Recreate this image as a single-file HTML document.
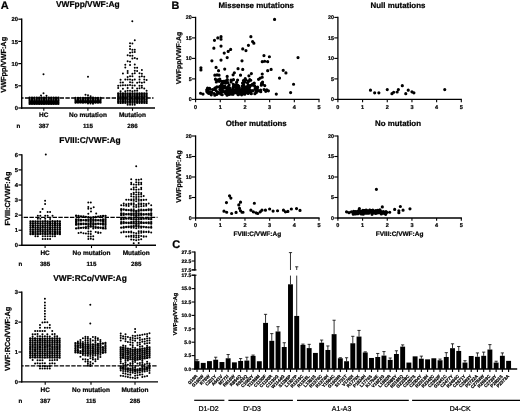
<!DOCTYPE html>
<html><head><meta charset="utf-8"><title>Figure</title>
<style>
html,body{margin:0;padding:0;background:#fff;}
body{width:520px;height:412px;overflow:hidden;}
svg{display:block;font-family:"Liberation Sans",sans-serif;filter:grayscale(1);}
text{text-rendering:geometricPrecision;stroke:#000;stroke-width:0.22px;}
</style></head><body>
<svg width="520" height="412" viewBox="0 0 520 412">
<rect width="520" height="412" fill="#fff"/>
<text x="87.8" y="6.8" font-size="8.4" text-anchor="middle" font-weight="bold">VWFpp/VWF:Ag</text>
<line x1="21.7" y1="18.6" x2="21.7" y2="108.7" stroke="#000" stroke-width="1.4"/>
<line x1="21" y1="108" x2="155" y2="108" stroke="#000" stroke-width="1.4"/>
<line x1="18.3" y1="108" x2="21.7" y2="108" stroke="#000" stroke-width="1.2"/>
<text x="17.9" y="110.1" font-size="5.8" text-anchor="end" font-weight="bold">0</text>
<line x1="18.3" y1="85.8" x2="21.7" y2="85.8" stroke="#000" stroke-width="1.2"/>
<text x="17.9" y="87.9" font-size="5.8" text-anchor="end" font-weight="bold">5</text>
<line x1="18.3" y1="63.6" x2="21.7" y2="63.6" stroke="#000" stroke-width="1.2"/>
<text x="17.9" y="65.7" font-size="5.8" text-anchor="end" font-weight="bold">10</text>
<line x1="18.3" y1="41.4" x2="21.7" y2="41.4" stroke="#000" stroke-width="1.2"/>
<text x="17.9" y="43.5" font-size="5.8" text-anchor="end" font-weight="bold">15</text>
<line x1="18.3" y1="19.2" x2="21.7" y2="19.2" stroke="#000" stroke-width="1.2"/>
<text x="17.9" y="21.3" font-size="5.8" text-anchor="end" font-weight="bold">20</text>
<line x1="43.8" y1="108" x2="43.8" y2="110.8" stroke="#000" stroke-width="1.1"/>
<text x="43.8" y="116.6" font-size="6.5" text-anchor="middle" font-weight="bold">HC</text>
<text x="43.8" y="127.5" font-size="6.2" text-anchor="middle" font-weight="bold">387</text>
<line x1="87.9" y1="108" x2="87.9" y2="110.8" stroke="#000" stroke-width="1.1"/>
<text x="87.9" y="116.6" font-size="6.5" text-anchor="middle" font-weight="bold">No mutation</text>
<text x="87.9" y="127.5" font-size="6.2" text-anchor="middle" font-weight="bold">115</text>
<line x1="132.5" y1="108" x2="132.5" y2="110.8" stroke="#000" stroke-width="1.1"/>
<text x="132.5" y="116.6" font-size="6.5" text-anchor="middle" font-weight="bold">Mutation</text>
<text x="132.5" y="127.5" font-size="6.2" text-anchor="middle" font-weight="bold">286</text>
<text x="18.5" y="127.5" font-size="6.2" text-anchor="middle" font-weight="bold">n</text>
<line x1="21.7" y1="98" x2="153.5" y2="98" stroke="#000" stroke-width="1.3" stroke-dasharray="4.4 1.38" stroke-dashoffset="2.55"/>
<text x="6.4" y="64.8" font-size="7.35" text-anchor="middle" font-weight="bold" transform="rotate(-90 6.4 64.8)">VWFpp/VWF:Ag</text>
<rect x="29.6" y="100.4" width="28.8" height="4.2" fill="#000"/>
<rect x="75" y="100.2" width="26" height="3.0" fill="#000"/>
<path d="M28.43 97.67a1.17 1.17 0 1 0 2.34 0a1.17 1.17 0 1 0 -2.34 0zM30.83 97.65a1.17 1.17 0 1 0 2.34 0a1.17 1.17 0 1 0 -2.34 0zM33.23 97.68a1.17 1.17 0 1 0 2.34 0a1.17 1.17 0 1 0 -2.34 0zM35.63 97.66a1.17 1.17 0 1 0 2.34 0a1.17 1.17 0 1 0 -2.34 0zM38.03 97.72a1.17 1.17 0 1 0 2.34 0a1.17 1.17 0 1 0 -2.34 0zM40.43 97.62a1.17 1.17 0 1 0 2.34 0a1.17 1.17 0 1 0 -2.34 0zM42.83 97.72a1.17 1.17 0 1 0 2.34 0a1.17 1.17 0 1 0 -2.34 0zM45.23 97.57a1.17 1.17 0 1 0 2.34 0a1.17 1.17 0 1 0 -2.34 0zM47.63 97.75a1.17 1.17 0 1 0 2.34 0a1.17 1.17 0 1 0 -2.34 0zM50.03 97.68a1.17 1.17 0 1 0 2.34 0a1.17 1.17 0 1 0 -2.34 0zM52.43 97.56a1.17 1.17 0 1 0 2.34 0a1.17 1.17 0 1 0 -2.34 0zM54.83 97.57a1.17 1.17 0 1 0 2.34 0a1.17 1.17 0 1 0 -2.34 0zM57.23 97.61a1.17 1.17 0 1 0 2.34 0a1.17 1.17 0 1 0 -2.34 0zM28.43 99.17a1.17 1.17 0 1 0 2.34 0a1.17 1.17 0 1 0 -2.34 0zM30.83 99.25a1.17 1.17 0 1 0 2.34 0a1.17 1.17 0 1 0 -2.34 0zM33.23 99.21a1.17 1.17 0 1 0 2.34 0a1.17 1.17 0 1 0 -2.34 0zM35.63 99.21a1.17 1.17 0 1 0 2.34 0a1.17 1.17 0 1 0 -2.34 0zM38.03 99.14a1.17 1.17 0 1 0 2.34 0a1.17 1.17 0 1 0 -2.34 0zM40.43 99.28a1.17 1.17 0 1 0 2.34 0a1.17 1.17 0 1 0 -2.34 0zM42.83 99.22a1.17 1.17 0 1 0 2.34 0a1.17 1.17 0 1 0 -2.34 0zM45.23 99.13a1.17 1.17 0 1 0 2.34 0a1.17 1.17 0 1 0 -2.34 0zM47.63 99.09a1.17 1.17 0 1 0 2.34 0a1.17 1.17 0 1 0 -2.34 0zM50.03 99.16a1.17 1.17 0 1 0 2.34 0a1.17 1.17 0 1 0 -2.34 0zM52.43 99.16a1.17 1.17 0 1 0 2.34 0a1.17 1.17 0 1 0 -2.34 0zM54.83 99.25a1.17 1.17 0 1 0 2.34 0a1.17 1.17 0 1 0 -2.34 0zM57.23 99.12a1.17 1.17 0 1 0 2.34 0a1.17 1.17 0 1 0 -2.34 0zM28.43 100.69a1.17 1.17 0 1 0 2.34 0a1.17 1.17 0 1 0 -2.34 0zM30.83 100.68a1.17 1.17 0 1 0 2.34 0a1.17 1.17 0 1 0 -2.34 0zM33.23 100.73a1.17 1.17 0 1 0 2.34 0a1.17 1.17 0 1 0 -2.34 0zM35.63 100.65a1.17 1.17 0 1 0 2.34 0a1.17 1.17 0 1 0 -2.34 0zM38.03 100.67a1.17 1.17 0 1 0 2.34 0a1.17 1.17 0 1 0 -2.34 0zM40.43 100.75a1.17 1.17 0 1 0 2.34 0a1.17 1.17 0 1 0 -2.34 0zM42.83 100.65a1.17 1.17 0 1 0 2.34 0a1.17 1.17 0 1 0 -2.34 0zM45.23 100.61a1.17 1.17 0 1 0 2.34 0a1.17 1.17 0 1 0 -2.34 0zM47.63 100.64a1.17 1.17 0 1 0 2.34 0a1.17 1.17 0 1 0 -2.34 0zM50.03 100.69a1.17 1.17 0 1 0 2.34 0a1.17 1.17 0 1 0 -2.34 0zM52.43 100.75a1.17 1.17 0 1 0 2.34 0a1.17 1.17 0 1 0 -2.34 0zM54.83 100.73a1.17 1.17 0 1 0 2.34 0a1.17 1.17 0 1 0 -2.34 0zM57.23 100.68a1.17 1.17 0 1 0 2.34 0a1.17 1.17 0 1 0 -2.34 0zM28.43 102.17a1.17 1.17 0 1 0 2.34 0a1.17 1.17 0 1 0 -2.34 0zM30.83 102.28a1.17 1.17 0 1 0 2.34 0a1.17 1.17 0 1 0 -2.34 0zM33.23 102.3a1.17 1.17 0 1 0 2.34 0a1.17 1.17 0 1 0 -2.34 0zM35.63 102.2a1.17 1.17 0 1 0 2.34 0a1.17 1.17 0 1 0 -2.34 0zM38.03 102.25a1.17 1.17 0 1 0 2.34 0a1.17 1.17 0 1 0 -2.34 0zM40.43 102.32a1.17 1.17 0 1 0 2.34 0a1.17 1.17 0 1 0 -2.34 0zM42.83 102.17a1.17 1.17 0 1 0 2.34 0a1.17 1.17 0 1 0 -2.34 0zM45.23 102.19a1.17 1.17 0 1 0 2.34 0a1.17 1.17 0 1 0 -2.34 0zM47.63 102.13a1.17 1.17 0 1 0 2.34 0a1.17 1.17 0 1 0 -2.34 0zM50.03 102.24a1.17 1.17 0 1 0 2.34 0a1.17 1.17 0 1 0 -2.34 0zM52.43 102.24a1.17 1.17 0 1 0 2.34 0a1.17 1.17 0 1 0 -2.34 0zM54.83 102.21a1.17 1.17 0 1 0 2.34 0a1.17 1.17 0 1 0 -2.34 0zM57.23 102.22a1.17 1.17 0 1 0 2.34 0a1.17 1.17 0 1 0 -2.34 0zM28.43 103.81a1.17 1.17 0 1 0 2.34 0a1.17 1.17 0 1 0 -2.34 0zM30.83 103.67a1.17 1.17 0 1 0 2.34 0a1.17 1.17 0 1 0 -2.34 0zM33.23 103.8a1.17 1.17 0 1 0 2.34 0a1.17 1.17 0 1 0 -2.34 0zM35.63 103.68a1.17 1.17 0 1 0 2.34 0a1.17 1.17 0 1 0 -2.34 0zM38.03 103.83a1.17 1.17 0 1 0 2.34 0a1.17 1.17 0 1 0 -2.34 0zM40.43 103.83a1.17 1.17 0 1 0 2.34 0a1.17 1.17 0 1 0 -2.34 0zM42.83 103.76a1.17 1.17 0 1 0 2.34 0a1.17 1.17 0 1 0 -2.34 0zM45.23 103.66a1.17 1.17 0 1 0 2.34 0a1.17 1.17 0 1 0 -2.34 0zM47.63 103.83a1.17 1.17 0 1 0 2.34 0a1.17 1.17 0 1 0 -2.34 0zM50.03 103.78a1.17 1.17 0 1 0 2.34 0a1.17 1.17 0 1 0 -2.34 0zM52.43 103.8a1.17 1.17 0 1 0 2.34 0a1.17 1.17 0 1 0 -2.34 0zM54.83 103.7a1.17 1.17 0 1 0 2.34 0a1.17 1.17 0 1 0 -2.34 0zM57.23 103.78a1.17 1.17 0 1 0 2.34 0a1.17 1.17 0 1 0 -2.34 0zM42.5 74.2a1.0 1.0 0 1 0 2 0a1.0 1.0 0 1 0 -2 0zM42.5 93.2a1.0 1.0 0 1 0 2 0a1.0 1.0 0 1 0 -2 0zM40 95.6a1.0 1.0 0 1 0 2 0a1.0 1.0 0 1 0 -2 0zM45.5 95.8a1.0 1.0 0 1 0 2 0a1.0 1.0 0 1 0 -2 0zM74.33 97.81a1.17 1.17 0 1 0 2.34 0a1.17 1.17 0 1 0 -2.34 0zM76.83 97.93a1.17 1.17 0 1 0 2.34 0a1.17 1.17 0 1 0 -2.34 0zM79.33 97.82a1.17 1.17 0 1 0 2.34 0a1.17 1.17 0 1 0 -2.34 0zM81.83 97.8a1.17 1.17 0 1 0 2.34 0a1.17 1.17 0 1 0 -2.34 0zM84.33 97.82a1.17 1.17 0 1 0 2.34 0a1.17 1.17 0 1 0 -2.34 0zM86.83 97.77a1.17 1.17 0 1 0 2.34 0a1.17 1.17 0 1 0 -2.34 0zM89.33 97.84a1.17 1.17 0 1 0 2.34 0a1.17 1.17 0 1 0 -2.34 0zM91.83 97.79a1.17 1.17 0 1 0 2.34 0a1.17 1.17 0 1 0 -2.34 0zM94.33 97.94a1.17 1.17 0 1 0 2.34 0a1.17 1.17 0 1 0 -2.34 0zM96.83 97.89a1.17 1.17 0 1 0 2.34 0a1.17 1.17 0 1 0 -2.34 0zM99.33 97.88a1.17 1.17 0 1 0 2.34 0a1.17 1.17 0 1 0 -2.34 0zM74.33 99.29a1.17 1.17 0 1 0 2.34 0a1.17 1.17 0 1 0 -2.34 0zM76.83 99.47a1.17 1.17 0 1 0 2.34 0a1.17 1.17 0 1 0 -2.34 0zM79.33 99.48a1.17 1.17 0 1 0 2.34 0a1.17 1.17 0 1 0 -2.34 0zM81.83 99.41a1.17 1.17 0 1 0 2.34 0a1.17 1.17 0 1 0 -2.34 0zM84.33 99.43a1.17 1.17 0 1 0 2.34 0a1.17 1.17 0 1 0 -2.34 0zM86.83 99.49a1.17 1.17 0 1 0 2.34 0a1.17 1.17 0 1 0 -2.34 0zM89.33 99.4a1.17 1.17 0 1 0 2.34 0a1.17 1.17 0 1 0 -2.34 0zM91.83 99.47a1.17 1.17 0 1 0 2.34 0a1.17 1.17 0 1 0 -2.34 0zM94.33 99.43a1.17 1.17 0 1 0 2.34 0a1.17 1.17 0 1 0 -2.34 0zM96.83 99.47a1.17 1.17 0 1 0 2.34 0a1.17 1.17 0 1 0 -2.34 0zM99.33 99.42a1.17 1.17 0 1 0 2.34 0a1.17 1.17 0 1 0 -2.34 0zM74.33 100.99a1.17 1.17 0 1 0 2.34 0a1.17 1.17 0 1 0 -2.34 0zM76.83 100.97a1.17 1.17 0 1 0 2.34 0a1.17 1.17 0 1 0 -2.34 0zM79.33 100.93a1.17 1.17 0 1 0 2.34 0a1.17 1.17 0 1 0 -2.34 0zM81.83 100.89a1.17 1.17 0 1 0 2.34 0a1.17 1.17 0 1 0 -2.34 0zM84.33 100.93a1.17 1.17 0 1 0 2.34 0a1.17 1.17 0 1 0 -2.34 0zM86.83 100.94a1.17 1.17 0 1 0 2.34 0a1.17 1.17 0 1 0 -2.34 0zM89.33 100.99a1.17 1.17 0 1 0 2.34 0a1.17 1.17 0 1 0 -2.34 0zM91.83 100.89a1.17 1.17 0 1 0 2.34 0a1.17 1.17 0 1 0 -2.34 0zM94.33 100.93a1.17 1.17 0 1 0 2.34 0a1.17 1.17 0 1 0 -2.34 0zM96.83 100.98a1.17 1.17 0 1 0 2.34 0a1.17 1.17 0 1 0 -2.34 0zM99.33 100.96a1.17 1.17 0 1 0 2.34 0a1.17 1.17 0 1 0 -2.34 0zM74.33 102.46a1.17 1.17 0 1 0 2.34 0a1.17 1.17 0 1 0 -2.34 0zM76.83 102.38a1.17 1.17 0 1 0 2.34 0a1.17 1.17 0 1 0 -2.34 0zM79.33 102.44a1.17 1.17 0 1 0 2.34 0a1.17 1.17 0 1 0 -2.34 0zM81.83 102.52a1.17 1.17 0 1 0 2.34 0a1.17 1.17 0 1 0 -2.34 0zM84.33 102.34a1.17 1.17 0 1 0 2.34 0a1.17 1.17 0 1 0 -2.34 0zM86.83 102.47a1.17 1.17 0 1 0 2.34 0a1.17 1.17 0 1 0 -2.34 0zM89.33 102.37a1.17 1.17 0 1 0 2.34 0a1.17 1.17 0 1 0 -2.34 0zM91.83 102.47a1.17 1.17 0 1 0 2.34 0a1.17 1.17 0 1 0 -2.34 0zM94.33 102.52a1.17 1.17 0 1 0 2.34 0a1.17 1.17 0 1 0 -2.34 0zM96.83 102.47a1.17 1.17 0 1 0 2.34 0a1.17 1.17 0 1 0 -2.34 0zM99.33 102.42a1.17 1.17 0 1 0 2.34 0a1.17 1.17 0 1 0 -2.34 0zM87 103.62a1.0 1.0 0 1 0 2 0a1.0 1.0 0 1 0 -2 0zM89.5 103.53a1.0 1.0 0 1 0 2 0a1.0 1.0 0 1 0 -2 0zM92 103.67a1.0 1.0 0 1 0 2 0a1.0 1.0 0 1 0 -2 0zM87 76.8a1.0 1.0 0 1 0 2 0a1.0 1.0 0 1 0 -2 0zM84.5 94.7a1.0 1.0 0 1 0 2 0a1.0 1.0 0 1 0 -2 0zM87 95.3a1.0 1.0 0 1 0 2 0a1.0 1.0 0 1 0 -2 0zM89.6 96.2a1.0 1.0 0 1 0 2 0a1.0 1.0 0 1 0 -2 0zM133.77 40.17a1.0 1.0 0 1 0 2 0a1.0 1.0 0 1 0 -2 0zM129.03 43.28a1.0 1.0 0 1 0 2 0a1.0 1.0 0 1 0 -2 0zM131.4 43.41a1.0 1.0 0 1 0 2 0a1.0 1.0 0 1 0 -2 0zM129.03 46.32a1.0 1.0 0 1 0 2 0a1.0 1.0 0 1 0 -2 0zM129.03 49.07a1.0 1.0 0 1 0 2 0a1.0 1.0 0 1 0 -2 0zM131.4 49.87a1.0 1.0 0 1 0 2 0a1.0 1.0 0 1 0 -2 0zM133.77 49.71a1.0 1.0 0 1 0 2 0a1.0 1.0 0 1 0 -2 0zM129.03 52.79a1.0 1.0 0 1 0 2 0a1.0 1.0 0 1 0 -2 0zM131.4 52.14a1.0 1.0 0 1 0 2 0a1.0 1.0 0 1 0 -2 0zM133.77 52.02a1.0 1.0 0 1 0 2 0a1.0 1.0 0 1 0 -2 0zM126.66 55.14a1.0 1.0 0 1 0 2 0a1.0 1.0 0 1 0 -2 0zM129.03 55.63a1.0 1.0 0 1 0 2 0a1.0 1.0 0 1 0 -2 0zM131.4 55.63a1.0 1.0 0 1 0 2 0a1.0 1.0 0 1 0 -2 0zM131.4 58.48a1.0 1.0 0 1 0 2 0a1.0 1.0 0 1 0 -2 0zM133.77 58.01a1.0 1.0 0 1 0 2 0a1.0 1.0 0 1 0 -2 0zM136.14 58.71a1.0 1.0 0 1 0 2 0a1.0 1.0 0 1 0 -2 0zM126.66 61.27a1.0 1.0 0 1 0 2 0a1.0 1.0 0 1 0 -2 0zM129.03 61.7a1.0 1.0 0 1 0 2 0a1.0 1.0 0 1 0 -2 0zM124.29 64.79a1.0 1.0 0 1 0 2 0a1.0 1.0 0 1 0 -2 0zM129.03 64.93a1.0 1.0 0 1 0 2 0a1.0 1.0 0 1 0 -2 0zM133.77 64.45a1.0 1.0 0 1 0 2 0a1.0 1.0 0 1 0 -2 0zM124.29 67.57a1.0 1.0 0 1 0 2 0a1.0 1.0 0 1 0 -2 0zM133.77 67.65a1.0 1.0 0 1 0 2 0a1.0 1.0 0 1 0 -2 0zM136.14 67.72a1.0 1.0 0 1 0 2 0a1.0 1.0 0 1 0 -2 0zM126.66 70.9a1.0 1.0 0 1 0 2 0a1.0 1.0 0 1 0 -2 0zM133.77 70.79a1.0 1.0 0 1 0 2 0a1.0 1.0 0 1 0 -2 0zM136.14 70.91a1.0 1.0 0 1 0 2 0a1.0 1.0 0 1 0 -2 0zM140.88 70.08a1.0 1.0 0 1 0 2 0a1.0 1.0 0 1 0 -2 0zM121.92 73.55a1.0 1.0 0 1 0 2 0a1.0 1.0 0 1 0 -2 0zM126.66 73.03a1.0 1.0 0 1 0 2 0a1.0 1.0 0 1 0 -2 0zM131.4 73.8a1.0 1.0 0 1 0 2 0a1.0 1.0 0 1 0 -2 0zM133.77 73.34a1.0 1.0 0 1 0 2 0a1.0 1.0 0 1 0 -2 0zM138.51 73.15a1.0 1.0 0 1 0 2 0a1.0 1.0 0 1 0 -2 0zM140.88 73.72a1.0 1.0 0 1 0 2 0a1.0 1.0 0 1 0 -2 0zM126.66 76.95a1.0 1.0 0 1 0 2 0a1.0 1.0 0 1 0 -2 0zM129.03 76.22a1.0 1.0 0 1 0 2 0a1.0 1.0 0 1 0 -2 0zM131.4 76.29a1.0 1.0 0 1 0 2 0a1.0 1.0 0 1 0 -2 0zM138.51 76.84a1.0 1.0 0 1 0 2 0a1.0 1.0 0 1 0 -2 0zM140.88 76.31a1.0 1.0 0 1 0 2 0a1.0 1.0 0 1 0 -2 0zM143.25 76.85a1.0 1.0 0 1 0 2 0a1.0 1.0 0 1 0 -2 0zM119.55 79.85a1.0 1.0 0 1 0 2 0a1.0 1.0 0 1 0 -2 0zM124.29 79.57a1.0 1.0 0 1 0 2 0a1.0 1.0 0 1 0 -2 0zM126.66 79.54a1.0 1.0 0 1 0 2 0a1.0 1.0 0 1 0 -2 0zM129.03 79.61a1.0 1.0 0 1 0 2 0a1.0 1.0 0 1 0 -2 0zM131.4 79.97a1.0 1.0 0 1 0 2 0a1.0 1.0 0 1 0 -2 0zM133.77 79.4a1.0 1.0 0 1 0 2 0a1.0 1.0 0 1 0 -2 0zM138.51 79.49a1.0 1.0 0 1 0 2 0a1.0 1.0 0 1 0 -2 0zM143.25 79.54a1.0 1.0 0 1 0 2 0a1.0 1.0 0 1 0 -2 0zM145.62 79.96a1.0 1.0 0 1 0 2 0a1.0 1.0 0 1 0 -2 0zM119.55 82.47a1.0 1.0 0 1 0 2 0a1.0 1.0 0 1 0 -2 0zM121.92 82.43a1.0 1.0 0 1 0 2 0a1.0 1.0 0 1 0 -2 0zM129.03 82.32a1.0 1.0 0 1 0 2 0a1.0 1.0 0 1 0 -2 0zM131.4 82.62a1.0 1.0 0 1 0 2 0a1.0 1.0 0 1 0 -2 0zM136.14 82.78a1.0 1.0 0 1 0 2 0a1.0 1.0 0 1 0 -2 0zM138.51 82.19a1.0 1.0 0 1 0 2 0a1.0 1.0 0 1 0 -2 0zM140.88 82.69a1.0 1.0 0 1 0 2 0a1.0 1.0 0 1 0 -2 0zM143.25 82.36a1.0 1.0 0 1 0 2 0a1.0 1.0 0 1 0 -2 0zM117.18 85.66a1.0 1.0 0 1 0 2 0a1.0 1.0 0 1 0 -2 0zM119.55 85.44a1.0 1.0 0 1 0 2 0a1.0 1.0 0 1 0 -2 0zM121.92 85.13a1.0 1.0 0 1 0 2 0a1.0 1.0 0 1 0 -2 0zM124.29 85.37a1.0 1.0 0 1 0 2 0a1.0 1.0 0 1 0 -2 0zM126.66 85.35a1.0 1.0 0 1 0 2 0a1.0 1.0 0 1 0 -2 0zM129.03 85.09a1.0 1.0 0 1 0 2 0a1.0 1.0 0 1 0 -2 0zM131.4 85.56a1.0 1.0 0 1 0 2 0a1.0 1.0 0 1 0 -2 0zM133.77 85.46a1.0 1.0 0 1 0 2 0a1.0 1.0 0 1 0 -2 0zM138.51 85.79a1.0 1.0 0 1 0 2 0a1.0 1.0 0 1 0 -2 0zM140.88 85.67a1.0 1.0 0 1 0 2 0a1.0 1.0 0 1 0 -2 0zM117.18 88.11a1.0 1.0 0 1 0 2 0a1.0 1.0 0 1 0 -2 0zM121.92 88.8a1.0 1.0 0 1 0 2 0a1.0 1.0 0 1 0 -2 0zM126.66 88.04a1.0 1.0 0 1 0 2 0a1.0 1.0 0 1 0 -2 0zM131.4 87.9a1.0 1.0 0 1 0 2 0a1.0 1.0 0 1 0 -2 0zM136.14 88.59a1.0 1.0 0 1 0 2 0a1.0 1.0 0 1 0 -2 0zM138.51 88.2a1.0 1.0 0 1 0 2 0a1.0 1.0 0 1 0 -2 0zM140.88 87.82a1.0 1.0 0 1 0 2 0a1.0 1.0 0 1 0 -2 0zM143.25 88.48a1.0 1.0 0 1 0 2 0a1.0 1.0 0 1 0 -2 0zM119.55 91.17a1.0 1.0 0 1 0 2 0a1.0 1.0 0 1 0 -2 0zM124.29 91.35a1.0 1.0 0 1 0 2 0a1.0 1.0 0 1 0 -2 0zM126.66 90.74a1.0 1.0 0 1 0 2 0a1.0 1.0 0 1 0 -2 0zM129.03 90.7a1.0 1.0 0 1 0 2 0a1.0 1.0 0 1 0 -2 0zM131.4 91.18a1.0 1.0 0 1 0 2 0a1.0 1.0 0 1 0 -2 0zM133.77 90.81a1.0 1.0 0 1 0 2 0a1.0 1.0 0 1 0 -2 0zM136.14 90.87a1.0 1.0 0 1 0 2 0a1.0 1.0 0 1 0 -2 0zM145.62 90.73a1.0 1.0 0 1 0 2 0a1.0 1.0 0 1 0 -2 0zM117.01 93.38a1.17 1.17 0 1 0 2.34 0a1.17 1.17 0 1 0 -2.34 0zM119.38 93.35a1.17 1.17 0 1 0 2.34 0a1.17 1.17 0 1 0 -2.34 0zM121.75 93.39a1.17 1.17 0 1 0 2.34 0a1.17 1.17 0 1 0 -2.34 0zM124.12 93.41a1.17 1.17 0 1 0 2.34 0a1.17 1.17 0 1 0 -2.34 0zM126.49 93.43a1.17 1.17 0 1 0 2.34 0a1.17 1.17 0 1 0 -2.34 0zM128.86 93.32a1.17 1.17 0 1 0 2.34 0a1.17 1.17 0 1 0 -2.34 0zM131.23 93.43a1.17 1.17 0 1 0 2.34 0a1.17 1.17 0 1 0 -2.34 0zM133.6 93.32a1.17 1.17 0 1 0 2.34 0a1.17 1.17 0 1 0 -2.34 0zM135.97 93.39a1.17 1.17 0 1 0 2.34 0a1.17 1.17 0 1 0 -2.34 0zM138.34 93.46a1.17 1.17 0 1 0 2.34 0a1.17 1.17 0 1 0 -2.34 0zM140.71 93.43a1.17 1.17 0 1 0 2.34 0a1.17 1.17 0 1 0 -2.34 0zM143.08 93.41a1.17 1.17 0 1 0 2.34 0a1.17 1.17 0 1 0 -2.34 0zM145.45 93.41a1.17 1.17 0 1 0 2.34 0a1.17 1.17 0 1 0 -2.34 0zM117.01 95.05a1.17 1.17 0 1 0 2.34 0a1.17 1.17 0 1 0 -2.34 0zM119.38 94.91a1.17 1.17 0 1 0 2.34 0a1.17 1.17 0 1 0 -2.34 0zM121.75 95.01a1.17 1.17 0 1 0 2.34 0a1.17 1.17 0 1 0 -2.34 0zM124.12 95.02a1.17 1.17 0 1 0 2.34 0a1.17 1.17 0 1 0 -2.34 0zM126.49 95.04a1.17 1.17 0 1 0 2.34 0a1.17 1.17 0 1 0 -2.34 0zM128.86 95a1.17 1.17 0 1 0 2.34 0a1.17 1.17 0 1 0 -2.34 0zM131.23 95.01a1.17 1.17 0 1 0 2.34 0a1.17 1.17 0 1 0 -2.34 0zM133.6 95a1.17 1.17 0 1 0 2.34 0a1.17 1.17 0 1 0 -2.34 0zM135.97 94.93a1.17 1.17 0 1 0 2.34 0a1.17 1.17 0 1 0 -2.34 0zM138.34 94.86a1.17 1.17 0 1 0 2.34 0a1.17 1.17 0 1 0 -2.34 0zM140.71 94.98a1.17 1.17 0 1 0 2.34 0a1.17 1.17 0 1 0 -2.34 0zM143.08 94.9a1.17 1.17 0 1 0 2.34 0a1.17 1.17 0 1 0 -2.34 0zM145.45 94.99a1.17 1.17 0 1 0 2.34 0a1.17 1.17 0 1 0 -2.34 0zM117.01 96.56a1.17 1.17 0 1 0 2.34 0a1.17 1.17 0 1 0 -2.34 0zM119.38 96.54a1.17 1.17 0 1 0 2.34 0a1.17 1.17 0 1 0 -2.34 0zM121.75 96.63a1.17 1.17 0 1 0 2.34 0a1.17 1.17 0 1 0 -2.34 0zM124.12 96.57a1.17 1.17 0 1 0 2.34 0a1.17 1.17 0 1 0 -2.34 0zM126.49 96.62a1.17 1.17 0 1 0 2.34 0a1.17 1.17 0 1 0 -2.34 0zM128.86 96.55a1.17 1.17 0 1 0 2.34 0a1.17 1.17 0 1 0 -2.34 0zM131.23 96.48a1.17 1.17 0 1 0 2.34 0a1.17 1.17 0 1 0 -2.34 0zM133.6 96.44a1.17 1.17 0 1 0 2.34 0a1.17 1.17 0 1 0 -2.34 0zM135.97 96.5a1.17 1.17 0 1 0 2.34 0a1.17 1.17 0 1 0 -2.34 0zM138.34 96.48a1.17 1.17 0 1 0 2.34 0a1.17 1.17 0 1 0 -2.34 0zM140.71 96.54a1.17 1.17 0 1 0 2.34 0a1.17 1.17 0 1 0 -2.34 0zM143.08 96.62a1.17 1.17 0 1 0 2.34 0a1.17 1.17 0 1 0 -2.34 0zM145.45 96.63a1.17 1.17 0 1 0 2.34 0a1.17 1.17 0 1 0 -2.34 0zM117.01 98.16a1.17 1.17 0 1 0 2.34 0a1.17 1.17 0 1 0 -2.34 0zM119.38 98.12a1.17 1.17 0 1 0 2.34 0a1.17 1.17 0 1 0 -2.34 0zM121.75 98.01a1.17 1.17 0 1 0 2.34 0a1.17 1.17 0 1 0 -2.34 0zM124.12 98.03a1.17 1.17 0 1 0 2.34 0a1.17 1.17 0 1 0 -2.34 0zM126.49 98.03a1.17 1.17 0 1 0 2.34 0a1.17 1.17 0 1 0 -2.34 0zM128.86 98.12a1.17 1.17 0 1 0 2.34 0a1.17 1.17 0 1 0 -2.34 0zM131.23 98.19a1.17 1.17 0 1 0 2.34 0a1.17 1.17 0 1 0 -2.34 0zM133.6 98.11a1.17 1.17 0 1 0 2.34 0a1.17 1.17 0 1 0 -2.34 0zM135.97 98.07a1.17 1.17 0 1 0 2.34 0a1.17 1.17 0 1 0 -2.34 0zM138.34 98.13a1.17 1.17 0 1 0 2.34 0a1.17 1.17 0 1 0 -2.34 0zM140.71 98.06a1.17 1.17 0 1 0 2.34 0a1.17 1.17 0 1 0 -2.34 0zM143.08 98.06a1.17 1.17 0 1 0 2.34 0a1.17 1.17 0 1 0 -2.34 0zM145.45 98.05a1.17 1.17 0 1 0 2.34 0a1.17 1.17 0 1 0 -2.34 0zM117.01 99.6a1.17 1.17 0 1 0 2.34 0a1.17 1.17 0 1 0 -2.34 0zM119.38 99.65a1.17 1.17 0 1 0 2.34 0a1.17 1.17 0 1 0 -2.34 0zM121.75 99.72a1.17 1.17 0 1 0 2.34 0a1.17 1.17 0 1 0 -2.34 0zM124.12 99.77a1.17 1.17 0 1 0 2.34 0a1.17 1.17 0 1 0 -2.34 0zM126.49 99.59a1.17 1.17 0 1 0 2.34 0a1.17 1.17 0 1 0 -2.34 0zM128.86 99.66a1.17 1.17 0 1 0 2.34 0a1.17 1.17 0 1 0 -2.34 0zM131.23 99.77a1.17 1.17 0 1 0 2.34 0a1.17 1.17 0 1 0 -2.34 0zM133.6 99.68a1.17 1.17 0 1 0 2.34 0a1.17 1.17 0 1 0 -2.34 0zM135.97 99.72a1.17 1.17 0 1 0 2.34 0a1.17 1.17 0 1 0 -2.34 0zM138.34 99.77a1.17 1.17 0 1 0 2.34 0a1.17 1.17 0 1 0 -2.34 0zM140.71 99.69a1.17 1.17 0 1 0 2.34 0a1.17 1.17 0 1 0 -2.34 0zM143.08 99.7a1.17 1.17 0 1 0 2.34 0a1.17 1.17 0 1 0 -2.34 0zM145.45 99.61a1.17 1.17 0 1 0 2.34 0a1.17 1.17 0 1 0 -2.34 0zM117.01 101.25a1.17 1.17 0 1 0 2.34 0a1.17 1.17 0 1 0 -2.34 0zM119.38 101.23a1.17 1.17 0 1 0 2.34 0a1.17 1.17 0 1 0 -2.34 0zM121.75 101.23a1.17 1.17 0 1 0 2.34 0a1.17 1.17 0 1 0 -2.34 0zM124.12 101.26a1.17 1.17 0 1 0 2.34 0a1.17 1.17 0 1 0 -2.34 0zM126.49 101.3a1.17 1.17 0 1 0 2.34 0a1.17 1.17 0 1 0 -2.34 0zM128.86 101.34a1.17 1.17 0 1 0 2.34 0a1.17 1.17 0 1 0 -2.34 0zM131.23 101.29a1.17 1.17 0 1 0 2.34 0a1.17 1.17 0 1 0 -2.34 0zM133.6 101.17a1.17 1.17 0 1 0 2.34 0a1.17 1.17 0 1 0 -2.34 0zM135.97 101.3a1.17 1.17 0 1 0 2.34 0a1.17 1.17 0 1 0 -2.34 0zM138.34 101.21a1.17 1.17 0 1 0 2.34 0a1.17 1.17 0 1 0 -2.34 0zM140.71 101.28a1.17 1.17 0 1 0 2.34 0a1.17 1.17 0 1 0 -2.34 0zM143.08 101.26a1.17 1.17 0 1 0 2.34 0a1.17 1.17 0 1 0 -2.34 0zM145.45 101.29a1.17 1.17 0 1 0 2.34 0a1.17 1.17 0 1 0 -2.34 0zM117.01 102.76a1.17 1.17 0 1 0 2.34 0a1.17 1.17 0 1 0 -2.34 0zM119.38 102.9a1.17 1.17 0 1 0 2.34 0a1.17 1.17 0 1 0 -2.34 0zM121.75 102.72a1.17 1.17 0 1 0 2.34 0a1.17 1.17 0 1 0 -2.34 0zM124.12 102.77a1.17 1.17 0 1 0 2.34 0a1.17 1.17 0 1 0 -2.34 0zM126.49 102.84a1.17 1.17 0 1 0 2.34 0a1.17 1.17 0 1 0 -2.34 0zM128.86 102.82a1.17 1.17 0 1 0 2.34 0a1.17 1.17 0 1 0 -2.34 0zM131.23 102.73a1.17 1.17 0 1 0 2.34 0a1.17 1.17 0 1 0 -2.34 0zM133.6 102.82a1.17 1.17 0 1 0 2.34 0a1.17 1.17 0 1 0 -2.34 0zM135.97 102.79a1.17 1.17 0 1 0 2.34 0a1.17 1.17 0 1 0 -2.34 0zM138.34 102.76a1.17 1.17 0 1 0 2.34 0a1.17 1.17 0 1 0 -2.34 0zM140.71 102.86a1.17 1.17 0 1 0 2.34 0a1.17 1.17 0 1 0 -2.34 0zM143.08 102.73a1.17 1.17 0 1 0 2.34 0a1.17 1.17 0 1 0 -2.34 0zM145.45 102.88a1.17 1.17 0 1 0 2.34 0a1.17 1.17 0 1 0 -2.34 0zM126.66 104.75a1.0 1.0 0 1 0 2 0a1.0 1.0 0 1 0 -2 0zM129.03 104.68a1.0 1.0 0 1 0 2 0a1.0 1.0 0 1 0 -2 0zM131.4 104.76a1.0 1.0 0 1 0 2 0a1.0 1.0 0 1 0 -2 0zM133.77 104.73a1.0 1.0 0 1 0 2 0a1.0 1.0 0 1 0 -2 0zM131.3 21.3a1.0 1.0 0 1 0 2 0a1.0 1.0 0 1 0 -2 0z" fill="#000"/>
<text x="90" y="143.1" font-size="8.4" text-anchor="middle" font-weight="bold">FVIII:C/VWF:Ag</text>
<line x1="21.9" y1="154.22" x2="21.9" y2="246" stroke="#000" stroke-width="1.4"/>
<line x1="21.2" y1="245.3" x2="156" y2="245.3" stroke="#000" stroke-width="1.4"/>
<line x1="18.5" y1="245.3" x2="21.9" y2="245.3" stroke="#000" stroke-width="1.2"/>
<text x="18.1" y="247.4" font-size="5.8" text-anchor="end" font-weight="bold">0</text>
<line x1="18.5" y1="230.22" x2="21.9" y2="230.22" stroke="#000" stroke-width="1.2"/>
<text x="18.1" y="232.32" font-size="5.8" text-anchor="end" font-weight="bold">1</text>
<line x1="18.5" y1="215.14" x2="21.9" y2="215.14" stroke="#000" stroke-width="1.2"/>
<text x="18.1" y="217.24" font-size="5.8" text-anchor="end" font-weight="bold">2</text>
<line x1="18.5" y1="200.06" x2="21.9" y2="200.06" stroke="#000" stroke-width="1.2"/>
<text x="18.1" y="202.16" font-size="5.8" text-anchor="end" font-weight="bold">3</text>
<line x1="18.5" y1="184.98" x2="21.9" y2="184.98" stroke="#000" stroke-width="1.2"/>
<text x="18.1" y="187.08" font-size="5.8" text-anchor="end" font-weight="bold">4</text>
<line x1="18.5" y1="169.9" x2="21.9" y2="169.9" stroke="#000" stroke-width="1.2"/>
<text x="18.1" y="172" font-size="5.8" text-anchor="end" font-weight="bold">5</text>
<line x1="18.5" y1="154.82" x2="21.9" y2="154.82" stroke="#000" stroke-width="1.2"/>
<text x="18.1" y="156.92" font-size="5.8" text-anchor="end" font-weight="bold">6</text>
<line x1="45.1" y1="245.3" x2="45.1" y2="248.1" stroke="#000" stroke-width="1.1"/>
<text x="45.1" y="254.7" font-size="6.5" text-anchor="middle" font-weight="bold">HC</text>
<text x="45.1" y="265.6" font-size="6.2" text-anchor="middle" font-weight="bold">385</text>
<line x1="91.5" y1="245.3" x2="91.5" y2="248.1" stroke="#000" stroke-width="1.1"/>
<text x="91.5" y="254.7" font-size="6.5" text-anchor="middle" font-weight="bold">No mutation</text>
<text x="91.5" y="265.6" font-size="6.2" text-anchor="middle" font-weight="bold">115</text>
<line x1="136.2" y1="245.3" x2="136.2" y2="248.1" stroke="#000" stroke-width="1.1"/>
<text x="136.2" y="254.7" font-size="6.5" text-anchor="middle" font-weight="bold">Mutation</text>
<text x="136.2" y="265.6" font-size="6.2" text-anchor="middle" font-weight="bold">285</text>
<text x="20.4" y="265.6" font-size="6.2" text-anchor="middle" font-weight="bold">n</text>
<line x1="21.9" y1="217.3" x2="157.5" y2="217.3" stroke="#000" stroke-width="1.3" stroke-dasharray="4.4 1.38" stroke-dashoffset="4.0"/>
<text x="10.2" y="198.5" font-size="7.35" text-anchor="middle" font-weight="bold" transform="rotate(-90 10.2 198.5)">FVIII:C/VWF:Ag</text>
<path d="M39.3 212.01a1.0 1.0 0 1 0 2 0a1.0 1.0 0 1 0 -2 0zM46.65 211.97a1.0 1.0 0 1 0 2 0a1.0 1.0 0 1 0 -2 0zM49.1 212.08a1.0 1.0 0 1 0 2 0a1.0 1.0 0 1 0 -2 0zM36.85 215.67a1.0 1.0 0 1 0 2 0a1.0 1.0 0 1 0 -2 0zM39.3 215.75a1.0 1.0 0 1 0 2 0a1.0 1.0 0 1 0 -2 0zM44.2 215.81a1.0 1.0 0 1 0 2 0a1.0 1.0 0 1 0 -2 0zM46.65 215.69a1.0 1.0 0 1 0 2 0a1.0 1.0 0 1 0 -2 0zM51.55 215.71a1.0 1.0 0 1 0 2 0a1.0 1.0 0 1 0 -2 0zM36.85 218.86a1.0 1.0 0 1 0 2 0a1.0 1.0 0 1 0 -2 0zM39.3 218.87a1.0 1.0 0 1 0 2 0a1.0 1.0 0 1 0 -2 0zM44.2 218.82a1.0 1.0 0 1 0 2 0a1.0 1.0 0 1 0 -2 0zM49.1 218.98a1.0 1.0 0 1 0 2 0a1.0 1.0 0 1 0 -2 0zM29.33 221.41a1.17 1.17 0 1 0 2.34 0a1.17 1.17 0 1 0 -2.34 0zM31.78 221.31a1.17 1.17 0 1 0 2.34 0a1.17 1.17 0 1 0 -2.34 0zM34.23 221.44a1.17 1.17 0 1 0 2.34 0a1.17 1.17 0 1 0 -2.34 0zM36.68 221.3a1.17 1.17 0 1 0 2.34 0a1.17 1.17 0 1 0 -2.34 0zM39.13 221.32a1.17 1.17 0 1 0 2.34 0a1.17 1.17 0 1 0 -2.34 0zM41.58 221.33a1.17 1.17 0 1 0 2.34 0a1.17 1.17 0 1 0 -2.34 0zM44.03 221.29a1.17 1.17 0 1 0 2.34 0a1.17 1.17 0 1 0 -2.34 0zM46.48 221.41a1.17 1.17 0 1 0 2.34 0a1.17 1.17 0 1 0 -2.34 0zM48.93 221.42a1.17 1.17 0 1 0 2.34 0a1.17 1.17 0 1 0 -2.34 0zM51.38 221.29a1.17 1.17 0 1 0 2.34 0a1.17 1.17 0 1 0 -2.34 0zM53.83 221.43a1.17 1.17 0 1 0 2.34 0a1.17 1.17 0 1 0 -2.34 0zM56.28 221.25a1.17 1.17 0 1 0 2.34 0a1.17 1.17 0 1 0 -2.34 0zM58.73 221.36a1.17 1.17 0 1 0 2.34 0a1.17 1.17 0 1 0 -2.34 0zM29.33 223.54a1.17 1.17 0 1 0 2.34 0a1.17 1.17 0 1 0 -2.34 0zM31.78 223.51a1.17 1.17 0 1 0 2.34 0a1.17 1.17 0 1 0 -2.34 0zM34.23 223.46a1.17 1.17 0 1 0 2.34 0a1.17 1.17 0 1 0 -2.34 0zM36.68 223.37a1.17 1.17 0 1 0 2.34 0a1.17 1.17 0 1 0 -2.34 0zM39.13 223.5a1.17 1.17 0 1 0 2.34 0a1.17 1.17 0 1 0 -2.34 0zM41.58 223.37a1.17 1.17 0 1 0 2.34 0a1.17 1.17 0 1 0 -2.34 0zM44.03 223.38a1.17 1.17 0 1 0 2.34 0a1.17 1.17 0 1 0 -2.34 0zM46.48 223.48a1.17 1.17 0 1 0 2.34 0a1.17 1.17 0 1 0 -2.34 0zM48.93 223.39a1.17 1.17 0 1 0 2.34 0a1.17 1.17 0 1 0 -2.34 0zM51.38 223.45a1.17 1.17 0 1 0 2.34 0a1.17 1.17 0 1 0 -2.34 0zM53.83 223.43a1.17 1.17 0 1 0 2.34 0a1.17 1.17 0 1 0 -2.34 0zM56.28 223.54a1.17 1.17 0 1 0 2.34 0a1.17 1.17 0 1 0 -2.34 0zM58.73 223.45a1.17 1.17 0 1 0 2.34 0a1.17 1.17 0 1 0 -2.34 0zM29.33 225.59a1.17 1.17 0 1 0 2.34 0a1.17 1.17 0 1 0 -2.34 0zM31.78 225.63a1.17 1.17 0 1 0 2.34 0a1.17 1.17 0 1 0 -2.34 0zM34.23 225.62a1.17 1.17 0 1 0 2.34 0a1.17 1.17 0 1 0 -2.34 0zM36.68 225.62a1.17 1.17 0 1 0 2.34 0a1.17 1.17 0 1 0 -2.34 0zM39.13 225.62a1.17 1.17 0 1 0 2.34 0a1.17 1.17 0 1 0 -2.34 0zM41.58 225.64a1.17 1.17 0 1 0 2.34 0a1.17 1.17 0 1 0 -2.34 0zM44.03 225.55a1.17 1.17 0 1 0 2.34 0a1.17 1.17 0 1 0 -2.34 0zM46.48 225.61a1.17 1.17 0 1 0 2.34 0a1.17 1.17 0 1 0 -2.34 0zM48.93 225.53a1.17 1.17 0 1 0 2.34 0a1.17 1.17 0 1 0 -2.34 0zM51.38 225.6a1.17 1.17 0 1 0 2.34 0a1.17 1.17 0 1 0 -2.34 0zM53.83 225.53a1.17 1.17 0 1 0 2.34 0a1.17 1.17 0 1 0 -2.34 0zM56.28 225.49a1.17 1.17 0 1 0 2.34 0a1.17 1.17 0 1 0 -2.34 0zM58.73 225.51a1.17 1.17 0 1 0 2.34 0a1.17 1.17 0 1 0 -2.34 0zM29.33 227.56a1.17 1.17 0 1 0 2.34 0a1.17 1.17 0 1 0 -2.34 0zM31.78 227.57a1.17 1.17 0 1 0 2.34 0a1.17 1.17 0 1 0 -2.34 0zM34.23 227.71a1.17 1.17 0 1 0 2.34 0a1.17 1.17 0 1 0 -2.34 0zM36.68 227.56a1.17 1.17 0 1 0 2.34 0a1.17 1.17 0 1 0 -2.34 0zM39.13 227.67a1.17 1.17 0 1 0 2.34 0a1.17 1.17 0 1 0 -2.34 0zM41.58 227.56a1.17 1.17 0 1 0 2.34 0a1.17 1.17 0 1 0 -2.34 0zM44.03 227.59a1.17 1.17 0 1 0 2.34 0a1.17 1.17 0 1 0 -2.34 0zM46.48 227.6a1.17 1.17 0 1 0 2.34 0a1.17 1.17 0 1 0 -2.34 0zM48.93 227.67a1.17 1.17 0 1 0 2.34 0a1.17 1.17 0 1 0 -2.34 0zM51.38 227.59a1.17 1.17 0 1 0 2.34 0a1.17 1.17 0 1 0 -2.34 0zM53.83 227.58a1.17 1.17 0 1 0 2.34 0a1.17 1.17 0 1 0 -2.34 0zM56.28 227.61a1.17 1.17 0 1 0 2.34 0a1.17 1.17 0 1 0 -2.34 0zM58.73 227.71a1.17 1.17 0 1 0 2.34 0a1.17 1.17 0 1 0 -2.34 0zM29.33 229.7a1.17 1.17 0 1 0 2.34 0a1.17 1.17 0 1 0 -2.34 0zM31.78 229.83a1.17 1.17 0 1 0 2.34 0a1.17 1.17 0 1 0 -2.34 0zM34.23 229.76a1.17 1.17 0 1 0 2.34 0a1.17 1.17 0 1 0 -2.34 0zM36.68 229.75a1.17 1.17 0 1 0 2.34 0a1.17 1.17 0 1 0 -2.34 0zM39.13 229.66a1.17 1.17 0 1 0 2.34 0a1.17 1.17 0 1 0 -2.34 0zM41.58 229.81a1.17 1.17 0 1 0 2.34 0a1.17 1.17 0 1 0 -2.34 0zM44.03 229.76a1.17 1.17 0 1 0 2.34 0a1.17 1.17 0 1 0 -2.34 0zM46.48 229.7a1.17 1.17 0 1 0 2.34 0a1.17 1.17 0 1 0 -2.34 0zM48.93 229.78a1.17 1.17 0 1 0 2.34 0a1.17 1.17 0 1 0 -2.34 0zM51.38 229.65a1.17 1.17 0 1 0 2.34 0a1.17 1.17 0 1 0 -2.34 0zM53.83 229.72a1.17 1.17 0 1 0 2.34 0a1.17 1.17 0 1 0 -2.34 0zM56.28 229.79a1.17 1.17 0 1 0 2.34 0a1.17 1.17 0 1 0 -2.34 0zM58.73 229.68a1.17 1.17 0 1 0 2.34 0a1.17 1.17 0 1 0 -2.34 0zM29.33 231.81a1.17 1.17 0 1 0 2.34 0a1.17 1.17 0 1 0 -2.34 0zM31.78 231.92a1.17 1.17 0 1 0 2.34 0a1.17 1.17 0 1 0 -2.34 0zM34.23 231.88a1.17 1.17 0 1 0 2.34 0a1.17 1.17 0 1 0 -2.34 0zM36.68 231.8a1.17 1.17 0 1 0 2.34 0a1.17 1.17 0 1 0 -2.34 0zM39.13 231.78a1.17 1.17 0 1 0 2.34 0a1.17 1.17 0 1 0 -2.34 0zM41.58 231.75a1.17 1.17 0 1 0 2.34 0a1.17 1.17 0 1 0 -2.34 0zM44.03 231.92a1.17 1.17 0 1 0 2.34 0a1.17 1.17 0 1 0 -2.34 0zM46.48 231.77a1.17 1.17 0 1 0 2.34 0a1.17 1.17 0 1 0 -2.34 0zM48.93 231.89a1.17 1.17 0 1 0 2.34 0a1.17 1.17 0 1 0 -2.34 0zM51.38 231.85a1.17 1.17 0 1 0 2.34 0a1.17 1.17 0 1 0 -2.34 0zM53.83 231.94a1.17 1.17 0 1 0 2.34 0a1.17 1.17 0 1 0 -2.34 0zM56.28 231.92a1.17 1.17 0 1 0 2.34 0a1.17 1.17 0 1 0 -2.34 0zM58.73 231.91a1.17 1.17 0 1 0 2.34 0a1.17 1.17 0 1 0 -2.34 0zM29.33 234.03a1.17 1.17 0 1 0 2.34 0a1.17 1.17 0 1 0 -2.34 0zM31.78 234.02a1.17 1.17 0 1 0 2.34 0a1.17 1.17 0 1 0 -2.34 0zM34.23 233.96a1.17 1.17 0 1 0 2.34 0a1.17 1.17 0 1 0 -2.34 0zM36.68 233.88a1.17 1.17 0 1 0 2.34 0a1.17 1.17 0 1 0 -2.34 0zM39.13 233.91a1.17 1.17 0 1 0 2.34 0a1.17 1.17 0 1 0 -2.34 0zM41.58 233.87a1.17 1.17 0 1 0 2.34 0a1.17 1.17 0 1 0 -2.34 0zM44.03 233.94a1.17 1.17 0 1 0 2.34 0a1.17 1.17 0 1 0 -2.34 0zM46.48 233.92a1.17 1.17 0 1 0 2.34 0a1.17 1.17 0 1 0 -2.34 0zM48.93 233.87a1.17 1.17 0 1 0 2.34 0a1.17 1.17 0 1 0 -2.34 0zM51.38 233.94a1.17 1.17 0 1 0 2.34 0a1.17 1.17 0 1 0 -2.34 0zM53.83 234.02a1.17 1.17 0 1 0 2.34 0a1.17 1.17 0 1 0 -2.34 0zM56.28 233.85a1.17 1.17 0 1 0 2.34 0a1.17 1.17 0 1 0 -2.34 0zM58.73 233.99a1.17 1.17 0 1 0 2.34 0a1.17 1.17 0 1 0 -2.34 0zM34.4 236.26a1.0 1.0 0 1 0 2 0a1.0 1.0 0 1 0 -2 0zM36.85 236.15a1.0 1.0 0 1 0 2 0a1.0 1.0 0 1 0 -2 0zM41.75 236.19a1.0 1.0 0 1 0 2 0a1.0 1.0 0 1 0 -2 0zM44.2 236.21a1.0 1.0 0 1 0 2 0a1.0 1.0 0 1 0 -2 0zM46.65 236.26a1.0 1.0 0 1 0 2 0a1.0 1.0 0 1 0 -2 0zM49.1 236.22a1.0 1.0 0 1 0 2 0a1.0 1.0 0 1 0 -2 0zM51.55 236.28a1.0 1.0 0 1 0 2 0a1.0 1.0 0 1 0 -2 0zM54 236.19a1.0 1.0 0 1 0 2 0a1.0 1.0 0 1 0 -2 0zM41.75 239.09a1.0 1.0 0 1 0 2 0a1.0 1.0 0 1 0 -2 0zM44.2 239.04a1.0 1.0 0 1 0 2 0a1.0 1.0 0 1 0 -2 0zM46.65 239.07a1.0 1.0 0 1 0 2 0a1.0 1.0 0 1 0 -2 0zM49.1 238.93a1.0 1.0 0 1 0 2 0a1.0 1.0 0 1 0 -2 0zM44.1 200.7a1.0 1.0 0 1 0 2 0a1.0 1.0 0 1 0 -2 0zM44.1 204a1.0 1.0 0 1 0 2 0a1.0 1.0 0 1 0 -2 0zM44.8 154.6a1.0 1.0 0 1 0 2 0a1.0 1.0 0 1 0 -2 0zM41.6 209a1.0 1.0 0 1 0 2 0a1.0 1.0 0 1 0 -2 0zM74.93 215.76a1.17 1.17 0 1 0 2.34 0a1.17 1.17 0 1 0 -2.34 0zM77.38 215.91a1.17 1.17 0 1 0 2.34 0a1.17 1.17 0 1 0 -2.34 0zM79.83 216.41a1.17 1.17 0 1 0 2.34 0a1.17 1.17 0 1 0 -2.34 0zM82.28 216.49a1.17 1.17 0 1 0 2.34 0a1.17 1.17 0 1 0 -2.34 0zM84.73 216.81a1.17 1.17 0 1 0 2.34 0a1.17 1.17 0 1 0 -2.34 0zM87.18 217.18a1.17 1.17 0 1 0 2.34 0a1.17 1.17 0 1 0 -2.34 0zM89.63 217.63a1.17 1.17 0 1 0 2.34 0a1.17 1.17 0 1 0 -2.34 0zM92.08 217.21a1.17 1.17 0 1 0 2.34 0a1.17 1.17 0 1 0 -2.34 0zM94.53 216.99a1.17 1.17 0 1 0 2.34 0a1.17 1.17 0 1 0 -2.34 0zM96.98 216.57a1.17 1.17 0 1 0 2.34 0a1.17 1.17 0 1 0 -2.34 0zM99.43 216.28a1.17 1.17 0 1 0 2.34 0a1.17 1.17 0 1 0 -2.34 0zM101.88 215.98a1.17 1.17 0 1 0 2.34 0a1.17 1.17 0 1 0 -2.34 0zM104.33 215.85a1.17 1.17 0 1 0 2.34 0a1.17 1.17 0 1 0 -2.34 0zM74.93 221.17a1.17 1.17 0 1 0 2.34 0a1.17 1.17 0 1 0 -2.34 0zM77.38 220.68a1.17 1.17 0 1 0 2.34 0a1.17 1.17 0 1 0 -2.34 0zM79.83 220.48a1.17 1.17 0 1 0 2.34 0a1.17 1.17 0 1 0 -2.34 0zM82.28 220.11a1.17 1.17 0 1 0 2.34 0a1.17 1.17 0 1 0 -2.34 0zM84.73 219.93a1.17 1.17 0 1 0 2.34 0a1.17 1.17 0 1 0 -2.34 0zM87.18 219.72a1.17 1.17 0 1 0 2.34 0a1.17 1.17 0 1 0 -2.34 0zM89.63 219.22a1.17 1.17 0 1 0 2.34 0a1.17 1.17 0 1 0 -2.34 0zM92.08 219.75a1.17 1.17 0 1 0 2.34 0a1.17 1.17 0 1 0 -2.34 0zM94.53 219.88a1.17 1.17 0 1 0 2.34 0a1.17 1.17 0 1 0 -2.34 0zM96.98 220.12a1.17 1.17 0 1 0 2.34 0a1.17 1.17 0 1 0 -2.34 0zM99.43 220.67a1.17 1.17 0 1 0 2.34 0a1.17 1.17 0 1 0 -2.34 0zM101.88 220.89a1.17 1.17 0 1 0 2.34 0a1.17 1.17 0 1 0 -2.34 0zM104.33 221.03a1.17 1.17 0 1 0 2.34 0a1.17 1.17 0 1 0 -2.34 0zM74.93 219.38a1.17 1.17 0 1 0 2.34 0a1.17 1.17 0 1 0 -2.34 0zM77.38 219.52a1.17 1.17 0 1 0 2.34 0a1.17 1.17 0 1 0 -2.34 0zM79.83 219.96a1.17 1.17 0 1 0 2.34 0a1.17 1.17 0 1 0 -2.34 0zM82.28 220.19a1.17 1.17 0 1 0 2.34 0a1.17 1.17 0 1 0 -2.34 0zM84.73 220.5a1.17 1.17 0 1 0 2.34 0a1.17 1.17 0 1 0 -2.34 0zM87.18 220.73a1.17 1.17 0 1 0 2.34 0a1.17 1.17 0 1 0 -2.34 0zM89.63 221.03a1.17 1.17 0 1 0 2.34 0a1.17 1.17 0 1 0 -2.34 0zM92.08 220.85a1.17 1.17 0 1 0 2.34 0a1.17 1.17 0 1 0 -2.34 0zM94.53 220.56a1.17 1.17 0 1 0 2.34 0a1.17 1.17 0 1 0 -2.34 0zM96.98 220.36a1.17 1.17 0 1 0 2.34 0a1.17 1.17 0 1 0 -2.34 0zM99.43 220.04a1.17 1.17 0 1 0 2.34 0a1.17 1.17 0 1 0 -2.34 0zM101.88 219.53a1.17 1.17 0 1 0 2.34 0a1.17 1.17 0 1 0 -2.34 0zM104.33 219.28a1.17 1.17 0 1 0 2.34 0a1.17 1.17 0 1 0 -2.34 0zM74.93 224.68a1.17 1.17 0 1 0 2.34 0a1.17 1.17 0 1 0 -2.34 0zM77.38 224.56a1.17 1.17 0 1 0 2.34 0a1.17 1.17 0 1 0 -2.34 0zM79.83 224.17a1.17 1.17 0 1 0 2.34 0a1.17 1.17 0 1 0 -2.34 0zM82.28 223.72a1.17 1.17 0 1 0 2.34 0a1.17 1.17 0 1 0 -2.34 0zM84.73 223.7a1.17 1.17 0 1 0 2.34 0a1.17 1.17 0 1 0 -2.34 0zM87.18 223.31a1.17 1.17 0 1 0 2.34 0a1.17 1.17 0 1 0 -2.34 0zM89.63 223.01a1.17 1.17 0 1 0 2.34 0a1.17 1.17 0 1 0 -2.34 0zM92.08 223.22a1.17 1.17 0 1 0 2.34 0a1.17 1.17 0 1 0 -2.34 0zM94.53 223.65a1.17 1.17 0 1 0 2.34 0a1.17 1.17 0 1 0 -2.34 0zM96.98 223.77a1.17 1.17 0 1 0 2.34 0a1.17 1.17 0 1 0 -2.34 0zM99.43 224.05a1.17 1.17 0 1 0 2.34 0a1.17 1.17 0 1 0 -2.34 0zM101.88 224.48a1.17 1.17 0 1 0 2.34 0a1.17 1.17 0 1 0 -2.34 0zM104.33 224.76a1.17 1.17 0 1 0 2.34 0a1.17 1.17 0 1 0 -2.34 0zM74.93 223a1.17 1.17 0 1 0 2.34 0a1.17 1.17 0 1 0 -2.34 0zM77.38 223.32a1.17 1.17 0 1 0 2.34 0a1.17 1.17 0 1 0 -2.34 0zM79.83 223.63a1.17 1.17 0 1 0 2.34 0a1.17 1.17 0 1 0 -2.34 0zM82.28 224.01a1.17 1.17 0 1 0 2.34 0a1.17 1.17 0 1 0 -2.34 0zM84.73 224.17a1.17 1.17 0 1 0 2.34 0a1.17 1.17 0 1 0 -2.34 0zM87.18 224.51a1.17 1.17 0 1 0 2.34 0a1.17 1.17 0 1 0 -2.34 0zM89.63 224.85a1.17 1.17 0 1 0 2.34 0a1.17 1.17 0 1 0 -2.34 0zM92.08 224.47a1.17 1.17 0 1 0 2.34 0a1.17 1.17 0 1 0 -2.34 0zM94.53 224.28a1.17 1.17 0 1 0 2.34 0a1.17 1.17 0 1 0 -2.34 0zM96.98 223.85a1.17 1.17 0 1 0 2.34 0a1.17 1.17 0 1 0 -2.34 0zM99.43 223.59a1.17 1.17 0 1 0 2.34 0a1.17 1.17 0 1 0 -2.34 0zM101.88 223.28a1.17 1.17 0 1 0 2.34 0a1.17 1.17 0 1 0 -2.34 0zM104.33 222.95a1.17 1.17 0 1 0 2.34 0a1.17 1.17 0 1 0 -2.34 0zM74.93 228.34a1.17 1.17 0 1 0 2.34 0a1.17 1.17 0 1 0 -2.34 0zM77.38 228.16a1.17 1.17 0 1 0 2.34 0a1.17 1.17 0 1 0 -2.34 0zM79.83 227.86a1.17 1.17 0 1 0 2.34 0a1.17 1.17 0 1 0 -2.34 0zM82.28 227.57a1.17 1.17 0 1 0 2.34 0a1.17 1.17 0 1 0 -2.34 0zM84.73 227.22a1.17 1.17 0 1 0 2.34 0a1.17 1.17 0 1 0 -2.34 0zM87.18 226.78a1.17 1.17 0 1 0 2.34 0a1.17 1.17 0 1 0 -2.34 0zM89.63 226.59a1.17 1.17 0 1 0 2.34 0a1.17 1.17 0 1 0 -2.34 0zM92.08 226.76a1.17 1.17 0 1 0 2.34 0a1.17 1.17 0 1 0 -2.34 0zM94.53 227.2a1.17 1.17 0 1 0 2.34 0a1.17 1.17 0 1 0 -2.34 0zM96.98 227.43a1.17 1.17 0 1 0 2.34 0a1.17 1.17 0 1 0 -2.34 0zM99.43 227.71a1.17 1.17 0 1 0 2.34 0a1.17 1.17 0 1 0 -2.34 0zM101.88 228.22a1.17 1.17 0 1 0 2.34 0a1.17 1.17 0 1 0 -2.34 0zM104.33 228.44a1.17 1.17 0 1 0 2.34 0a1.17 1.17 0 1 0 -2.34 0zM77.55 227.37a1.0 1.0 0 1 0 2 0a1.0 1.0 0 1 0 -2 0zM80 227.65a1.0 1.0 0 1 0 2 0a1.0 1.0 0 1 0 -2 0zM82.45 228a1.0 1.0 0 1 0 2 0a1.0 1.0 0 1 0 -2 0zM84.9 228.26a1.0 1.0 0 1 0 2 0a1.0 1.0 0 1 0 -2 0zM87.35 228.49a1.0 1.0 0 1 0 2 0a1.0 1.0 0 1 0 -2 0zM92.25 228.4a1.0 1.0 0 1 0 2 0a1.0 1.0 0 1 0 -2 0zM94.7 228.12a1.0 1.0 0 1 0 2 0a1.0 1.0 0 1 0 -2 0zM97.15 227.99a1.0 1.0 0 1 0 2 0a1.0 1.0 0 1 0 -2 0zM102.05 227.23a1.0 1.0 0 1 0 2 0a1.0 1.0 0 1 0 -2 0zM104.5 226.84a1.0 1.0 0 1 0 2 0a1.0 1.0 0 1 0 -2 0zM77.55 232.94a1.0 1.0 0 1 0 2 0a1.0 1.0 0 1 0 -2 0zM80 232.52a1.0 1.0 0 1 0 2 0a1.0 1.0 0 1 0 -2 0zM87.35 231.54a1.0 1.0 0 1 0 2 0a1.0 1.0 0 1 0 -2 0zM89.8 231.45a1.0 1.0 0 1 0 2 0a1.0 1.0 0 1 0 -2 0zM94.7 232.03a1.0 1.0 0 1 0 2 0a1.0 1.0 0 1 0 -2 0zM97.15 232.22a1.0 1.0 0 1 0 2 0a1.0 1.0 0 1 0 -2 0zM99.6 232.64a1.0 1.0 0 1 0 2 0a1.0 1.0 0 1 0 -2 0zM82.45 233.24a1.0 1.0 0 1 0 2 0a1.0 1.0 0 1 0 -2 0zM84.9 233.61a1.0 1.0 0 1 0 2 0a1.0 1.0 0 1 0 -2 0zM87.35 233.68a1.0 1.0 0 1 0 2 0a1.0 1.0 0 1 0 -2 0zM89.8 234.04a1.0 1.0 0 1 0 2 0a1.0 1.0 0 1 0 -2 0zM97.15 233.09a1.0 1.0 0 1 0 2 0a1.0 1.0 0 1 0 -2 0zM87.35 236.53a1.0 1.0 0 1 0 2 0a1.0 1.0 0 1 0 -2 0zM89.8 236.57a1.0 1.0 0 1 0 2 0a1.0 1.0 0 1 0 -2 0zM92.25 236.34a1.0 1.0 0 1 0 2 0a1.0 1.0 0 1 0 -2 0zM87.35 239.11a1.0 1.0 0 1 0 2 0a1.0 1.0 0 1 0 -2 0zM89.8 238.82a1.0 1.0 0 1 0 2 0a1.0 1.0 0 1 0 -2 0zM92.25 239.29a1.0 1.0 0 1 0 2 0a1.0 1.0 0 1 0 -2 0zM87.3 202.5a1.0 1.0 0 1 0 2 0a1.0 1.0 0 1 0 -2 0zM89.8 202.5a1.0 1.0 0 1 0 2 0a1.0 1.0 0 1 0 -2 0zM87.3 207a1.0 1.0 0 1 0 2 0a1.0 1.0 0 1 0 -2 0zM87.3 208.7a1.0 1.0 0 1 0 2 0a1.0 1.0 0 1 0 -2 0zM90 208.4a1.0 1.0 0 1 0 2 0a1.0 1.0 0 1 0 -2 0zM92.7 207.2a1.0 1.0 0 1 0 2 0a1.0 1.0 0 1 0 -2 0zM90 211.4a1.0 1.0 0 1 0 2 0a1.0 1.0 0 1 0 -2 0zM87.3 213.8a1.0 1.0 0 1 0 2 0a1.0 1.0 0 1 0 -2 0zM95.2 213.5a1.0 1.0 0 1 0 2 0a1.0 1.0 0 1 0 -2 0zM130.2 179.29a1.0 1.0 0 1 0 2 0a1.0 1.0 0 1 0 -2 0zM135.2 179.76a1.0 1.0 0 1 0 2 0a1.0 1.0 0 1 0 -2 0zM137.7 179.67a1.0 1.0 0 1 0 2 0a1.0 1.0 0 1 0 -2 0zM140.2 179.18a1.0 1.0 0 1 0 2 0a1.0 1.0 0 1 0 -2 0zM130.2 182.81a1.0 1.0 0 1 0 2 0a1.0 1.0 0 1 0 -2 0zM135.2 182.34a1.0 1.0 0 1 0 2 0a1.0 1.0 0 1 0 -2 0zM137.7 182.49a1.0 1.0 0 1 0 2 0a1.0 1.0 0 1 0 -2 0zM140.2 182.86a1.0 1.0 0 1 0 2 0a1.0 1.0 0 1 0 -2 0zM130.2 184.31a1.0 1.0 0 1 0 2 0a1.0 1.0 0 1 0 -2 0zM132.7 184.45a1.0 1.0 0 1 0 2 0a1.0 1.0 0 1 0 -2 0zM135.2 184.74a1.0 1.0 0 1 0 2 0a1.0 1.0 0 1 0 -2 0zM137.7 184.53a1.0 1.0 0 1 0 2 0a1.0 1.0 0 1 0 -2 0zM140.2 184.33a1.0 1.0 0 1 0 2 0a1.0 1.0 0 1 0 -2 0zM132.7 187.59a1.0 1.0 0 1 0 2 0a1.0 1.0 0 1 0 -2 0zM135.2 187.27a1.0 1.0 0 1 0 2 0a1.0 1.0 0 1 0 -2 0zM140.2 187.8a1.0 1.0 0 1 0 2 0a1.0 1.0 0 1 0 -2 0zM130.2 189.23a1.0 1.0 0 1 0 2 0a1.0 1.0 0 1 0 -2 0zM132.7 189.53a1.0 1.0 0 1 0 2 0a1.0 1.0 0 1 0 -2 0zM135.2 189.79a1.0 1.0 0 1 0 2 0a1.0 1.0 0 1 0 -2 0zM137.7 189.59a1.0 1.0 0 1 0 2 0a1.0 1.0 0 1 0 -2 0zM140.2 189.19a1.0 1.0 0 1 0 2 0a1.0 1.0 0 1 0 -2 0zM132.7 192.66a1.0 1.0 0 1 0 2 0a1.0 1.0 0 1 0 -2 0zM135.2 192.3a1.0 1.0 0 1 0 2 0a1.0 1.0 0 1 0 -2 0zM137.7 192.55a1.0 1.0 0 1 0 2 0a1.0 1.0 0 1 0 -2 0zM140.2 192.96a1.0 1.0 0 1 0 2 0a1.0 1.0 0 1 0 -2 0zM130.2 194.08a1.0 1.0 0 1 0 2 0a1.0 1.0 0 1 0 -2 0zM132.7 194.37a1.0 1.0 0 1 0 2 0a1.0 1.0 0 1 0 -2 0zM135.2 194.76a1.0 1.0 0 1 0 2 0a1.0 1.0 0 1 0 -2 0zM137.7 194.49a1.0 1.0 0 1 0 2 0a1.0 1.0 0 1 0 -2 0zM140.2 194.18a1.0 1.0 0 1 0 2 0a1.0 1.0 0 1 0 -2 0zM130.2 196.3a1.0 1.0 0 1 0 2 0a1.0 1.0 0 1 0 -2 0zM132.7 196.7a1.0 1.0 0 1 0 2 0a1.0 1.0 0 1 0 -2 0zM135.2 196.98a1.0 1.0 0 1 0 2 0a1.0 1.0 0 1 0 -2 0zM137.7 196.79a1.0 1.0 0 1 0 2 0a1.0 1.0 0 1 0 -2 0zM140.2 196.52a1.0 1.0 0 1 0 2 0a1.0 1.0 0 1 0 -2 0zM142.7 196.11a1.0 1.0 0 1 0 2 0a1.0 1.0 0 1 0 -2 0zM127.7 199.82a1.0 1.0 0 1 0 2 0a1.0 1.0 0 1 0 -2 0zM130.2 199.54a1.0 1.0 0 1 0 2 0a1.0 1.0 0 1 0 -2 0zM132.7 199.24a1.0 1.0 0 1 0 2 0a1.0 1.0 0 1 0 -2 0zM135.2 199.01a1.0 1.0 0 1 0 2 0a1.0 1.0 0 1 0 -2 0zM137.7 199.33a1.0 1.0 0 1 0 2 0a1.0 1.0 0 1 0 -2 0zM140.2 199.7a1.0 1.0 0 1 0 2 0a1.0 1.0 0 1 0 -2 0zM142.7 199.83a1.0 1.0 0 1 0 2 0a1.0 1.0 0 1 0 -2 0zM125.2 199.86a1.0 1.0 0 1 0 2 0a1.0 1.0 0 1 0 -2 0zM130.2 200.27a1.0 1.0 0 1 0 2 0a1.0 1.0 0 1 0 -2 0zM132.7 200.66a1.0 1.0 0 1 0 2 0a1.0 1.0 0 1 0 -2 0zM135.2 201.14a1.0 1.0 0 1 0 2 0a1.0 1.0 0 1 0 -2 0zM137.7 200.7a1.0 1.0 0 1 0 2 0a1.0 1.0 0 1 0 -2 0zM140.2 200.55a1.0 1.0 0 1 0 2 0a1.0 1.0 0 1 0 -2 0zM142.7 200.09a1.0 1.0 0 1 0 2 0a1.0 1.0 0 1 0 -2 0zM145.2 199.66a1.0 1.0 0 1 0 2 0a1.0 1.0 0 1 0 -2 0zM125.2 204.32a1.0 1.0 0 1 0 2 0a1.0 1.0 0 1 0 -2 0zM127.7 203.87a1.0 1.0 0 1 0 2 0a1.0 1.0 0 1 0 -2 0zM130.2 203.58a1.0 1.0 0 1 0 2 0a1.0 1.0 0 1 0 -2 0zM132.7 203.16a1.0 1.0 0 1 0 2 0a1.0 1.0 0 1 0 -2 0zM137.7 203.37a1.0 1.0 0 1 0 2 0a1.0 1.0 0 1 0 -2 0zM140.2 203.53a1.0 1.0 0 1 0 2 0a1.0 1.0 0 1 0 -2 0zM142.7 203.82a1.0 1.0 0 1 0 2 0a1.0 1.0 0 1 0 -2 0zM145.2 204.33a1.0 1.0 0 1 0 2 0a1.0 1.0 0 1 0 -2 0zM122.7 203.45a1.0 1.0 0 1 0 2 0a1.0 1.0 0 1 0 -2 0zM127.7 203.96a1.0 1.0 0 1 0 2 0a1.0 1.0 0 1 0 -2 0zM130.2 204.44a1.0 1.0 0 1 0 2 0a1.0 1.0 0 1 0 -2 0zM132.7 204.65a1.0 1.0 0 1 0 2 0a1.0 1.0 0 1 0 -2 0zM135.2 205.11a1.0 1.0 0 1 0 2 0a1.0 1.0 0 1 0 -2 0zM137.7 204.82a1.0 1.0 0 1 0 2 0a1.0 1.0 0 1 0 -2 0zM140.2 204.37a1.0 1.0 0 1 0 2 0a1.0 1.0 0 1 0 -2 0zM145.2 203.88a1.0 1.0 0 1 0 2 0a1.0 1.0 0 1 0 -2 0zM147.7 203.45a1.0 1.0 0 1 0 2 0a1.0 1.0 0 1 0 -2 0zM120.2 205.21a1.0 1.0 0 1 0 2 0a1.0 1.0 0 1 0 -2 0zM122.7 205.41a1.0 1.0 0 1 0 2 0a1.0 1.0 0 1 0 -2 0zM125.2 205.79a1.0 1.0 0 1 0 2 0a1.0 1.0 0 1 0 -2 0zM127.7 206.08a1.0 1.0 0 1 0 2 0a1.0 1.0 0 1 0 -2 0zM132.7 206.81a1.0 1.0 0 1 0 2 0a1.0 1.0 0 1 0 -2 0zM135.2 206.96a1.0 1.0 0 1 0 2 0a1.0 1.0 0 1 0 -2 0zM137.7 206.76a1.0 1.0 0 1 0 2 0a1.0 1.0 0 1 0 -2 0zM140.2 206.33a1.0 1.0 0 1 0 2 0a1.0 1.0 0 1 0 -2 0zM142.7 206a1.0 1.0 0 1 0 2 0a1.0 1.0 0 1 0 -2 0zM145.2 205.77a1.0 1.0 0 1 0 2 0a1.0 1.0 0 1 0 -2 0zM150.2 205.13a1.0 1.0 0 1 0 2 0a1.0 1.0 0 1 0 -2 0zM120.2 210.7a1.0 1.0 0 1 0 2 0a1.0 1.0 0 1 0 -2 0zM125.2 210.28a1.0 1.0 0 1 0 2 0a1.0 1.0 0 1 0 -2 0zM127.7 210.02a1.0 1.0 0 1 0 2 0a1.0 1.0 0 1 0 -2 0zM130.2 209.55a1.0 1.0 0 1 0 2 0a1.0 1.0 0 1 0 -2 0zM132.7 209.17a1.0 1.0 0 1 0 2 0a1.0 1.0 0 1 0 -2 0zM137.7 209.38a1.0 1.0 0 1 0 2 0a1.0 1.0 0 1 0 -2 0zM140.2 209.47a1.0 1.0 0 1 0 2 0a1.0 1.0 0 1 0 -2 0zM142.7 209.82a1.0 1.0 0 1 0 2 0a1.0 1.0 0 1 0 -2 0zM145.2 210.1a1.0 1.0 0 1 0 2 0a1.0 1.0 0 1 0 -2 0zM147.7 210.36a1.0 1.0 0 1 0 2 0a1.0 1.0 0 1 0 -2 0zM150.2 210.78a1.0 1.0 0 1 0 2 0a1.0 1.0 0 1 0 -2 0zM120.03 209.15a1.17 1.17 0 1 0 2.34 0a1.17 1.17 0 1 0 -2.34 0zM122.53 209.49a1.17 1.17 0 1 0 2.34 0a1.17 1.17 0 1 0 -2.34 0zM125.03 209.91a1.17 1.17 0 1 0 2.34 0a1.17 1.17 0 1 0 -2.34 0zM127.53 210.07a1.17 1.17 0 1 0 2.34 0a1.17 1.17 0 1 0 -2.34 0zM130.03 210.53a1.17 1.17 0 1 0 2.34 0a1.17 1.17 0 1 0 -2.34 0zM132.53 210.73a1.17 1.17 0 1 0 2.34 0a1.17 1.17 0 1 0 -2.34 0zM135.03 210.98a1.17 1.17 0 1 0 2.34 0a1.17 1.17 0 1 0 -2.34 0zM137.53 210.72a1.17 1.17 0 1 0 2.34 0a1.17 1.17 0 1 0 -2.34 0zM140.03 210.32a1.17 1.17 0 1 0 2.34 0a1.17 1.17 0 1 0 -2.34 0zM142.53 210.2a1.17 1.17 0 1 0 2.34 0a1.17 1.17 0 1 0 -2.34 0zM145.03 209.96a1.17 1.17 0 1 0 2.34 0a1.17 1.17 0 1 0 -2.34 0zM147.53 209.5a1.17 1.17 0 1 0 2.34 0a1.17 1.17 0 1 0 -2.34 0zM150.03 209.39a1.17 1.17 0 1 0 2.34 0a1.17 1.17 0 1 0 -2.34 0zM120.03 215.04a1.17 1.17 0 1 0 2.34 0a1.17 1.17 0 1 0 -2.34 0zM122.53 214.82a1.17 1.17 0 1 0 2.34 0a1.17 1.17 0 1 0 -2.34 0zM125.03 214.31a1.17 1.17 0 1 0 2.34 0a1.17 1.17 0 1 0 -2.34 0zM127.53 213.96a1.17 1.17 0 1 0 2.34 0a1.17 1.17 0 1 0 -2.34 0zM130.03 213.76a1.17 1.17 0 1 0 2.34 0a1.17 1.17 0 1 0 -2.34 0zM132.53 213.45a1.17 1.17 0 1 0 2.34 0a1.17 1.17 0 1 0 -2.34 0zM135.03 213.19a1.17 1.17 0 1 0 2.34 0a1.17 1.17 0 1 0 -2.34 0zM137.53 213.39a1.17 1.17 0 1 0 2.34 0a1.17 1.17 0 1 0 -2.34 0zM140.03 213.78a1.17 1.17 0 1 0 2.34 0a1.17 1.17 0 1 0 -2.34 0zM142.53 214.14a1.17 1.17 0 1 0 2.34 0a1.17 1.17 0 1 0 -2.34 0zM145.03 214.27a1.17 1.17 0 1 0 2.34 0a1.17 1.17 0 1 0 -2.34 0zM147.53 214.66a1.17 1.17 0 1 0 2.34 0a1.17 1.17 0 1 0 -2.34 0zM150.03 215.01a1.17 1.17 0 1 0 2.34 0a1.17 1.17 0 1 0 -2.34 0zM120.03 213.53a1.17 1.17 0 1 0 2.34 0a1.17 1.17 0 1 0 -2.34 0zM122.53 213.67a1.17 1.17 0 1 0 2.34 0a1.17 1.17 0 1 0 -2.34 0zM125.03 214.07a1.17 1.17 0 1 0 2.34 0a1.17 1.17 0 1 0 -2.34 0zM127.53 214.38a1.17 1.17 0 1 0 2.34 0a1.17 1.17 0 1 0 -2.34 0zM130.03 214.71a1.17 1.17 0 1 0 2.34 0a1.17 1.17 0 1 0 -2.34 0zM132.53 215a1.17 1.17 0 1 0 2.34 0a1.17 1.17 0 1 0 -2.34 0zM135.03 215.24a1.17 1.17 0 1 0 2.34 0a1.17 1.17 0 1 0 -2.34 0zM137.53 214.97a1.17 1.17 0 1 0 2.34 0a1.17 1.17 0 1 0 -2.34 0zM140.03 214.73a1.17 1.17 0 1 0 2.34 0a1.17 1.17 0 1 0 -2.34 0zM142.53 214.46a1.17 1.17 0 1 0 2.34 0a1.17 1.17 0 1 0 -2.34 0zM145.03 214.1a1.17 1.17 0 1 0 2.34 0a1.17 1.17 0 1 0 -2.34 0zM147.53 213.95a1.17 1.17 0 1 0 2.34 0a1.17 1.17 0 1 0 -2.34 0zM150.03 213.54a1.17 1.17 0 1 0 2.34 0a1.17 1.17 0 1 0 -2.34 0zM120.03 219.32a1.17 1.17 0 1 0 2.34 0a1.17 1.17 0 1 0 -2.34 0zM122.53 218.97a1.17 1.17 0 1 0 2.34 0a1.17 1.17 0 1 0 -2.34 0zM125.03 218.61a1.17 1.17 0 1 0 2.34 0a1.17 1.17 0 1 0 -2.34 0zM127.53 218.44a1.17 1.17 0 1 0 2.34 0a1.17 1.17 0 1 0 -2.34 0zM130.03 218a1.17 1.17 0 1 0 2.34 0a1.17 1.17 0 1 0 -2.34 0zM132.53 217.6a1.17 1.17 0 1 0 2.34 0a1.17 1.17 0 1 0 -2.34 0zM135.03 217.44a1.17 1.17 0 1 0 2.34 0a1.17 1.17 0 1 0 -2.34 0zM137.53 217.7a1.17 1.17 0 1 0 2.34 0a1.17 1.17 0 1 0 -2.34 0zM140.03 217.93a1.17 1.17 0 1 0 2.34 0a1.17 1.17 0 1 0 -2.34 0zM142.53 218.26a1.17 1.17 0 1 0 2.34 0a1.17 1.17 0 1 0 -2.34 0zM145.03 218.56a1.17 1.17 0 1 0 2.34 0a1.17 1.17 0 1 0 -2.34 0zM147.53 218.95a1.17 1.17 0 1 0 2.34 0a1.17 1.17 0 1 0 -2.34 0zM150.03 219.16a1.17 1.17 0 1 0 2.34 0a1.17 1.17 0 1 0 -2.34 0zM120.03 217.81a1.17 1.17 0 1 0 2.34 0a1.17 1.17 0 1 0 -2.34 0zM122.53 218.1a1.17 1.17 0 1 0 2.34 0a1.17 1.17 0 1 0 -2.34 0zM125.03 218.46a1.17 1.17 0 1 0 2.34 0a1.17 1.17 0 1 0 -2.34 0zM127.53 218.61a1.17 1.17 0 1 0 2.34 0a1.17 1.17 0 1 0 -2.34 0zM130.03 219.08a1.17 1.17 0 1 0 2.34 0a1.17 1.17 0 1 0 -2.34 0zM132.53 219.33a1.17 1.17 0 1 0 2.34 0a1.17 1.17 0 1 0 -2.34 0zM135.03 219.62a1.17 1.17 0 1 0 2.34 0a1.17 1.17 0 1 0 -2.34 0zM137.53 219.36a1.17 1.17 0 1 0 2.34 0a1.17 1.17 0 1 0 -2.34 0zM140.03 219a1.17 1.17 0 1 0 2.34 0a1.17 1.17 0 1 0 -2.34 0zM142.53 218.68a1.17 1.17 0 1 0 2.34 0a1.17 1.17 0 1 0 -2.34 0zM145.03 218.3a1.17 1.17 0 1 0 2.34 0a1.17 1.17 0 1 0 -2.34 0zM147.53 218.07a1.17 1.17 0 1 0 2.34 0a1.17 1.17 0 1 0 -2.34 0zM150.03 217.69a1.17 1.17 0 1 0 2.34 0a1.17 1.17 0 1 0 -2.34 0zM120.03 223.39a1.17 1.17 0 1 0 2.34 0a1.17 1.17 0 1 0 -2.34 0zM122.53 223.08a1.17 1.17 0 1 0 2.34 0a1.17 1.17 0 1 0 -2.34 0zM125.03 222.76a1.17 1.17 0 1 0 2.34 0a1.17 1.17 0 1 0 -2.34 0zM127.53 222.65a1.17 1.17 0 1 0 2.34 0a1.17 1.17 0 1 0 -2.34 0zM130.03 222.27a1.17 1.17 0 1 0 2.34 0a1.17 1.17 0 1 0 -2.34 0zM132.53 221.98a1.17 1.17 0 1 0 2.34 0a1.17 1.17 0 1 0 -2.34 0zM135.03 221.8a1.17 1.17 0 1 0 2.34 0a1.17 1.17 0 1 0 -2.34 0zM137.53 221.85a1.17 1.17 0 1 0 2.34 0a1.17 1.17 0 1 0 -2.34 0zM140.03 222.29a1.17 1.17 0 1 0 2.34 0a1.17 1.17 0 1 0 -2.34 0zM142.53 222.56a1.17 1.17 0 1 0 2.34 0a1.17 1.17 0 1 0 -2.34 0zM145.03 222.81a1.17 1.17 0 1 0 2.34 0a1.17 1.17 0 1 0 -2.34 0zM147.53 223.14a1.17 1.17 0 1 0 2.34 0a1.17 1.17 0 1 0 -2.34 0zM150.03 223.57a1.17 1.17 0 1 0 2.34 0a1.17 1.17 0 1 0 -2.34 0zM120.03 222.11a1.17 1.17 0 1 0 2.34 0a1.17 1.17 0 1 0 -2.34 0zM122.53 222.29a1.17 1.17 0 1 0 2.34 0a1.17 1.17 0 1 0 -2.34 0zM125.03 222.65a1.17 1.17 0 1 0 2.34 0a1.17 1.17 0 1 0 -2.34 0zM127.53 223a1.17 1.17 0 1 0 2.34 0a1.17 1.17 0 1 0 -2.34 0zM130.03 223.18a1.17 1.17 0 1 0 2.34 0a1.17 1.17 0 1 0 -2.34 0zM132.53 223.43a1.17 1.17 0 1 0 2.34 0a1.17 1.17 0 1 0 -2.34 0zM135.03 223.67a1.17 1.17 0 1 0 2.34 0a1.17 1.17 0 1 0 -2.34 0zM137.53 223.64a1.17 1.17 0 1 0 2.34 0a1.17 1.17 0 1 0 -2.34 0zM140.03 223.1a1.17 1.17 0 1 0 2.34 0a1.17 1.17 0 1 0 -2.34 0zM142.53 222.89a1.17 1.17 0 1 0 2.34 0a1.17 1.17 0 1 0 -2.34 0zM145.03 222.58a1.17 1.17 0 1 0 2.34 0a1.17 1.17 0 1 0 -2.34 0zM147.53 222.46a1.17 1.17 0 1 0 2.34 0a1.17 1.17 0 1 0 -2.34 0zM150.03 222.08a1.17 1.17 0 1 0 2.34 0a1.17 1.17 0 1 0 -2.34 0zM120.03 227.6a1.17 1.17 0 1 0 2.34 0a1.17 1.17 0 1 0 -2.34 0zM122.53 227.51a1.17 1.17 0 1 0 2.34 0a1.17 1.17 0 1 0 -2.34 0zM125.03 227.02a1.17 1.17 0 1 0 2.34 0a1.17 1.17 0 1 0 -2.34 0zM127.53 226.7a1.17 1.17 0 1 0 2.34 0a1.17 1.17 0 1 0 -2.34 0zM130.03 226.53a1.17 1.17 0 1 0 2.34 0a1.17 1.17 0 1 0 -2.34 0zM132.53 226.18a1.17 1.17 0 1 0 2.34 0a1.17 1.17 0 1 0 -2.34 0zM135.03 226.04a1.17 1.17 0 1 0 2.34 0a1.17 1.17 0 1 0 -2.34 0zM137.53 226.21a1.17 1.17 0 1 0 2.34 0a1.17 1.17 0 1 0 -2.34 0zM140.03 226.62a1.17 1.17 0 1 0 2.34 0a1.17 1.17 0 1 0 -2.34 0zM142.53 226.8a1.17 1.17 0 1 0 2.34 0a1.17 1.17 0 1 0 -2.34 0zM145.03 227.15a1.17 1.17 0 1 0 2.34 0a1.17 1.17 0 1 0 -2.34 0zM147.53 227.33a1.17 1.17 0 1 0 2.34 0a1.17 1.17 0 1 0 -2.34 0zM150.03 227.62a1.17 1.17 0 1 0 2.34 0a1.17 1.17 0 1 0 -2.34 0zM122.7 226.75a1.0 1.0 0 1 0 2 0a1.0 1.0 0 1 0 -2 0zM125.2 227a1.0 1.0 0 1 0 2 0a1.0 1.0 0 1 0 -2 0zM127.7 227.37a1.0 1.0 0 1 0 2 0a1.0 1.0 0 1 0 -2 0zM130.2 227.69a1.0 1.0 0 1 0 2 0a1.0 1.0 0 1 0 -2 0zM132.7 227.87a1.0 1.0 0 1 0 2 0a1.0 1.0 0 1 0 -2 0zM135.2 228.21a1.0 1.0 0 1 0 2 0a1.0 1.0 0 1 0 -2 0zM137.7 227.82a1.0 1.0 0 1 0 2 0a1.0 1.0 0 1 0 -2 0zM140.2 227.77a1.0 1.0 0 1 0 2 0a1.0 1.0 0 1 0 -2 0zM142.7 227.22a1.0 1.0 0 1 0 2 0a1.0 1.0 0 1 0 -2 0zM145.2 227.05a1.0 1.0 0 1 0 2 0a1.0 1.0 0 1 0 -2 0zM150.2 226.56a1.0 1.0 0 1 0 2 0a1.0 1.0 0 1 0 -2 0zM120.2 232.52a1.0 1.0 0 1 0 2 0a1.0 1.0 0 1 0 -2 0zM122.7 232.22a1.0 1.0 0 1 0 2 0a1.0 1.0 0 1 0 -2 0zM125.2 231.97a1.0 1.0 0 1 0 2 0a1.0 1.0 0 1 0 -2 0zM127.7 231.69a1.0 1.0 0 1 0 2 0a1.0 1.0 0 1 0 -2 0zM130.2 231.48a1.0 1.0 0 1 0 2 0a1.0 1.0 0 1 0 -2 0zM137.7 231.15a1.0 1.0 0 1 0 2 0a1.0 1.0 0 1 0 -2 0zM140.2 231.25a1.0 1.0 0 1 0 2 0a1.0 1.0 0 1 0 -2 0zM142.7 231.55a1.0 1.0 0 1 0 2 0a1.0 1.0 0 1 0 -2 0zM145.2 231.82a1.0 1.0 0 1 0 2 0a1.0 1.0 0 1 0 -2 0zM147.7 232.33a1.0 1.0 0 1 0 2 0a1.0 1.0 0 1 0 -2 0zM150.2 232.55a1.0 1.0 0 1 0 2 0a1.0 1.0 0 1 0 -2 0zM122.7 231.51a1.0 1.0 0 1 0 2 0a1.0 1.0 0 1 0 -2 0zM127.7 232.21a1.0 1.0 0 1 0 2 0a1.0 1.0 0 1 0 -2 0zM130.2 232.59a1.0 1.0 0 1 0 2 0a1.0 1.0 0 1 0 -2 0zM132.7 232.77a1.0 1.0 0 1 0 2 0a1.0 1.0 0 1 0 -2 0zM135.2 233.2a1.0 1.0 0 1 0 2 0a1.0 1.0 0 1 0 -2 0zM137.7 232.95a1.0 1.0 0 1 0 2 0a1.0 1.0 0 1 0 -2 0zM140.2 232.64a1.0 1.0 0 1 0 2 0a1.0 1.0 0 1 0 -2 0zM142.7 232.26a1.0 1.0 0 1 0 2 0a1.0 1.0 0 1 0 -2 0zM145.2 232.02a1.0 1.0 0 1 0 2 0a1.0 1.0 0 1 0 -2 0zM147.7 231.62a1.0 1.0 0 1 0 2 0a1.0 1.0 0 1 0 -2 0zM125.2 236.47a1.0 1.0 0 1 0 2 0a1.0 1.0 0 1 0 -2 0zM127.7 236.25a1.0 1.0 0 1 0 2 0a1.0 1.0 0 1 0 -2 0zM130.2 235.86a1.0 1.0 0 1 0 2 0a1.0 1.0 0 1 0 -2 0zM132.7 235.56a1.0 1.0 0 1 0 2 0a1.0 1.0 0 1 0 -2 0zM135.2 235.42a1.0 1.0 0 1 0 2 0a1.0 1.0 0 1 0 -2 0zM137.7 235.48a1.0 1.0 0 1 0 2 0a1.0 1.0 0 1 0 -2 0zM140.2 235.97a1.0 1.0 0 1 0 2 0a1.0 1.0 0 1 0 -2 0zM142.7 236.27a1.0 1.0 0 1 0 2 0a1.0 1.0 0 1 0 -2 0zM145.2 236.55a1.0 1.0 0 1 0 2 0a1.0 1.0 0 1 0 -2 0zM127.7 236.48a1.0 1.0 0 1 0 2 0a1.0 1.0 0 1 0 -2 0zM130.2 236.86a1.0 1.0 0 1 0 2 0a1.0 1.0 0 1 0 -2 0zM132.7 237.05a1.0 1.0 0 1 0 2 0a1.0 1.0 0 1 0 -2 0zM135.2 237.47a1.0 1.0 0 1 0 2 0a1.0 1.0 0 1 0 -2 0zM137.7 237.21a1.0 1.0 0 1 0 2 0a1.0 1.0 0 1 0 -2 0zM142.7 236.71a1.0 1.0 0 1 0 2 0a1.0 1.0 0 1 0 -2 0zM130.2 239.48a1.0 1.0 0 1 0 2 0a1.0 1.0 0 1 0 -2 0zM132.7 239.85a1.0 1.0 0 1 0 2 0a1.0 1.0 0 1 0 -2 0zM135.2 240.14a1.0 1.0 0 1 0 2 0a1.0 1.0 0 1 0 -2 0zM137.7 239.67a1.0 1.0 0 1 0 2 0a1.0 1.0 0 1 0 -2 0zM140.2 239.3a1.0 1.0 0 1 0 2 0a1.0 1.0 0 1 0 -2 0zM132.7 243.15a1.0 1.0 0 1 0 2 0a1.0 1.0 0 1 0 -2 0zM137.7 243.01a1.0 1.0 0 1 0 2 0a1.0 1.0 0 1 0 -2 0zM135.2 166.2a1.0 1.0 0 1 0 2 0a1.0 1.0 0 1 0 -2 0z" fill="#000"/>
<text x="90" y="281.4" font-size="8.4" text-anchor="middle" font-weight="bold">VWF:RCo/VWF:Ag</text>
<line x1="21.8" y1="291.6" x2="21.8" y2="382.6" stroke="#000" stroke-width="1.4"/>
<line x1="21.1" y1="381.9" x2="158" y2="381.9" stroke="#000" stroke-width="1.4"/>
<line x1="18.4" y1="381.9" x2="21.8" y2="381.9" stroke="#000" stroke-width="1.2"/>
<text x="18" y="384" font-size="5.8" text-anchor="end" font-weight="bold">0</text>
<line x1="18.4" y1="352" x2="21.8" y2="352" stroke="#000" stroke-width="1.2"/>
<text x="18" y="354.1" font-size="5.8" text-anchor="end" font-weight="bold">1</text>
<line x1="18.4" y1="322.1" x2="21.8" y2="322.1" stroke="#000" stroke-width="1.2"/>
<text x="18" y="324.2" font-size="5.8" text-anchor="end" font-weight="bold">2</text>
<line x1="18.4" y1="292.2" x2="21.8" y2="292.2" stroke="#000" stroke-width="1.2"/>
<text x="18" y="294.3" font-size="5.8" text-anchor="end" font-weight="bold">3</text>
<line x1="45.2" y1="381.9" x2="45.2" y2="384.7" stroke="#000" stroke-width="1.1"/>
<text x="45.2" y="391.8" font-size="6.5" text-anchor="middle" font-weight="bold">HC</text>
<text x="45.2" y="403.4" font-size="6.2" text-anchor="middle" font-weight="bold">387</text>
<line x1="91" y1="381.9" x2="91" y2="384.7" stroke="#000" stroke-width="1.1"/>
<text x="91" y="391.8" font-size="6.5" text-anchor="middle" font-weight="bold">No mutation</text>
<text x="91" y="403.4" font-size="6.2" text-anchor="middle" font-weight="bold">115</text>
<line x1="135" y1="381.9" x2="135" y2="384.7" stroke="#000" stroke-width="1.1"/>
<text x="135" y="391.8" font-size="6.5" text-anchor="middle" font-weight="bold">Mutation</text>
<text x="135" y="403.4" font-size="6.2" text-anchor="middle" font-weight="bold">285</text>
<text x="20.4" y="403.4" font-size="6.2" text-anchor="middle" font-weight="bold">n</text>
<line x1="21.8" y1="365.9" x2="157.5" y2="365.9" stroke="#000" stroke-width="1.3" stroke-dasharray="4.4 1.38" stroke-dashoffset="2.55"/>
<text x="10.4" y="338.9" font-size="7.35" text-anchor="middle" font-weight="bold" transform="rotate(-90 10.4 338.9)">VWF:RCo/VWF:Ag</text>
<path d="M41.45 322.43a1.0 1.0 0 1 0 2 0a1.0 1.0 0 1 0 -2 0zM43.9 322.36a1.0 1.0 0 1 0 2 0a1.0 1.0 0 1 0 -2 0zM46.35 322.36a1.0 1.0 0 1 0 2 0a1.0 1.0 0 1 0 -2 0zM39 325.02a1.0 1.0 0 1 0 2 0a1.0 1.0 0 1 0 -2 0zM48.8 325.01a1.0 1.0 0 1 0 2 0a1.0 1.0 0 1 0 -2 0zM39 327.73a1.0 1.0 0 1 0 2 0a1.0 1.0 0 1 0 -2 0zM43.9 327.7a1.0 1.0 0 1 0 2 0a1.0 1.0 0 1 0 -2 0zM46.35 327.64a1.0 1.0 0 1 0 2 0a1.0 1.0 0 1 0 -2 0zM48.8 327.69a1.0 1.0 0 1 0 2 0a1.0 1.0 0 1 0 -2 0zM34.1 331a1.0 1.0 0 1 0 2 0a1.0 1.0 0 1 0 -2 0zM36.55 331.03a1.0 1.0 0 1 0 2 0a1.0 1.0 0 1 0 -2 0zM39 331.02a1.0 1.0 0 1 0 2 0a1.0 1.0 0 1 0 -2 0zM41.45 331.09a1.0 1.0 0 1 0 2 0a1.0 1.0 0 1 0 -2 0zM43.9 330.99a1.0 1.0 0 1 0 2 0a1.0 1.0 0 1 0 -2 0zM51.25 331.05a1.0 1.0 0 1 0 2 0a1.0 1.0 0 1 0 -2 0zM31.65 334.2a1.0 1.0 0 1 0 2 0a1.0 1.0 0 1 0 -2 0zM34.1 334.22a1.0 1.0 0 1 0 2 0a1.0 1.0 0 1 0 -2 0zM36.55 334.07a1.0 1.0 0 1 0 2 0a1.0 1.0 0 1 0 -2 0zM41.45 334.21a1.0 1.0 0 1 0 2 0a1.0 1.0 0 1 0 -2 0zM46.35 334.13a1.0 1.0 0 1 0 2 0a1.0 1.0 0 1 0 -2 0zM51.25 334.2a1.0 1.0 0 1 0 2 0a1.0 1.0 0 1 0 -2 0zM53.7 334.08a1.0 1.0 0 1 0 2 0a1.0 1.0 0 1 0 -2 0zM31.65 336.38a1.0 1.0 0 1 0 2 0a1.0 1.0 0 1 0 -2 0zM36.55 336.33a1.0 1.0 0 1 0 2 0a1.0 1.0 0 1 0 -2 0zM39 336.29a1.0 1.0 0 1 0 2 0a1.0 1.0 0 1 0 -2 0zM41.45 336.43a1.0 1.0 0 1 0 2 0a1.0 1.0 0 1 0 -2 0zM43.9 336.32a1.0 1.0 0 1 0 2 0a1.0 1.0 0 1 0 -2 0zM46.35 336.45a1.0 1.0 0 1 0 2 0a1.0 1.0 0 1 0 -2 0zM48.8 336.38a1.0 1.0 0 1 0 2 0a1.0 1.0 0 1 0 -2 0zM53.7 336.31a1.0 1.0 0 1 0 2 0a1.0 1.0 0 1 0 -2 0zM56.15 336.3a1.0 1.0 0 1 0 2 0a1.0 1.0 0 1 0 -2 0zM29.03 338.52a1.17 1.17 0 1 0 2.34 0a1.17 1.17 0 1 0 -2.34 0zM31.48 338.62a1.17 1.17 0 1 0 2.34 0a1.17 1.17 0 1 0 -2.34 0zM33.93 338.49a1.17 1.17 0 1 0 2.34 0a1.17 1.17 0 1 0 -2.34 0zM36.38 338.62a1.17 1.17 0 1 0 2.34 0a1.17 1.17 0 1 0 -2.34 0zM38.83 338.63a1.17 1.17 0 1 0 2.34 0a1.17 1.17 0 1 0 -2.34 0zM41.28 338.65a1.17 1.17 0 1 0 2.34 0a1.17 1.17 0 1 0 -2.34 0zM43.73 338.58a1.17 1.17 0 1 0 2.34 0a1.17 1.17 0 1 0 -2.34 0zM46.18 338.6a1.17 1.17 0 1 0 2.34 0a1.17 1.17 0 1 0 -2.34 0zM48.63 338.58a1.17 1.17 0 1 0 2.34 0a1.17 1.17 0 1 0 -2.34 0zM51.08 338.45a1.17 1.17 0 1 0 2.34 0a1.17 1.17 0 1 0 -2.34 0zM53.53 338.51a1.17 1.17 0 1 0 2.34 0a1.17 1.17 0 1 0 -2.34 0zM55.98 338.51a1.17 1.17 0 1 0 2.34 0a1.17 1.17 0 1 0 -2.34 0zM58.43 338.59a1.17 1.17 0 1 0 2.34 0a1.17 1.17 0 1 0 -2.34 0zM29.03 340.58a1.17 1.17 0 1 0 2.34 0a1.17 1.17 0 1 0 -2.34 0zM31.48 340.64a1.17 1.17 0 1 0 2.34 0a1.17 1.17 0 1 0 -2.34 0zM33.93 340.57a1.17 1.17 0 1 0 2.34 0a1.17 1.17 0 1 0 -2.34 0zM36.38 340.67a1.17 1.17 0 1 0 2.34 0a1.17 1.17 0 1 0 -2.34 0zM38.83 340.59a1.17 1.17 0 1 0 2.34 0a1.17 1.17 0 1 0 -2.34 0zM41.28 340.69a1.17 1.17 0 1 0 2.34 0a1.17 1.17 0 1 0 -2.34 0zM43.73 340.62a1.17 1.17 0 1 0 2.34 0a1.17 1.17 0 1 0 -2.34 0zM46.18 340.63a1.17 1.17 0 1 0 2.34 0a1.17 1.17 0 1 0 -2.34 0zM48.63 340.68a1.17 1.17 0 1 0 2.34 0a1.17 1.17 0 1 0 -2.34 0zM51.08 340.71a1.17 1.17 0 1 0 2.34 0a1.17 1.17 0 1 0 -2.34 0zM53.53 340.64a1.17 1.17 0 1 0 2.34 0a1.17 1.17 0 1 0 -2.34 0zM55.98 340.74a1.17 1.17 0 1 0 2.34 0a1.17 1.17 0 1 0 -2.34 0zM58.43 340.69a1.17 1.17 0 1 0 2.34 0a1.17 1.17 0 1 0 -2.34 0zM29.03 342.77a1.17 1.17 0 1 0 2.34 0a1.17 1.17 0 1 0 -2.34 0zM31.48 342.82a1.17 1.17 0 1 0 2.34 0a1.17 1.17 0 1 0 -2.34 0zM33.93 342.82a1.17 1.17 0 1 0 2.34 0a1.17 1.17 0 1 0 -2.34 0zM36.38 342.74a1.17 1.17 0 1 0 2.34 0a1.17 1.17 0 1 0 -2.34 0zM38.83 342.73a1.17 1.17 0 1 0 2.34 0a1.17 1.17 0 1 0 -2.34 0zM41.28 342.77a1.17 1.17 0 1 0 2.34 0a1.17 1.17 0 1 0 -2.34 0zM43.73 342.66a1.17 1.17 0 1 0 2.34 0a1.17 1.17 0 1 0 -2.34 0zM46.18 342.71a1.17 1.17 0 1 0 2.34 0a1.17 1.17 0 1 0 -2.34 0zM48.63 342.84a1.17 1.17 0 1 0 2.34 0a1.17 1.17 0 1 0 -2.34 0zM51.08 342.79a1.17 1.17 0 1 0 2.34 0a1.17 1.17 0 1 0 -2.34 0zM53.53 342.7a1.17 1.17 0 1 0 2.34 0a1.17 1.17 0 1 0 -2.34 0zM55.98 342.68a1.17 1.17 0 1 0 2.34 0a1.17 1.17 0 1 0 -2.34 0zM58.43 342.7a1.17 1.17 0 1 0 2.34 0a1.17 1.17 0 1 0 -2.34 0zM29.03 344.82a1.17 1.17 0 1 0 2.34 0a1.17 1.17 0 1 0 -2.34 0zM31.48 344.92a1.17 1.17 0 1 0 2.34 0a1.17 1.17 0 1 0 -2.34 0zM33.93 344.86a1.17 1.17 0 1 0 2.34 0a1.17 1.17 0 1 0 -2.34 0zM36.38 344.93a1.17 1.17 0 1 0 2.34 0a1.17 1.17 0 1 0 -2.34 0zM38.83 344.82a1.17 1.17 0 1 0 2.34 0a1.17 1.17 0 1 0 -2.34 0zM41.28 344.89a1.17 1.17 0 1 0 2.34 0a1.17 1.17 0 1 0 -2.34 0zM43.73 344.82a1.17 1.17 0 1 0 2.34 0a1.17 1.17 0 1 0 -2.34 0zM46.18 344.94a1.17 1.17 0 1 0 2.34 0a1.17 1.17 0 1 0 -2.34 0zM48.63 344.88a1.17 1.17 0 1 0 2.34 0a1.17 1.17 0 1 0 -2.34 0zM51.08 344.82a1.17 1.17 0 1 0 2.34 0a1.17 1.17 0 1 0 -2.34 0zM53.53 344.81a1.17 1.17 0 1 0 2.34 0a1.17 1.17 0 1 0 -2.34 0zM55.98 344.87a1.17 1.17 0 1 0 2.34 0a1.17 1.17 0 1 0 -2.34 0zM58.43 344.95a1.17 1.17 0 1 0 2.34 0a1.17 1.17 0 1 0 -2.34 0zM29.03 346.93a1.17 1.17 0 1 0 2.34 0a1.17 1.17 0 1 0 -2.34 0zM31.48 346.98a1.17 1.17 0 1 0 2.34 0a1.17 1.17 0 1 0 -2.34 0zM33.93 347.05a1.17 1.17 0 1 0 2.34 0a1.17 1.17 0 1 0 -2.34 0zM36.38 346.94a1.17 1.17 0 1 0 2.34 0a1.17 1.17 0 1 0 -2.34 0zM38.83 346.98a1.17 1.17 0 1 0 2.34 0a1.17 1.17 0 1 0 -2.34 0zM41.28 347.05a1.17 1.17 0 1 0 2.34 0a1.17 1.17 0 1 0 -2.34 0zM43.73 346.92a1.17 1.17 0 1 0 2.34 0a1.17 1.17 0 1 0 -2.34 0zM46.18 346.93a1.17 1.17 0 1 0 2.34 0a1.17 1.17 0 1 0 -2.34 0zM48.63 346.87a1.17 1.17 0 1 0 2.34 0a1.17 1.17 0 1 0 -2.34 0zM51.08 346.98a1.17 1.17 0 1 0 2.34 0a1.17 1.17 0 1 0 -2.34 0zM53.53 347a1.17 1.17 0 1 0 2.34 0a1.17 1.17 0 1 0 -2.34 0zM55.98 347.01a1.17 1.17 0 1 0 2.34 0a1.17 1.17 0 1 0 -2.34 0zM58.43 347.01a1.17 1.17 0 1 0 2.34 0a1.17 1.17 0 1 0 -2.34 0zM29.03 349.04a1.17 1.17 0 1 0 2.34 0a1.17 1.17 0 1 0 -2.34 0zM31.48 349.12a1.17 1.17 0 1 0 2.34 0a1.17 1.17 0 1 0 -2.34 0zM33.93 349.13a1.17 1.17 0 1 0 2.34 0a1.17 1.17 0 1 0 -2.34 0zM36.38 349.02a1.17 1.17 0 1 0 2.34 0a1.17 1.17 0 1 0 -2.34 0zM38.83 349.06a1.17 1.17 0 1 0 2.34 0a1.17 1.17 0 1 0 -2.34 0zM41.28 349.11a1.17 1.17 0 1 0 2.34 0a1.17 1.17 0 1 0 -2.34 0zM43.73 349.05a1.17 1.17 0 1 0 2.34 0a1.17 1.17 0 1 0 -2.34 0zM46.18 349.06a1.17 1.17 0 1 0 2.34 0a1.17 1.17 0 1 0 -2.34 0zM48.63 348.97a1.17 1.17 0 1 0 2.34 0a1.17 1.17 0 1 0 -2.34 0zM51.08 349.01a1.17 1.17 0 1 0 2.34 0a1.17 1.17 0 1 0 -2.34 0zM53.53 349a1.17 1.17 0 1 0 2.34 0a1.17 1.17 0 1 0 -2.34 0zM55.98 348.96a1.17 1.17 0 1 0 2.34 0a1.17 1.17 0 1 0 -2.34 0zM58.43 349.04a1.17 1.17 0 1 0 2.34 0a1.17 1.17 0 1 0 -2.34 0zM29.03 351.14a1.17 1.17 0 1 0 2.34 0a1.17 1.17 0 1 0 -2.34 0zM31.48 351.07a1.17 1.17 0 1 0 2.34 0a1.17 1.17 0 1 0 -2.34 0zM33.93 351.08a1.17 1.17 0 1 0 2.34 0a1.17 1.17 0 1 0 -2.34 0zM36.38 351.15a1.17 1.17 0 1 0 2.34 0a1.17 1.17 0 1 0 -2.34 0zM38.83 351.17a1.17 1.17 0 1 0 2.34 0a1.17 1.17 0 1 0 -2.34 0zM41.28 351.24a1.17 1.17 0 1 0 2.34 0a1.17 1.17 0 1 0 -2.34 0zM43.73 351.05a1.17 1.17 0 1 0 2.34 0a1.17 1.17 0 1 0 -2.34 0zM46.18 351.21a1.17 1.17 0 1 0 2.34 0a1.17 1.17 0 1 0 -2.34 0zM48.63 351.19a1.17 1.17 0 1 0 2.34 0a1.17 1.17 0 1 0 -2.34 0zM51.08 351.16a1.17 1.17 0 1 0 2.34 0a1.17 1.17 0 1 0 -2.34 0zM53.53 351.07a1.17 1.17 0 1 0 2.34 0a1.17 1.17 0 1 0 -2.34 0zM55.98 351.24a1.17 1.17 0 1 0 2.34 0a1.17 1.17 0 1 0 -2.34 0zM58.43 351.22a1.17 1.17 0 1 0 2.34 0a1.17 1.17 0 1 0 -2.34 0zM29.03 353.23a1.17 1.17 0 1 0 2.34 0a1.17 1.17 0 1 0 -2.34 0zM31.48 353.2a1.17 1.17 0 1 0 2.34 0a1.17 1.17 0 1 0 -2.34 0zM33.93 353.33a1.17 1.17 0 1 0 2.34 0a1.17 1.17 0 1 0 -2.34 0zM36.38 353.25a1.17 1.17 0 1 0 2.34 0a1.17 1.17 0 1 0 -2.34 0zM38.83 353.33a1.17 1.17 0 1 0 2.34 0a1.17 1.17 0 1 0 -2.34 0zM41.28 353.26a1.17 1.17 0 1 0 2.34 0a1.17 1.17 0 1 0 -2.34 0zM43.73 353.33a1.17 1.17 0 1 0 2.34 0a1.17 1.17 0 1 0 -2.34 0zM46.18 353.21a1.17 1.17 0 1 0 2.34 0a1.17 1.17 0 1 0 -2.34 0zM48.63 353.2a1.17 1.17 0 1 0 2.34 0a1.17 1.17 0 1 0 -2.34 0zM51.08 353.24a1.17 1.17 0 1 0 2.34 0a1.17 1.17 0 1 0 -2.34 0zM53.53 353.22a1.17 1.17 0 1 0 2.34 0a1.17 1.17 0 1 0 -2.34 0zM55.98 353.24a1.17 1.17 0 1 0 2.34 0a1.17 1.17 0 1 0 -2.34 0zM58.43 353.32a1.17 1.17 0 1 0 2.34 0a1.17 1.17 0 1 0 -2.34 0zM29.03 355.36a1.17 1.17 0 1 0 2.34 0a1.17 1.17 0 1 0 -2.34 0zM31.48 355.33a1.17 1.17 0 1 0 2.34 0a1.17 1.17 0 1 0 -2.34 0zM33.93 355.27a1.17 1.17 0 1 0 2.34 0a1.17 1.17 0 1 0 -2.34 0zM36.38 355.31a1.17 1.17 0 1 0 2.34 0a1.17 1.17 0 1 0 -2.34 0zM38.83 355.3a1.17 1.17 0 1 0 2.34 0a1.17 1.17 0 1 0 -2.34 0zM41.28 355.35a1.17 1.17 0 1 0 2.34 0a1.17 1.17 0 1 0 -2.34 0zM43.73 355.33a1.17 1.17 0 1 0 2.34 0a1.17 1.17 0 1 0 -2.34 0zM46.18 355.25a1.17 1.17 0 1 0 2.34 0a1.17 1.17 0 1 0 -2.34 0zM48.63 355.44a1.17 1.17 0 1 0 2.34 0a1.17 1.17 0 1 0 -2.34 0zM51.08 355.37a1.17 1.17 0 1 0 2.34 0a1.17 1.17 0 1 0 -2.34 0zM53.53 355.31a1.17 1.17 0 1 0 2.34 0a1.17 1.17 0 1 0 -2.34 0zM55.98 355.37a1.17 1.17 0 1 0 2.34 0a1.17 1.17 0 1 0 -2.34 0zM58.43 355.35a1.17 1.17 0 1 0 2.34 0a1.17 1.17 0 1 0 -2.34 0zM29.03 357.5a1.17 1.17 0 1 0 2.34 0a1.17 1.17 0 1 0 -2.34 0zM31.48 357.37a1.17 1.17 0 1 0 2.34 0a1.17 1.17 0 1 0 -2.34 0zM33.93 357.4a1.17 1.17 0 1 0 2.34 0a1.17 1.17 0 1 0 -2.34 0zM36.38 357.44a1.17 1.17 0 1 0 2.34 0a1.17 1.17 0 1 0 -2.34 0zM38.83 357.43a1.17 1.17 0 1 0 2.34 0a1.17 1.17 0 1 0 -2.34 0zM41.28 357.49a1.17 1.17 0 1 0 2.34 0a1.17 1.17 0 1 0 -2.34 0zM43.73 357.55a1.17 1.17 0 1 0 2.34 0a1.17 1.17 0 1 0 -2.34 0zM46.18 357.42a1.17 1.17 0 1 0 2.34 0a1.17 1.17 0 1 0 -2.34 0zM48.63 357.51a1.17 1.17 0 1 0 2.34 0a1.17 1.17 0 1 0 -2.34 0zM51.08 357.48a1.17 1.17 0 1 0 2.34 0a1.17 1.17 0 1 0 -2.34 0zM53.53 357.5a1.17 1.17 0 1 0 2.34 0a1.17 1.17 0 1 0 -2.34 0zM55.98 357.47a1.17 1.17 0 1 0 2.34 0a1.17 1.17 0 1 0 -2.34 0zM58.43 357.54a1.17 1.17 0 1 0 2.34 0a1.17 1.17 0 1 0 -2.34 0zM31.65 360.03a1.0 1.0 0 1 0 2 0a1.0 1.0 0 1 0 -2 0zM36.55 360.14a1.0 1.0 0 1 0 2 0a1.0 1.0 0 1 0 -2 0zM39 360.17a1.0 1.0 0 1 0 2 0a1.0 1.0 0 1 0 -2 0zM41.45 360.16a1.0 1.0 0 1 0 2 0a1.0 1.0 0 1 0 -2 0zM48.8 360.18a1.0 1.0 0 1 0 2 0a1.0 1.0 0 1 0 -2 0zM51.25 360.18a1.0 1.0 0 1 0 2 0a1.0 1.0 0 1 0 -2 0zM53.7 360.11a1.0 1.0 0 1 0 2 0a1.0 1.0 0 1 0 -2 0zM56.15 360.05a1.0 1.0 0 1 0 2 0a1.0 1.0 0 1 0 -2 0zM34.1 363.42a1.0 1.0 0 1 0 2 0a1.0 1.0 0 1 0 -2 0zM36.55 363.3a1.0 1.0 0 1 0 2 0a1.0 1.0 0 1 0 -2 0zM39 363.41a1.0 1.0 0 1 0 2 0a1.0 1.0 0 1 0 -2 0zM41.45 363.3a1.0 1.0 0 1 0 2 0a1.0 1.0 0 1 0 -2 0zM43.9 363.34a1.0 1.0 0 1 0 2 0a1.0 1.0 0 1 0 -2 0zM48.8 363.46a1.0 1.0 0 1 0 2 0a1.0 1.0 0 1 0 -2 0zM51.25 363.36a1.0 1.0 0 1 0 2 0a1.0 1.0 0 1 0 -2 0zM53.7 363.44a1.0 1.0 0 1 0 2 0a1.0 1.0 0 1 0 -2 0zM39 366.22a1.0 1.0 0 1 0 2 0a1.0 1.0 0 1 0 -2 0zM41.45 366.06a1.0 1.0 0 1 0 2 0a1.0 1.0 0 1 0 -2 0zM43.9 366.13a1.0 1.0 0 1 0 2 0a1.0 1.0 0 1 0 -2 0zM46.35 366.24a1.0 1.0 0 1 0 2 0a1.0 1.0 0 1 0 -2 0zM48.8 366.19a1.0 1.0 0 1 0 2 0a1.0 1.0 0 1 0 -2 0zM39 368.51a1.0 1.0 0 1 0 2 0a1.0 1.0 0 1 0 -2 0zM41.45 368.5a1.0 1.0 0 1 0 2 0a1.0 1.0 0 1 0 -2 0zM43.9 368.47a1.0 1.0 0 1 0 2 0a1.0 1.0 0 1 0 -2 0zM46.35 368.42a1.0 1.0 0 1 0 2 0a1.0 1.0 0 1 0 -2 0zM48.8 368.42a1.0 1.0 0 1 0 2 0a1.0 1.0 0 1 0 -2 0zM84.4 336.78a1.0 1.0 0 1 0 2 0a1.0 1.0 0 1 0 -2 0zM86.9 337.1a1.0 1.0 0 1 0 2 0a1.0 1.0 0 1 0 -2 0zM91.9 337.1a1.0 1.0 0 1 0 2 0a1.0 1.0 0 1 0 -2 0zM94.4 336.92a1.0 1.0 0 1 0 2 0a1.0 1.0 0 1 0 -2 0zM81.9 338.28a1.0 1.0 0 1 0 2 0a1.0 1.0 0 1 0 -2 0zM84.4 338.45a1.0 1.0 0 1 0 2 0a1.0 1.0 0 1 0 -2 0zM86.9 338.85a1.0 1.0 0 1 0 2 0a1.0 1.0 0 1 0 -2 0zM89.4 338.99a1.0 1.0 0 1 0 2 0a1.0 1.0 0 1 0 -2 0zM94.4 338.59a1.0 1.0 0 1 0 2 0a1.0 1.0 0 1 0 -2 0zM96.9 338.26a1.0 1.0 0 1 0 2 0a1.0 1.0 0 1 0 -2 0zM79.4 339.94a1.0 1.0 0 1 0 2 0a1.0 1.0 0 1 0 -2 0zM84.4 340.4a1.0 1.0 0 1 0 2 0a1.0 1.0 0 1 0 -2 0zM86.9 340.78a1.0 1.0 0 1 0 2 0a1.0 1.0 0 1 0 -2 0zM89.4 340.94a1.0 1.0 0 1 0 2 0a1.0 1.0 0 1 0 -2 0zM91.9 340.56a1.0 1.0 0 1 0 2 0a1.0 1.0 0 1 0 -2 0zM94.4 340.42a1.0 1.0 0 1 0 2 0a1.0 1.0 0 1 0 -2 0zM96.9 340.05a1.0 1.0 0 1 0 2 0a1.0 1.0 0 1 0 -2 0zM99.4 339.94a1.0 1.0 0 1 0 2 0a1.0 1.0 0 1 0 -2 0zM76.9 341.59a1.0 1.0 0 1 0 2 0a1.0 1.0 0 1 0 -2 0zM79.4 341.89a1.0 1.0 0 1 0 2 0a1.0 1.0 0 1 0 -2 0zM81.9 342.01a1.0 1.0 0 1 0 2 0a1.0 1.0 0 1 0 -2 0zM84.4 342.43a1.0 1.0 0 1 0 2 0a1.0 1.0 0 1 0 -2 0zM86.9 342.78a1.0 1.0 0 1 0 2 0a1.0 1.0 0 1 0 -2 0zM89.4 343.12a1.0 1.0 0 1 0 2 0a1.0 1.0 0 1 0 -2 0zM94.4 342.36a1.0 1.0 0 1 0 2 0a1.0 1.0 0 1 0 -2 0zM99.4 341.74a1.0 1.0 0 1 0 2 0a1.0 1.0 0 1 0 -2 0zM74.23 343.05a1.17 1.17 0 1 0 2.34 0a1.17 1.17 0 1 0 -2.34 0zM76.73 343.27a1.17 1.17 0 1 0 2.34 0a1.17 1.17 0 1 0 -2.34 0zM79.23 343.64a1.17 1.17 0 1 0 2.34 0a1.17 1.17 0 1 0 -2.34 0zM81.73 343.94a1.17 1.17 0 1 0 2.34 0a1.17 1.17 0 1 0 -2.34 0zM84.23 344.31a1.17 1.17 0 1 0 2.34 0a1.17 1.17 0 1 0 -2.34 0zM86.73 344.55a1.17 1.17 0 1 0 2.34 0a1.17 1.17 0 1 0 -2.34 0zM89.23 344.92a1.17 1.17 0 1 0 2.34 0a1.17 1.17 0 1 0 -2.34 0zM91.73 344.51a1.17 1.17 0 1 0 2.34 0a1.17 1.17 0 1 0 -2.34 0zM94.23 344.42a1.17 1.17 0 1 0 2.34 0a1.17 1.17 0 1 0 -2.34 0zM96.73 344.03a1.17 1.17 0 1 0 2.34 0a1.17 1.17 0 1 0 -2.34 0zM99.23 343.73a1.17 1.17 0 1 0 2.34 0a1.17 1.17 0 1 0 -2.34 0zM101.73 343.54a1.17 1.17 0 1 0 2.34 0a1.17 1.17 0 1 0 -2.34 0zM104.23 343.04a1.17 1.17 0 1 0 2.34 0a1.17 1.17 0 1 0 -2.34 0zM74.23 345.08a1.17 1.17 0 1 0 2.34 0a1.17 1.17 0 1 0 -2.34 0zM76.73 345.34a1.17 1.17 0 1 0 2.34 0a1.17 1.17 0 1 0 -2.34 0zM79.23 345.54a1.17 1.17 0 1 0 2.34 0a1.17 1.17 0 1 0 -2.34 0zM81.73 345.92a1.17 1.17 0 1 0 2.34 0a1.17 1.17 0 1 0 -2.34 0zM84.23 346.15a1.17 1.17 0 1 0 2.34 0a1.17 1.17 0 1 0 -2.34 0zM86.73 346.4a1.17 1.17 0 1 0 2.34 0a1.17 1.17 0 1 0 -2.34 0zM89.23 346.88a1.17 1.17 0 1 0 2.34 0a1.17 1.17 0 1 0 -2.34 0zM91.73 346.58a1.17 1.17 0 1 0 2.34 0a1.17 1.17 0 1 0 -2.34 0zM94.23 346.02a1.17 1.17 0 1 0 2.34 0a1.17 1.17 0 1 0 -2.34 0zM96.73 345.73a1.17 1.17 0 1 0 2.34 0a1.17 1.17 0 1 0 -2.34 0zM99.23 345.44a1.17 1.17 0 1 0 2.34 0a1.17 1.17 0 1 0 -2.34 0zM104.23 345.06a1.17 1.17 0 1 0 2.34 0a1.17 1.17 0 1 0 -2.34 0zM74.23 346.83a1.17 1.17 0 1 0 2.34 0a1.17 1.17 0 1 0 -2.34 0zM76.73 346.94a1.17 1.17 0 1 0 2.34 0a1.17 1.17 0 1 0 -2.34 0zM79.23 347.53a1.17 1.17 0 1 0 2.34 0a1.17 1.17 0 1 0 -2.34 0zM81.73 347.79a1.17 1.17 0 1 0 2.34 0a1.17 1.17 0 1 0 -2.34 0zM84.23 347.99a1.17 1.17 0 1 0 2.34 0a1.17 1.17 0 1 0 -2.34 0zM86.73 348.29a1.17 1.17 0 1 0 2.34 0a1.17 1.17 0 1 0 -2.34 0zM89.23 348.59a1.17 1.17 0 1 0 2.34 0a1.17 1.17 0 1 0 -2.34 0zM91.73 348.28a1.17 1.17 0 1 0 2.34 0a1.17 1.17 0 1 0 -2.34 0zM94.23 348.04a1.17 1.17 0 1 0 2.34 0a1.17 1.17 0 1 0 -2.34 0zM96.73 347.68a1.17 1.17 0 1 0 2.34 0a1.17 1.17 0 1 0 -2.34 0zM99.23 347.38a1.17 1.17 0 1 0 2.34 0a1.17 1.17 0 1 0 -2.34 0zM101.73 347.23a1.17 1.17 0 1 0 2.34 0a1.17 1.17 0 1 0 -2.34 0zM104.23 346.67a1.17 1.17 0 1 0 2.34 0a1.17 1.17 0 1 0 -2.34 0zM74.23 348.57a1.17 1.17 0 1 0 2.34 0a1.17 1.17 0 1 0 -2.34 0zM76.73 349.05a1.17 1.17 0 1 0 2.34 0a1.17 1.17 0 1 0 -2.34 0zM81.73 349.64a1.17 1.17 0 1 0 2.34 0a1.17 1.17 0 1 0 -2.34 0zM84.23 349.95a1.17 1.17 0 1 0 2.34 0a1.17 1.17 0 1 0 -2.34 0zM86.73 350.11a1.17 1.17 0 1 0 2.34 0a1.17 1.17 0 1 0 -2.34 0zM89.23 350.47a1.17 1.17 0 1 0 2.34 0a1.17 1.17 0 1 0 -2.34 0zM91.73 350.15a1.17 1.17 0 1 0 2.34 0a1.17 1.17 0 1 0 -2.34 0zM94.23 349.69a1.17 1.17 0 1 0 2.34 0a1.17 1.17 0 1 0 -2.34 0zM96.73 349.65a1.17 1.17 0 1 0 2.34 0a1.17 1.17 0 1 0 -2.34 0zM99.23 349.1a1.17 1.17 0 1 0 2.34 0a1.17 1.17 0 1 0 -2.34 0zM101.73 349.05a1.17 1.17 0 1 0 2.34 0a1.17 1.17 0 1 0 -2.34 0zM104.23 348.48a1.17 1.17 0 1 0 2.34 0a1.17 1.17 0 1 0 -2.34 0zM74.23 350.51a1.17 1.17 0 1 0 2.34 0a1.17 1.17 0 1 0 -2.34 0zM76.73 350.77a1.17 1.17 0 1 0 2.34 0a1.17 1.17 0 1 0 -2.34 0zM79.23 351.14a1.17 1.17 0 1 0 2.34 0a1.17 1.17 0 1 0 -2.34 0zM81.73 351.22a1.17 1.17 0 1 0 2.34 0a1.17 1.17 0 1 0 -2.34 0zM84.23 351.79a1.17 1.17 0 1 0 2.34 0a1.17 1.17 0 1 0 -2.34 0zM86.73 351.92a1.17 1.17 0 1 0 2.34 0a1.17 1.17 0 1 0 -2.34 0zM89.23 352.2a1.17 1.17 0 1 0 2.34 0a1.17 1.17 0 1 0 -2.34 0zM91.73 352.03a1.17 1.17 0 1 0 2.34 0a1.17 1.17 0 1 0 -2.34 0zM94.23 351.68a1.17 1.17 0 1 0 2.34 0a1.17 1.17 0 1 0 -2.34 0zM96.73 351.3a1.17 1.17 0 1 0 2.34 0a1.17 1.17 0 1 0 -2.34 0zM99.23 351.04a1.17 1.17 0 1 0 2.34 0a1.17 1.17 0 1 0 -2.34 0zM101.73 350.86a1.17 1.17 0 1 0 2.34 0a1.17 1.17 0 1 0 -2.34 0zM104.23 350.34a1.17 1.17 0 1 0 2.34 0a1.17 1.17 0 1 0 -2.34 0zM74.23 352.28a1.17 1.17 0 1 0 2.34 0a1.17 1.17 0 1 0 -2.34 0zM76.73 352.53a1.17 1.17 0 1 0 2.34 0a1.17 1.17 0 1 0 -2.34 0zM79.23 352.93a1.17 1.17 0 1 0 2.34 0a1.17 1.17 0 1 0 -2.34 0zM81.73 353.19a1.17 1.17 0 1 0 2.34 0a1.17 1.17 0 1 0 -2.34 0zM84.23 353.6a1.17 1.17 0 1 0 2.34 0a1.17 1.17 0 1 0 -2.34 0zM86.73 353.7a1.17 1.17 0 1 0 2.34 0a1.17 1.17 0 1 0 -2.34 0zM89.23 354.03a1.17 1.17 0 1 0 2.34 0a1.17 1.17 0 1 0 -2.34 0zM91.73 353.84a1.17 1.17 0 1 0 2.34 0a1.17 1.17 0 1 0 -2.34 0zM94.23 353.5a1.17 1.17 0 1 0 2.34 0a1.17 1.17 0 1 0 -2.34 0zM96.73 353.26a1.17 1.17 0 1 0 2.34 0a1.17 1.17 0 1 0 -2.34 0zM99.23 352.8a1.17 1.17 0 1 0 2.34 0a1.17 1.17 0 1 0 -2.34 0zM101.73 352.73a1.17 1.17 0 1 0 2.34 0a1.17 1.17 0 1 0 -2.34 0zM104.23 352.24a1.17 1.17 0 1 0 2.34 0a1.17 1.17 0 1 0 -2.34 0zM81.9 354.99a1.0 1.0 0 1 0 2 0a1.0 1.0 0 1 0 -2 0zM84.4 355.48a1.0 1.0 0 1 0 2 0a1.0 1.0 0 1 0 -2 0zM86.9 355.79a1.0 1.0 0 1 0 2 0a1.0 1.0 0 1 0 -2 0zM89.4 355.94a1.0 1.0 0 1 0 2 0a1.0 1.0 0 1 0 -2 0zM91.9 355.77a1.0 1.0 0 1 0 2 0a1.0 1.0 0 1 0 -2 0zM94.4 355.5a1.0 1.0 0 1 0 2 0a1.0 1.0 0 1 0 -2 0zM96.9 355.1a1.0 1.0 0 1 0 2 0a1.0 1.0 0 1 0 -2 0zM99.4 354.67a1.0 1.0 0 1 0 2 0a1.0 1.0 0 1 0 -2 0zM79.4 356.71a1.0 1.0 0 1 0 2 0a1.0 1.0 0 1 0 -2 0zM89.4 358.13a1.0 1.0 0 1 0 2 0a1.0 1.0 0 1 0 -2 0zM91.9 357.76a1.0 1.0 0 1 0 2 0a1.0 1.0 0 1 0 -2 0zM96.9 356.99a1.0 1.0 0 1 0 2 0a1.0 1.0 0 1 0 -2 0zM99.4 356.91a1.0 1.0 0 1 0 2 0a1.0 1.0 0 1 0 -2 0zM81.9 359.23a1.0 1.0 0 1 0 2 0a1.0 1.0 0 1 0 -2 0zM84.4 359.36a1.0 1.0 0 1 0 2 0a1.0 1.0 0 1 0 -2 0zM86.9 359.63a1.0 1.0 0 1 0 2 0a1.0 1.0 0 1 0 -2 0zM91.9 359.61a1.0 1.0 0 1 0 2 0a1.0 1.0 0 1 0 -2 0zM94.4 359.26a1.0 1.0 0 1 0 2 0a1.0 1.0 0 1 0 -2 0zM96.9 359a1.0 1.0 0 1 0 2 0a1.0 1.0 0 1 0 -2 0zM84.4 361.41a1.0 1.0 0 1 0 2 0a1.0 1.0 0 1 0 -2 0zM86.9 361.72a1.0 1.0 0 1 0 2 0a1.0 1.0 0 1 0 -2 0zM89.4 362.01a1.0 1.0 0 1 0 2 0a1.0 1.0 0 1 0 -2 0zM94.4 361.32a1.0 1.0 0 1 0 2 0a1.0 1.0 0 1 0 -2 0zM86.9 363.64a1.0 1.0 0 1 0 2 0a1.0 1.0 0 1 0 -2 0zM89.4 364.13a1.0 1.0 0 1 0 2 0a1.0 1.0 0 1 0 -2 0zM91.9 363.6a1.0 1.0 0 1 0 2 0a1.0 1.0 0 1 0 -2 0zM86.9 365.72a1.0 1.0 0 1 0 2 0a1.0 1.0 0 1 0 -2 0zM89.4 366.09a1.0 1.0 0 1 0 2 0a1.0 1.0 0 1 0 -2 0zM89.3 304.8a1.0 1.0 0 1 0 2 0a1.0 1.0 0 1 0 -2 0zM89.3 323.4a1.0 1.0 0 1 0 2 0a1.0 1.0 0 1 0 -2 0zM43.9 298.7a1.0 1.0 0 1 0 2 0a1.0 1.0 0 1 0 -2 0zM43.9 302.6a1.0 1.0 0 1 0 2 0a1.0 1.0 0 1 0 -2 0zM43.9 305.4a1.0 1.0 0 1 0 2 0a1.0 1.0 0 1 0 -2 0zM43.9 308.2a1.0 1.0 0 1 0 2 0a1.0 1.0 0 1 0 -2 0zM43.9 311a1.0 1.0 0 1 0 2 0a1.0 1.0 0 1 0 -2 0zM43.9 313.8a1.0 1.0 0 1 0 2 0a1.0 1.0 0 1 0 -2 0zM43.9 316.5a1.0 1.0 0 1 0 2 0a1.0 1.0 0 1 0 -2 0zM43.9 319.3a1.0 1.0 0 1 0 2 0a1.0 1.0 0 1 0 -2 0zM119.7 333.5a1.0 1.0 0 1 0 2 0a1.0 1.0 0 1 0 -2 0zM124.5 334.27a1.0 1.0 0 1 0 2 0a1.0 1.0 0 1 0 -2 0zM131.7 335.8a1.0 1.0 0 1 0 2 0a1.0 1.0 0 1 0 -2 0zM134.1 336.03a1.0 1.0 0 1 0 2 0a1.0 1.0 0 1 0 -2 0zM136.5 335.62a1.0 1.0 0 1 0 2 0a1.0 1.0 0 1 0 -2 0zM138.9 335.18a1.0 1.0 0 1 0 2 0a1.0 1.0 0 1 0 -2 0zM141.3 334.73a1.0 1.0 0 1 0 2 0a1.0 1.0 0 1 0 -2 0zM143.7 334.37a1.0 1.0 0 1 0 2 0a1.0 1.0 0 1 0 -2 0zM146.1 333.91a1.0 1.0 0 1 0 2 0a1.0 1.0 0 1 0 -2 0zM148.5 333.32a1.0 1.0 0 1 0 2 0a1.0 1.0 0 1 0 -2 0zM119.7 335.66a1.0 1.0 0 1 0 2 0a1.0 1.0 0 1 0 -2 0zM122.1 336.29a1.0 1.0 0 1 0 2 0a1.0 1.0 0 1 0 -2 0zM124.5 336.69a1.0 1.0 0 1 0 2 0a1.0 1.0 0 1 0 -2 0zM126.9 337.1a1.0 1.0 0 1 0 2 0a1.0 1.0 0 1 0 -2 0zM129.3 337.72a1.0 1.0 0 1 0 2 0a1.0 1.0 0 1 0 -2 0zM131.7 338.03a1.0 1.0 0 1 0 2 0a1.0 1.0 0 1 0 -2 0zM134.1 338.49a1.0 1.0 0 1 0 2 0a1.0 1.0 0 1 0 -2 0zM136.5 338.17a1.0 1.0 0 1 0 2 0a1.0 1.0 0 1 0 -2 0zM138.9 337.73a1.0 1.0 0 1 0 2 0a1.0 1.0 0 1 0 -2 0zM146.1 336.25a1.0 1.0 0 1 0 2 0a1.0 1.0 0 1 0 -2 0zM119.7 338.03a1.0 1.0 0 1 0 2 0a1.0 1.0 0 1 0 -2 0zM122.1 338.5a1.0 1.0 0 1 0 2 0a1.0 1.0 0 1 0 -2 0zM124.5 338.93a1.0 1.0 0 1 0 2 0a1.0 1.0 0 1 0 -2 0zM129.3 339.81a1.0 1.0 0 1 0 2 0a1.0 1.0 0 1 0 -2 0zM131.7 340.34a1.0 1.0 0 1 0 2 0a1.0 1.0 0 1 0 -2 0zM134.1 340.83a1.0 1.0 0 1 0 2 0a1.0 1.0 0 1 0 -2 0zM138.9 339.9a1.0 1.0 0 1 0 2 0a1.0 1.0 0 1 0 -2 0zM141.3 339.48a1.0 1.0 0 1 0 2 0a1.0 1.0 0 1 0 -2 0zM143.7 339.06a1.0 1.0 0 1 0 2 0a1.0 1.0 0 1 0 -2 0zM146.1 338.57a1.0 1.0 0 1 0 2 0a1.0 1.0 0 1 0 -2 0zM148.5 338.13a1.0 1.0 0 1 0 2 0a1.0 1.0 0 1 0 -2 0zM119.7 340.51a1.0 1.0 0 1 0 2 0a1.0 1.0 0 1 0 -2 0zM124.5 341.35a1.0 1.0 0 1 0 2 0a1.0 1.0 0 1 0 -2 0zM126.9 341.91a1.0 1.0 0 1 0 2 0a1.0 1.0 0 1 0 -2 0zM129.3 342.37a1.0 1.0 0 1 0 2 0a1.0 1.0 0 1 0 -2 0zM131.7 342.64a1.0 1.0 0 1 0 2 0a1.0 1.0 0 1 0 -2 0zM136.5 342.69a1.0 1.0 0 1 0 2 0a1.0 1.0 0 1 0 -2 0zM138.9 342.4a1.0 1.0 0 1 0 2 0a1.0 1.0 0 1 0 -2 0zM141.3 341.81a1.0 1.0 0 1 0 2 0a1.0 1.0 0 1 0 -2 0zM143.7 341.47a1.0 1.0 0 1 0 2 0a1.0 1.0 0 1 0 -2 0zM146.1 340.87a1.0 1.0 0 1 0 2 0a1.0 1.0 0 1 0 -2 0zM148.5 340.38a1.0 1.0 0 1 0 2 0a1.0 1.0 0 1 0 -2 0zM129.3 344.69a1.0 1.0 0 1 0 2 0a1.0 1.0 0 1 0 -2 0zM131.7 345.14a1.0 1.0 0 1 0 2 0a1.0 1.0 0 1 0 -2 0zM136.5 345.14a1.0 1.0 0 1 0 2 0a1.0 1.0 0 1 0 -2 0zM138.9 344.52a1.0 1.0 0 1 0 2 0a1.0 1.0 0 1 0 -2 0zM143.7 343.7a1.0 1.0 0 1 0 2 0a1.0 1.0 0 1 0 -2 0zM146.1 343.34a1.0 1.0 0 1 0 2 0a1.0 1.0 0 1 0 -2 0zM148.5 342.92a1.0 1.0 0 1 0 2 0a1.0 1.0 0 1 0 -2 0zM122.1 345.45a1.0 1.0 0 1 0 2 0a1.0 1.0 0 1 0 -2 0zM124.5 345.92a1.0 1.0 0 1 0 2 0a1.0 1.0 0 1 0 -2 0zM131.7 347.29a1.0 1.0 0 1 0 2 0a1.0 1.0 0 1 0 -2 0zM134.1 347.91a1.0 1.0 0 1 0 2 0a1.0 1.0 0 1 0 -2 0zM138.9 346.82a1.0 1.0 0 1 0 2 0a1.0 1.0 0 1 0 -2 0zM141.3 346.35a1.0 1.0 0 1 0 2 0a1.0 1.0 0 1 0 -2 0zM146.1 345.67a1.0 1.0 0 1 0 2 0a1.0 1.0 0 1 0 -2 0zM119.53 347.43a1.17 1.17 0 1 0 2.34 0a1.17 1.17 0 1 0 -2.34 0zM121.93 347.75a1.17 1.17 0 1 0 2.34 0a1.17 1.17 0 1 0 -2.34 0zM124.33 348.16a1.17 1.17 0 1 0 2.34 0a1.17 1.17 0 1 0 -2.34 0zM126.73 348.55a1.17 1.17 0 1 0 2.34 0a1.17 1.17 0 1 0 -2.34 0zM129.13 349.02a1.17 1.17 0 1 0 2.34 0a1.17 1.17 0 1 0 -2.34 0zM131.53 349.63a1.17 1.17 0 1 0 2.34 0a1.17 1.17 0 1 0 -2.34 0zM133.93 350a1.17 1.17 0 1 0 2.34 0a1.17 1.17 0 1 0 -2.34 0zM136.33 349.48a1.17 1.17 0 1 0 2.34 0a1.17 1.17 0 1 0 -2.34 0zM138.73 349.14a1.17 1.17 0 1 0 2.34 0a1.17 1.17 0 1 0 -2.34 0zM141.13 348.78a1.17 1.17 0 1 0 2.34 0a1.17 1.17 0 1 0 -2.34 0zM143.53 348.33a1.17 1.17 0 1 0 2.34 0a1.17 1.17 0 1 0 -2.34 0zM145.93 347.69a1.17 1.17 0 1 0 2.34 0a1.17 1.17 0 1 0 -2.34 0zM148.33 347.34a1.17 1.17 0 1 0 2.34 0a1.17 1.17 0 1 0 -2.34 0zM119.53 349.38a1.17 1.17 0 1 0 2.34 0a1.17 1.17 0 1 0 -2.34 0zM121.93 349.68a1.17 1.17 0 1 0 2.34 0a1.17 1.17 0 1 0 -2.34 0zM124.33 350.2a1.17 1.17 0 1 0 2.34 0a1.17 1.17 0 1 0 -2.34 0zM126.73 350.76a1.17 1.17 0 1 0 2.34 0a1.17 1.17 0 1 0 -2.34 0zM129.13 351.09a1.17 1.17 0 1 0 2.34 0a1.17 1.17 0 1 0 -2.34 0zM131.53 351.47a1.17 1.17 0 1 0 2.34 0a1.17 1.17 0 1 0 -2.34 0zM133.93 352.02a1.17 1.17 0 1 0 2.34 0a1.17 1.17 0 1 0 -2.34 0zM136.33 351.5a1.17 1.17 0 1 0 2.34 0a1.17 1.17 0 1 0 -2.34 0zM138.73 350.97a1.17 1.17 0 1 0 2.34 0a1.17 1.17 0 1 0 -2.34 0zM141.13 350.66a1.17 1.17 0 1 0 2.34 0a1.17 1.17 0 1 0 -2.34 0zM143.53 350.24a1.17 1.17 0 1 0 2.34 0a1.17 1.17 0 1 0 -2.34 0zM145.93 349.72a1.17 1.17 0 1 0 2.34 0a1.17 1.17 0 1 0 -2.34 0zM148.33 349.29a1.17 1.17 0 1 0 2.34 0a1.17 1.17 0 1 0 -2.34 0zM119.53 351.19a1.17 1.17 0 1 0 2.34 0a1.17 1.17 0 1 0 -2.34 0zM121.93 351.81a1.17 1.17 0 1 0 2.34 0a1.17 1.17 0 1 0 -2.34 0zM124.33 352.22a1.17 1.17 0 1 0 2.34 0a1.17 1.17 0 1 0 -2.34 0zM126.73 352.78a1.17 1.17 0 1 0 2.34 0a1.17 1.17 0 1 0 -2.34 0zM129.13 353.03a1.17 1.17 0 1 0 2.34 0a1.17 1.17 0 1 0 -2.34 0zM131.53 353.7a1.17 1.17 0 1 0 2.34 0a1.17 1.17 0 1 0 -2.34 0zM133.93 353.91a1.17 1.17 0 1 0 2.34 0a1.17 1.17 0 1 0 -2.34 0zM136.33 353.42a1.17 1.17 0 1 0 2.34 0a1.17 1.17 0 1 0 -2.34 0zM138.73 353.12a1.17 1.17 0 1 0 2.34 0a1.17 1.17 0 1 0 -2.34 0zM141.13 352.72a1.17 1.17 0 1 0 2.34 0a1.17 1.17 0 1 0 -2.34 0zM143.53 352.15a1.17 1.17 0 1 0 2.34 0a1.17 1.17 0 1 0 -2.34 0zM145.93 351.79a1.17 1.17 0 1 0 2.34 0a1.17 1.17 0 1 0 -2.34 0zM148.33 351.29a1.17 1.17 0 1 0 2.34 0a1.17 1.17 0 1 0 -2.34 0zM119.53 353.18a1.17 1.17 0 1 0 2.34 0a1.17 1.17 0 1 0 -2.34 0zM121.93 353.89a1.17 1.17 0 1 0 2.34 0a1.17 1.17 0 1 0 -2.34 0zM124.33 354.07a1.17 1.17 0 1 0 2.34 0a1.17 1.17 0 1 0 -2.34 0zM126.73 354.58a1.17 1.17 0 1 0 2.34 0a1.17 1.17 0 1 0 -2.34 0zM129.13 355.08a1.17 1.17 0 1 0 2.34 0a1.17 1.17 0 1 0 -2.34 0zM131.53 355.53a1.17 1.17 0 1 0 2.34 0a1.17 1.17 0 1 0 -2.34 0zM133.93 356.07a1.17 1.17 0 1 0 2.34 0a1.17 1.17 0 1 0 -2.34 0zM136.33 355.59a1.17 1.17 0 1 0 2.34 0a1.17 1.17 0 1 0 -2.34 0zM138.73 355.13a1.17 1.17 0 1 0 2.34 0a1.17 1.17 0 1 0 -2.34 0zM141.13 354.71a1.17 1.17 0 1 0 2.34 0a1.17 1.17 0 1 0 -2.34 0zM143.53 354.07a1.17 1.17 0 1 0 2.34 0a1.17 1.17 0 1 0 -2.34 0zM145.93 353.61a1.17 1.17 0 1 0 2.34 0a1.17 1.17 0 1 0 -2.34 0zM148.33 353.27a1.17 1.17 0 1 0 2.34 0a1.17 1.17 0 1 0 -2.34 0zM119.53 355.18a1.17 1.17 0 1 0 2.34 0a1.17 1.17 0 1 0 -2.34 0zM121.93 355.86a1.17 1.17 0 1 0 2.34 0a1.17 1.17 0 1 0 -2.34 0zM124.33 356.23a1.17 1.17 0 1 0 2.34 0a1.17 1.17 0 1 0 -2.34 0zM126.73 356.8a1.17 1.17 0 1 0 2.34 0a1.17 1.17 0 1 0 -2.34 0zM129.13 357.04a1.17 1.17 0 1 0 2.34 0a1.17 1.17 0 1 0 -2.34 0zM131.53 357.66a1.17 1.17 0 1 0 2.34 0a1.17 1.17 0 1 0 -2.34 0zM133.93 357.97a1.17 1.17 0 1 0 2.34 0a1.17 1.17 0 1 0 -2.34 0zM136.33 357.67a1.17 1.17 0 1 0 2.34 0a1.17 1.17 0 1 0 -2.34 0zM138.73 357.19a1.17 1.17 0 1 0 2.34 0a1.17 1.17 0 1 0 -2.34 0zM141.13 356.63a1.17 1.17 0 1 0 2.34 0a1.17 1.17 0 1 0 -2.34 0zM143.53 356.18a1.17 1.17 0 1 0 2.34 0a1.17 1.17 0 1 0 -2.34 0zM145.93 355.69a1.17 1.17 0 1 0 2.34 0a1.17 1.17 0 1 0 -2.34 0zM148.33 355.27a1.17 1.17 0 1 0 2.34 0a1.17 1.17 0 1 0 -2.34 0zM119.53 357.38a1.17 1.17 0 1 0 2.34 0a1.17 1.17 0 1 0 -2.34 0zM121.93 357.74a1.17 1.17 0 1 0 2.34 0a1.17 1.17 0 1 0 -2.34 0zM124.33 358.19a1.17 1.17 0 1 0 2.34 0a1.17 1.17 0 1 0 -2.34 0zM126.73 358.77a1.17 1.17 0 1 0 2.34 0a1.17 1.17 0 1 0 -2.34 0zM129.13 359.19a1.17 1.17 0 1 0 2.34 0a1.17 1.17 0 1 0 -2.34 0zM131.53 359.6a1.17 1.17 0 1 0 2.34 0a1.17 1.17 0 1 0 -2.34 0zM133.93 359.94a1.17 1.17 0 1 0 2.34 0a1.17 1.17 0 1 0 -2.34 0zM136.33 359.68a1.17 1.17 0 1 0 2.34 0a1.17 1.17 0 1 0 -2.34 0zM138.73 359.15a1.17 1.17 0 1 0 2.34 0a1.17 1.17 0 1 0 -2.34 0zM141.13 358.7a1.17 1.17 0 1 0 2.34 0a1.17 1.17 0 1 0 -2.34 0zM143.53 358.28a1.17 1.17 0 1 0 2.34 0a1.17 1.17 0 1 0 -2.34 0zM145.93 357.89a1.17 1.17 0 1 0 2.34 0a1.17 1.17 0 1 0 -2.34 0zM148.33 357.36a1.17 1.17 0 1 0 2.34 0a1.17 1.17 0 1 0 -2.34 0zM119.7 359.27a1.0 1.0 0 1 0 2 0a1.0 1.0 0 1 0 -2 0zM124.5 360.23a1.0 1.0 0 1 0 2 0a1.0 1.0 0 1 0 -2 0zM126.9 360.62a1.0 1.0 0 1 0 2 0a1.0 1.0 0 1 0 -2 0zM131.7 361.67a1.0 1.0 0 1 0 2 0a1.0 1.0 0 1 0 -2 0zM134.1 362.02a1.0 1.0 0 1 0 2 0a1.0 1.0 0 1 0 -2 0zM141.3 360.68a1.0 1.0 0 1 0 2 0a1.0 1.0 0 1 0 -2 0zM119.7 361.23a1.0 1.0 0 1 0 2 0a1.0 1.0 0 1 0 -2 0zM124.5 362.21a1.0 1.0 0 1 0 2 0a1.0 1.0 0 1 0 -2 0zM129.3 363.18a1.0 1.0 0 1 0 2 0a1.0 1.0 0 1 0 -2 0zM131.7 363.62a1.0 1.0 0 1 0 2 0a1.0 1.0 0 1 0 -2 0zM136.5 363.57a1.0 1.0 0 1 0 2 0a1.0 1.0 0 1 0 -2 0zM138.9 363.1a1.0 1.0 0 1 0 2 0a1.0 1.0 0 1 0 -2 0zM141.3 362.69a1.0 1.0 0 1 0 2 0a1.0 1.0 0 1 0 -2 0zM146.1 361.69a1.0 1.0 0 1 0 2 0a1.0 1.0 0 1 0 -2 0zM119.7 363.19a1.0 1.0 0 1 0 2 0a1.0 1.0 0 1 0 -2 0zM122.1 363.74a1.0 1.0 0 1 0 2 0a1.0 1.0 0 1 0 -2 0zM124.5 364.35a1.0 1.0 0 1 0 2 0a1.0 1.0 0 1 0 -2 0zM126.9 364.79a1.0 1.0 0 1 0 2 0a1.0 1.0 0 1 0 -2 0zM129.3 365.18a1.0 1.0 0 1 0 2 0a1.0 1.0 0 1 0 -2 0zM131.7 365.49a1.0 1.0 0 1 0 2 0a1.0 1.0 0 1 0 -2 0zM134.1 366.06a1.0 1.0 0 1 0 2 0a1.0 1.0 0 1 0 -2 0zM138.9 365.03a1.0 1.0 0 1 0 2 0a1.0 1.0 0 1 0 -2 0zM141.3 364.66a1.0 1.0 0 1 0 2 0a1.0 1.0 0 1 0 -2 0zM143.7 364.16a1.0 1.0 0 1 0 2 0a1.0 1.0 0 1 0 -2 0zM146.1 363.64a1.0 1.0 0 1 0 2 0a1.0 1.0 0 1 0 -2 0zM148.5 363.41a1.0 1.0 0 1 0 2 0a1.0 1.0 0 1 0 -2 0zM122.1 365.65a1.0 1.0 0 1 0 2 0a1.0 1.0 0 1 0 -2 0zM124.5 366.08a1.0 1.0 0 1 0 2 0a1.0 1.0 0 1 0 -2 0zM131.7 367.55a1.0 1.0 0 1 0 2 0a1.0 1.0 0 1 0 -2 0zM134.1 367.86a1.0 1.0 0 1 0 2 0a1.0 1.0 0 1 0 -2 0zM141.3 366.71a1.0 1.0 0 1 0 2 0a1.0 1.0 0 1 0 -2 0zM143.7 366.15a1.0 1.0 0 1 0 2 0a1.0 1.0 0 1 0 -2 0zM148.5 365.29a1.0 1.0 0 1 0 2 0a1.0 1.0 0 1 0 -2 0zM119.53 367.03a1.17 1.17 0 1 0 2.34 0a1.17 1.17 0 1 0 -2.34 0zM121.93 367.52a1.17 1.17 0 1 0 2.34 0a1.17 1.17 0 1 0 -2.34 0zM124.33 368.1a1.17 1.17 0 1 0 2.34 0a1.17 1.17 0 1 0 -2.34 0zM126.73 368.32a1.17 1.17 0 1 0 2.34 0a1.17 1.17 0 1 0 -2.34 0zM129.13 368.75a1.17 1.17 0 1 0 2.34 0a1.17 1.17 0 1 0 -2.34 0zM131.53 369.25a1.17 1.17 0 1 0 2.34 0a1.17 1.17 0 1 0 -2.34 0zM133.93 369.73a1.17 1.17 0 1 0 2.34 0a1.17 1.17 0 1 0 -2.34 0zM136.33 369.42a1.17 1.17 0 1 0 2.34 0a1.17 1.17 0 1 0 -2.34 0zM138.73 368.75a1.17 1.17 0 1 0 2.34 0a1.17 1.17 0 1 0 -2.34 0zM141.13 368.46a1.17 1.17 0 1 0 2.34 0a1.17 1.17 0 1 0 -2.34 0zM143.53 368.06a1.17 1.17 0 1 0 2.34 0a1.17 1.17 0 1 0 -2.34 0zM145.93 367.42a1.17 1.17 0 1 0 2.34 0a1.17 1.17 0 1 0 -2.34 0zM148.33 366.97a1.17 1.17 0 1 0 2.34 0a1.17 1.17 0 1 0 -2.34 0zM119.53 368.41a1.17 1.17 0 1 0 2.34 0a1.17 1.17 0 1 0 -2.34 0zM121.93 368.87a1.17 1.17 0 1 0 2.34 0a1.17 1.17 0 1 0 -2.34 0zM124.33 369.46a1.17 1.17 0 1 0 2.34 0a1.17 1.17 0 1 0 -2.34 0zM126.73 369.78a1.17 1.17 0 1 0 2.34 0a1.17 1.17 0 1 0 -2.34 0zM129.13 370.31a1.17 1.17 0 1 0 2.34 0a1.17 1.17 0 1 0 -2.34 0zM131.53 370.83a1.17 1.17 0 1 0 2.34 0a1.17 1.17 0 1 0 -2.34 0zM133.93 371.12a1.17 1.17 0 1 0 2.34 0a1.17 1.17 0 1 0 -2.34 0zM136.33 370.66a1.17 1.17 0 1 0 2.34 0a1.17 1.17 0 1 0 -2.34 0zM138.73 370.25a1.17 1.17 0 1 0 2.34 0a1.17 1.17 0 1 0 -2.34 0zM141.13 369.95a1.17 1.17 0 1 0 2.34 0a1.17 1.17 0 1 0 -2.34 0zM143.53 369.4a1.17 1.17 0 1 0 2.34 0a1.17 1.17 0 1 0 -2.34 0zM145.93 368.94a1.17 1.17 0 1 0 2.34 0a1.17 1.17 0 1 0 -2.34 0zM148.33 368.51a1.17 1.17 0 1 0 2.34 0a1.17 1.17 0 1 0 -2.34 0zM119.7 370.47a1.0 1.0 0 1 0 2 0a1.0 1.0 0 1 0 -2 0zM122.1 370.93a1.0 1.0 0 1 0 2 0a1.0 1.0 0 1 0 -2 0zM124.5 371.39a1.0 1.0 0 1 0 2 0a1.0 1.0 0 1 0 -2 0zM126.9 371.83a1.0 1.0 0 1 0 2 0a1.0 1.0 0 1 0 -2 0zM129.3 372.45a1.0 1.0 0 1 0 2 0a1.0 1.0 0 1 0 -2 0zM131.7 372.8a1.0 1.0 0 1 0 2 0a1.0 1.0 0 1 0 -2 0zM134.1 373.37a1.0 1.0 0 1 0 2 0a1.0 1.0 0 1 0 -2 0zM136.5 372.84a1.0 1.0 0 1 0 2 0a1.0 1.0 0 1 0 -2 0zM138.9 372.41a1.0 1.0 0 1 0 2 0a1.0 1.0 0 1 0 -2 0zM141.3 371.87a1.0 1.0 0 1 0 2 0a1.0 1.0 0 1 0 -2 0zM143.7 371.45a1.0 1.0 0 1 0 2 0a1.0 1.0 0 1 0 -2 0zM146.1 371.01a1.0 1.0 0 1 0 2 0a1.0 1.0 0 1 0 -2 0zM148.5 370.64a1.0 1.0 0 1 0 2 0a1.0 1.0 0 1 0 -2 0zM122.1 373.36a1.0 1.0 0 1 0 2 0a1.0 1.0 0 1 0 -2 0zM124.5 373.81a1.0 1.0 0 1 0 2 0a1.0 1.0 0 1 0 -2 0zM126.9 374.44a1.0 1.0 0 1 0 2 0a1.0 1.0 0 1 0 -2 0zM129.3 374.76a1.0 1.0 0 1 0 2 0a1.0 1.0 0 1 0 -2 0zM134.1 375.81a1.0 1.0 0 1 0 2 0a1.0 1.0 0 1 0 -2 0zM136.5 375.37a1.0 1.0 0 1 0 2 0a1.0 1.0 0 1 0 -2 0zM138.9 374.82a1.0 1.0 0 1 0 2 0a1.0 1.0 0 1 0 -2 0zM141.3 374.51a1.0 1.0 0 1 0 2 0a1.0 1.0 0 1 0 -2 0zM148.5 372.92a1.0 1.0 0 1 0 2 0a1.0 1.0 0 1 0 -2 0zM119.7 375.69a1.0 1.0 0 1 0 2 0a1.0 1.0 0 1 0 -2 0zM122.1 376a1.0 1.0 0 1 0 2 0a1.0 1.0 0 1 0 -2 0zM124.5 376.56a1.0 1.0 0 1 0 2 0a1.0 1.0 0 1 0 -2 0zM126.9 377.05a1.0 1.0 0 1 0 2 0a1.0 1.0 0 1 0 -2 0zM129.3 377.5a1.0 1.0 0 1 0 2 0a1.0 1.0 0 1 0 -2 0zM131.7 377.69a1.0 1.0 0 1 0 2 0a1.0 1.0 0 1 0 -2 0zM134.1 378.29a1.0 1.0 0 1 0 2 0a1.0 1.0 0 1 0 -2 0zM136.5 377.82a1.0 1.0 0 1 0 2 0a1.0 1.0 0 1 0 -2 0zM141.3 376.98a1.0 1.0 0 1 0 2 0a1.0 1.0 0 1 0 -2 0zM143.7 376.47a1.0 1.0 0 1 0 2 0a1.0 1.0 0 1 0 -2 0zM146.1 375.99a1.0 1.0 0 1 0 2 0a1.0 1.0 0 1 0 -2 0zM134.1 328.9a1.0 1.0 0 1 0 2 0a1.0 1.0 0 1 0 -2 0zM134.1 332a1.0 1.0 0 1 0 2 0a1.0 1.0 0 1 0 -2 0z" fill="#000"/>
<text x="0.8" y="9.2" font-size="11" text-anchor="start" font-weight="bold">A</text>
<text x="256.2" y="7.5" font-size="7.9" text-anchor="middle" font-weight="bold">Missense mutations</text>
<line x1="195.6" y1="16.8" x2="195.6" y2="100" stroke="#000" stroke-width="1.3"/>
<line x1="195" y1="99.4" x2="319.6" y2="99.4" stroke="#000" stroke-width="1.3"/>
<line x1="192" y1="99.4" x2="195.6" y2="99.4" stroke="#000" stroke-width="1.1"/>
<text x="191.7" y="101.35" font-size="5.4" text-anchor="end" font-weight="bold">0</text>
<line x1="192" y1="78.9" x2="195.6" y2="78.9" stroke="#000" stroke-width="1.1"/>
<text x="191.7" y="80.85" font-size="5.4" text-anchor="end" font-weight="bold">5</text>
<line x1="192" y1="58.4" x2="195.6" y2="58.4" stroke="#000" stroke-width="1.1"/>
<text x="191.7" y="60.35" font-size="5.4" text-anchor="end" font-weight="bold">10</text>
<line x1="192" y1="37.9" x2="195.6" y2="37.9" stroke="#000" stroke-width="1.1"/>
<text x="191.7" y="39.85" font-size="5.4" text-anchor="end" font-weight="bold">15</text>
<line x1="192" y1="17.4" x2="195.6" y2="17.4" stroke="#000" stroke-width="1.1"/>
<text x="191.7" y="19.35" font-size="5.4" text-anchor="end" font-weight="bold">20</text>
<line x1="195.6" y1="99.4" x2="195.6" y2="102.2" stroke="#000" stroke-width="1.1"/>
<text x="195.6" y="108.5" font-size="5.5" text-anchor="middle" font-weight="bold">0</text>
<line x1="220.28" y1="99.4" x2="220.28" y2="102.2" stroke="#000" stroke-width="1.1"/>
<text x="220.28" y="108.5" font-size="5.5" text-anchor="middle" font-weight="bold">1</text>
<line x1="244.96" y1="99.4" x2="244.96" y2="102.2" stroke="#000" stroke-width="1.1"/>
<text x="244.96" y="108.5" font-size="5.5" text-anchor="middle" font-weight="bold">2</text>
<line x1="269.64" y1="99.4" x2="269.64" y2="102.2" stroke="#000" stroke-width="1.1"/>
<text x="269.64" y="108.5" font-size="5.5" text-anchor="middle" font-weight="bold">3</text>
<line x1="294.32" y1="99.4" x2="294.32" y2="102.2" stroke="#000" stroke-width="1.1"/>
<text x="294.32" y="108.5" font-size="5.5" text-anchor="middle" font-weight="bold">4</text>
<line x1="319" y1="99.4" x2="319" y2="102.2" stroke="#000" stroke-width="1.1"/>
<text x="319" y="108.5" font-size="5.5" text-anchor="middle" font-weight="bold">5</text>
<text x="181.2" y="58" font-size="6.9" text-anchor="middle" font-weight="bold" transform="rotate(-90 181.2 58)">VWFpp/VWF:Ag</text>
<path d="M199.33 67.83a1.6 1.6 0 1 0 3.2 0a1.6 1.6 0 1 0 -3.2 0zM199.33 69.88a1.6 1.6 0 1 0 3.2 0a1.6 1.6 0 1 0 -3.2 0zM212.88 40.36a1.6 1.6 0 1 0 3.2 0a1.6 1.6 0 1 0 -3.2 0zM216.21 37.9a1.6 1.6 0 1 0 3.2 0a1.6 1.6 0 1 0 -3.2 0zM219.42 36.67a1.6 1.6 0 1 0 3.2 0a1.6 1.6 0 1 0 -3.2 0zM219.42 39.13a1.6 1.6 0 1 0 3.2 0a1.6 1.6 0 1 0 -3.2 0zM212.26 48.15a1.6 1.6 0 1 0 3.2 0a1.6 1.6 0 1 0 -3.2 0zM219.42 46.1a1.6 1.6 0 1 0 3.2 0a1.6 1.6 0 1 0 -3.2 0zM222.63 53.07a1.6 1.6 0 1 0 3.2 0a1.6 1.6 0 1 0 -3.2 0zM226.58 51.43a1.6 1.6 0 1 0 3.2 0a1.6 1.6 0 1 0 -3.2 0zM229.05 49.38a1.6 1.6 0 1 0 3.2 0a1.6 1.6 0 1 0 -3.2 0zM219.42 60.04a1.6 1.6 0 1 0 3.2 0a1.6 1.6 0 1 0 -3.2 0zM225.59 57.58a1.6 1.6 0 1 0 3.2 0a1.6 1.6 0 1 0 -3.2 0zM210.29 60.86a1.6 1.6 0 1 0 3.2 0a1.6 1.6 0 1 0 -3.2 0zM214.48 67.42a1.6 1.6 0 1 0 3.2 0a1.6 1.6 0 1 0 -3.2 0zM216.95 70.7a1.6 1.6 0 1 0 3.2 0a1.6 1.6 0 1 0 -3.2 0zM223.12 69.06a1.6 1.6 0 1 0 3.2 0a1.6 1.6 0 1 0 -3.2 0zM213.25 75.21a1.6 1.6 0 1 0 3.2 0a1.6 1.6 0 1 0 -3.2 0zM215.47 74.8a1.6 1.6 0 1 0 3.2 0a1.6 1.6 0 1 0 -3.2 0zM217.45 75.21a1.6 1.6 0 1 0 3.2 0a1.6 1.6 0 1 0 -3.2 0zM241.14 48.97a1.6 1.6 0 1 0 3.2 0a1.6 1.6 0 1 0 -3.2 0zM244.35 50.61a1.6 1.6 0 1 0 3.2 0a1.6 1.6 0 1 0 -3.2 0zM246.82 45.28a1.6 1.6 0 1 0 3.2 0a1.6 1.6 0 1 0 -3.2 0zM249.28 36.67a1.6 1.6 0 1 0 3.2 0a1.6 1.6 0 1 0 -3.2 0zM251.01 41.59a1.6 1.6 0 1 0 3.2 0a1.6 1.6 0 1 0 -3.2 0zM252.24 43.23a1.6 1.6 0 1 0 3.2 0a1.6 1.6 0 1 0 -3.2 0zM240.4 60.86a1.6 1.6 0 1 0 3.2 0a1.6 1.6 0 1 0 -3.2 0zM236.45 68.65a1.6 1.6 0 1 0 3.2 0a1.6 1.6 0 1 0 -3.2 0zM241.14 69.47a1.6 1.6 0 1 0 3.2 0a1.6 1.6 0 1 0 -3.2 0zM232.75 72.75a1.6 1.6 0 1 0 3.2 0a1.6 1.6 0 1 0 -3.2 0zM231.51 74.8a1.6 1.6 0 1 0 3.2 0a1.6 1.6 0 1 0 -3.2 0zM225.59 76.44a1.6 1.6 0 1 0 3.2 0a1.6 1.6 0 1 0 -3.2 0zM238.92 75.21a1.6 1.6 0 1 0 3.2 0a1.6 1.6 0 1 0 -3.2 0zM247.31 75.83a1.6 1.6 0 1 0 3.2 0a1.6 1.6 0 1 0 -3.2 0zM249.78 73.57a1.6 1.6 0 1 0 3.2 0a1.6 1.6 0 1 0 -3.2 0zM262.36 55.53a1.6 1.6 0 1 0 3.2 0a1.6 1.6 0 1 0 -3.2 0zM260.64 61.68a1.6 1.6 0 1 0 3.2 0a1.6 1.6 0 1 0 -3.2 0zM263.1 61.27a1.6 1.6 0 1 0 3.2 0a1.6 1.6 0 1 0 -3.2 0zM267.79 56.76a1.6 1.6 0 1 0 3.2 0a1.6 1.6 0 1 0 -3.2 0zM266.07 61.68a1.6 1.6 0 1 0 3.2 0a1.6 1.6 0 1 0 -3.2 0zM260.64 73.98a1.6 1.6 0 1 0 3.2 0a1.6 1.6 0 1 0 -3.2 0zM266.07 70.7a1.6 1.6 0 1 0 3.2 0a1.6 1.6 0 1 0 -3.2 0zM256.93 79.31a1.6 1.6 0 1 0 3.2 0a1.6 1.6 0 1 0 -3.2 0zM258.66 78.08a1.6 1.6 0 1 0 3.2 0a1.6 1.6 0 1 0 -3.2 0zM272.98 19.45a1.6 1.6 0 1 0 3.2 0a1.6 1.6 0 1 0 -3.2 0zM296.42 57.58a1.6 1.6 0 1 0 3.2 0a1.6 1.6 0 1 0 -3.2 0zM281.61 70.29a1.6 1.6 0 1 0 3.2 0a1.6 1.6 0 1 0 -3.2 0zM284.33 72.96a1.6 1.6 0 1 0 3.2 0a1.6 1.6 0 1 0 -3.2 0zM277.91 78.08a1.6 1.6 0 1 0 3.2 0a1.6 1.6 0 1 0 -3.2 0zM291.98 84.23a1.6 1.6 0 1 0 3.2 0a1.6 1.6 0 1 0 -3.2 0zM289.02 92.55a1.6 1.6 0 1 0 3.2 0a1.6 1.6 0 1 0 -3.2 0zM274.7 94.07a1.6 1.6 0 1 0 3.2 0a1.6 1.6 0 1 0 -3.2 0zM266.81 90.79a1.6 1.6 0 1 0 3.2 0a1.6 1.6 0 1 0 -3.2 0zM269.52 69.47a1.6 1.6 0 1 0 3.2 0a1.6 1.6 0 1 0 -3.2 0zM260.64 77.26a1.6 1.6 0 1 0 3.2 0a1.6 1.6 0 1 0 -3.2 0zM198.94 93.25a1.6 1.6 0 1 0 3.2 0a1.6 1.6 0 1 0 -3.2 0zM201.4 94.07a1.6 1.6 0 1 0 3.2 0a1.6 1.6 0 1 0 -3.2 0zM205.11 89.97a1.6 1.6 0 1 0 3.2 0a1.6 1.6 0 1 0 -3.2 0zM246.62 85.14a1.6 1.6 0 1 0 3.2 0a1.6 1.6 0 1 0 -3.2 0zM235.12 82.2a1.6 1.6 0 1 0 3.2 0a1.6 1.6 0 1 0 -3.2 0zM229.55 81.89a1.6 1.6 0 1 0 3.2 0a1.6 1.6 0 1 0 -3.2 0zM244.46 86.94a1.6 1.6 0 1 0 3.2 0a1.6 1.6 0 1 0 -3.2 0zM223.64 81.18a1.6 1.6 0 1 0 3.2 0a1.6 1.6 0 1 0 -3.2 0zM223.35 86.44a1.6 1.6 0 1 0 3.2 0a1.6 1.6 0 1 0 -3.2 0zM251.06 84.09a1.6 1.6 0 1 0 3.2 0a1.6 1.6 0 1 0 -3.2 0zM260.97 82.06a1.6 1.6 0 1 0 3.2 0a1.6 1.6 0 1 0 -3.2 0zM217.64 81.36a1.6 1.6 0 1 0 3.2 0a1.6 1.6 0 1 0 -3.2 0zM225.78 79.75a1.6 1.6 0 1 0 3.2 0a1.6 1.6 0 1 0 -3.2 0zM249.15 80.26a1.6 1.6 0 1 0 3.2 0a1.6 1.6 0 1 0 -3.2 0zM215.4 86.79a1.6 1.6 0 1 0 3.2 0a1.6 1.6 0 1 0 -3.2 0zM252.88 85.83a1.6 1.6 0 1 0 3.2 0a1.6 1.6 0 1 0 -3.2 0zM222.72 86.83a1.6 1.6 0 1 0 3.2 0a1.6 1.6 0 1 0 -3.2 0zM220.78 82.83a1.6 1.6 0 1 0 3.2 0a1.6 1.6 0 1 0 -3.2 0zM260.98 84.2a1.6 1.6 0 1 0 3.2 0a1.6 1.6 0 1 0 -3.2 0zM225.63 79.63a1.6 1.6 0 1 0 3.2 0a1.6 1.6 0 1 0 -3.2 0zM221.84 81.37a1.6 1.6 0 1 0 3.2 0a1.6 1.6 0 1 0 -3.2 0zM243.63 78.66a1.6 1.6 0 1 0 3.2 0a1.6 1.6 0 1 0 -3.2 0zM214.72 82.02a1.6 1.6 0 1 0 3.2 0a1.6 1.6 0 1 0 -3.2 0zM231.88 79.67a1.6 1.6 0 1 0 3.2 0a1.6 1.6 0 1 0 -3.2 0zM225.27 80.65a1.6 1.6 0 1 0 3.2 0a1.6 1.6 0 1 0 -3.2 0zM239.1 90.7a1.6 1.6 0 1 0 3.2 0a1.6 1.6 0 1 0 -3.2 0zM248.15 91.92a1.6 1.6 0 1 0 3.2 0a1.6 1.6 0 1 0 -3.2 0zM225.16 82.35a1.6 1.6 0 1 0 3.2 0a1.6 1.6 0 1 0 -3.2 0zM259.93 83.36a1.6 1.6 0 1 0 3.2 0a1.6 1.6 0 1 0 -3.2 0zM214.78 87.44a1.6 1.6 0 1 0 3.2 0a1.6 1.6 0 1 0 -3.2 0zM248.03 87.47a1.6 1.6 0 1 0 3.2 0a1.6 1.6 0 1 0 -3.2 0zM227.66 94.38a1.6 1.6 0 1 0 3.2 0a1.6 1.6 0 1 0 -3.2 0zM231.35 89.41a1.6 1.6 0 1 0 3.2 0a1.6 1.6 0 1 0 -3.2 0zM244.08 87.32a1.6 1.6 0 1 0 3.2 0a1.6 1.6 0 1 0 -3.2 0zM248.18 79.64a1.6 1.6 0 1 0 3.2 0a1.6 1.6 0 1 0 -3.2 0zM232.92 91.88a1.6 1.6 0 1 0 3.2 0a1.6 1.6 0 1 0 -3.2 0zM241.83 80.58a1.6 1.6 0 1 0 3.2 0a1.6 1.6 0 1 0 -3.2 0zM231.42 94.37a1.6 1.6 0 1 0 3.2 0a1.6 1.6 0 1 0 -3.2 0zM227.51 89.27a1.6 1.6 0 1 0 3.2 0a1.6 1.6 0 1 0 -3.2 0zM259.69 85.21a1.6 1.6 0 1 0 3.2 0a1.6 1.6 0 1 0 -3.2 0zM240.54 94.17a1.6 1.6 0 1 0 3.2 0a1.6 1.6 0 1 0 -3.2 0zM230.05 92.93a1.6 1.6 0 1 0 3.2 0a1.6 1.6 0 1 0 -3.2 0zM241.64 84.21a1.6 1.6 0 1 0 3.2 0a1.6 1.6 0 1 0 -3.2 0zM241.23 89.35a1.6 1.6 0 1 0 3.2 0a1.6 1.6 0 1 0 -3.2 0zM248.25 85.97a1.6 1.6 0 1 0 3.2 0a1.6 1.6 0 1 0 -3.2 0zM219.45 94.13a1.6 1.6 0 1 0 3.2 0a1.6 1.6 0 1 0 -3.2 0zM243.12 91.82a1.6 1.6 0 1 0 3.2 0a1.6 1.6 0 1 0 -3.2 0zM263.17 85.53a1.6 1.6 0 1 0 3.2 0a1.6 1.6 0 1 0 -3.2 0zM234.06 86.52a1.6 1.6 0 1 0 3.2 0a1.6 1.6 0 1 0 -3.2 0zM242.08 82.08a1.6 1.6 0 1 0 3.2 0a1.6 1.6 0 1 0 -3.2 0zM243 82.13a1.6 1.6 0 1 0 3.2 0a1.6 1.6 0 1 0 -3.2 0zM243.97 90.51a1.6 1.6 0 1 0 3.2 0a1.6 1.6 0 1 0 -3.2 0zM235.33 89.08a1.6 1.6 0 1 0 3.2 0a1.6 1.6 0 1 0 -3.2 0zM232.96 85.11a1.6 1.6 0 1 0 3.2 0a1.6 1.6 0 1 0 -3.2 0zM225.05 88.93a1.6 1.6 0 1 0 3.2 0a1.6 1.6 0 1 0 -3.2 0zM249.72 93.71a1.6 1.6 0 1 0 3.2 0a1.6 1.6 0 1 0 -3.2 0zM251.24 90.68a1.6 1.6 0 1 0 3.2 0a1.6 1.6 0 1 0 -3.2 0zM224.69 88.23a1.6 1.6 0 1 0 3.2 0a1.6 1.6 0 1 0 -3.2 0zM226.25 89.49a1.6 1.6 0 1 0 3.2 0a1.6 1.6 0 1 0 -3.2 0zM242.9 91.75a1.6 1.6 0 1 0 3.2 0a1.6 1.6 0 1 0 -3.2 0zM259.02 90.02a1.6 1.6 0 1 0 3.2 0a1.6 1.6 0 1 0 -3.2 0zM253.32 93.66a1.6 1.6 0 1 0 3.2 0a1.6 1.6 0 1 0 -3.2 0zM231.11 91.31a1.6 1.6 0 1 0 3.2 0a1.6 1.6 0 1 0 -3.2 0zM227.26 90.17a1.6 1.6 0 1 0 3.2 0a1.6 1.6 0 1 0 -3.2 0zM222.9 87.98a1.6 1.6 0 1 0 3.2 0a1.6 1.6 0 1 0 -3.2 0zM254.75 92.38a1.6 1.6 0 1 0 3.2 0a1.6 1.6 0 1 0 -3.2 0zM242.01 84.84a1.6 1.6 0 1 0 3.2 0a1.6 1.6 0 1 0 -3.2 0zM230.19 94.22a1.6 1.6 0 1 0 3.2 0a1.6 1.6 0 1 0 -3.2 0zM242.02 85.88a1.6 1.6 0 1 0 3.2 0a1.6 1.6 0 1 0 -3.2 0zM254.16 88.04a1.6 1.6 0 1 0 3.2 0a1.6 1.6 0 1 0 -3.2 0zM224.71 92.92a1.6 1.6 0 1 0 3.2 0a1.6 1.6 0 1 0 -3.2 0zM215.19 94.44a1.6 1.6 0 1 0 3.2 0a1.6 1.6 0 1 0 -3.2 0zM240.89 93.68a1.6 1.6 0 1 0 3.2 0a1.6 1.6 0 1 0 -3.2 0zM233.89 92.71a1.6 1.6 0 1 0 3.2 0a1.6 1.6 0 1 0 -3.2 0zM238.37 92.81a1.6 1.6 0 1 0 3.2 0a1.6 1.6 0 1 0 -3.2 0zM220.1 81.3a1.6 1.6 0 1 0 3.2 0a1.6 1.6 0 1 0 -3.2 0zM213.81 79.21a1.6 1.6 0 1 0 3.2 0a1.6 1.6 0 1 0 -3.2 0zM225.73 87.88a1.6 1.6 0 1 0 3.2 0a1.6 1.6 0 1 0 -3.2 0zM220.8 85.21a1.6 1.6 0 1 0 3.2 0a1.6 1.6 0 1 0 -3.2 0zM233.96 87.13a1.6 1.6 0 1 0 3.2 0a1.6 1.6 0 1 0 -3.2 0zM245.96 82.97a1.6 1.6 0 1 0 3.2 0a1.6 1.6 0 1 0 -3.2 0zM247.14 88.1a1.6 1.6 0 1 0 3.2 0a1.6 1.6 0 1 0 -3.2 0zM237.19 89.01a1.6 1.6 0 1 0 3.2 0a1.6 1.6 0 1 0 -3.2 0zM218.27 89.61a1.6 1.6 0 1 0 3.2 0a1.6 1.6 0 1 0 -3.2 0zM246.58 93.43a1.6 1.6 0 1 0 3.2 0a1.6 1.6 0 1 0 -3.2 0zM236.55 92.39a1.6 1.6 0 1 0 3.2 0a1.6 1.6 0 1 0 -3.2 0zM214.44 79.75a1.6 1.6 0 1 0 3.2 0a1.6 1.6 0 1 0 -3.2 0zM241.57 90.48a1.6 1.6 0 1 0 3.2 0a1.6 1.6 0 1 0 -3.2 0zM240.09 94.83a1.6 1.6 0 1 0 3.2 0a1.6 1.6 0 1 0 -3.2 0zM225.64 87.63a1.6 1.6 0 1 0 3.2 0a1.6 1.6 0 1 0 -3.2 0zM252.69 83.19a1.6 1.6 0 1 0 3.2 0a1.6 1.6 0 1 0 -3.2 0zM255.74 88.26a1.6 1.6 0 1 0 3.2 0a1.6 1.6 0 1 0 -3.2 0zM265.17 89.93a1.6 1.6 0 1 0 3.2 0a1.6 1.6 0 1 0 -3.2 0zM243.16 94.18a1.6 1.6 0 1 0 3.2 0a1.6 1.6 0 1 0 -3.2 0zM238.2 94.02a1.6 1.6 0 1 0 3.2 0a1.6 1.6 0 1 0 -3.2 0zM219.93 84.13a1.6 1.6 0 1 0 3.2 0a1.6 1.6 0 1 0 -3.2 0zM234.57 84.8a1.6 1.6 0 1 0 3.2 0a1.6 1.6 0 1 0 -3.2 0zM227.04 87.25a1.6 1.6 0 1 0 3.2 0a1.6 1.6 0 1 0 -3.2 0zM221.85 86.31a1.6 1.6 0 1 0 3.2 0a1.6 1.6 0 1 0 -3.2 0zM244.24 79.96a1.6 1.6 0 1 0 3.2 0a1.6 1.6 0 1 0 -3.2 0zM253.55 88.67a1.6 1.6 0 1 0 3.2 0a1.6 1.6 0 1 0 -3.2 0zM229.93 92.84a1.6 1.6 0 1 0 3.2 0a1.6 1.6 0 1 0 -3.2 0zM215.89 92.14a1.6 1.6 0 1 0 3.2 0a1.6 1.6 0 1 0 -3.2 0zM210.96 89.51a1.6 1.6 0 1 0 3.2 0a1.6 1.6 0 1 0 -3.2 0zM232.75 92.05a1.6 1.6 0 1 0 3.2 0a1.6 1.6 0 1 0 -3.2 0zM226.13 82.28a1.6 1.6 0 1 0 3.2 0a1.6 1.6 0 1 0 -3.2 0zM227.47 84.92a1.6 1.6 0 1 0 3.2 0a1.6 1.6 0 1 0 -3.2 0zM208.72 92.77a1.6 1.6 0 1 0 3.2 0a1.6 1.6 0 1 0 -3.2 0zM213.19 89.49a1.6 1.6 0 1 0 3.2 0a1.6 1.6 0 1 0 -3.2 0zM223.97 83.16a1.6 1.6 0 1 0 3.2 0a1.6 1.6 0 1 0 -3.2 0zM243.28 89.19a1.6 1.6 0 1 0 3.2 0a1.6 1.6 0 1 0 -3.2 0zM232.15 93.1a1.6 1.6 0 1 0 3.2 0a1.6 1.6 0 1 0 -3.2 0zM245.14 89.31a1.6 1.6 0 1 0 3.2 0a1.6 1.6 0 1 0 -3.2 0zM245.49 91.02a1.6 1.6 0 1 0 3.2 0a1.6 1.6 0 1 0 -3.2 0zM248.71 91.4a1.6 1.6 0 1 0 3.2 0a1.6 1.6 0 1 0 -3.2 0zM222.16 91.71a1.6 1.6 0 1 0 3.2 0a1.6 1.6 0 1 0 -3.2 0zM245.65 88.6a1.6 1.6 0 1 0 3.2 0a1.6 1.6 0 1 0 -3.2 0zM231.77 84.26a1.6 1.6 0 1 0 3.2 0a1.6 1.6 0 1 0 -3.2 0zM228.62 90.05a1.6 1.6 0 1 0 3.2 0a1.6 1.6 0 1 0 -3.2 0zM236.59 94.71a1.6 1.6 0 1 0 3.2 0a1.6 1.6 0 1 0 -3.2 0zM236.32 85.28a1.6 1.6 0 1 0 3.2 0a1.6 1.6 0 1 0 -3.2 0zM247.37 89.67a1.6 1.6 0 1 0 3.2 0a1.6 1.6 0 1 0 -3.2 0zM235.62 89.58a1.6 1.6 0 1 0 3.2 0a1.6 1.6 0 1 0 -3.2 0zM245.33 92.74a1.6 1.6 0 1 0 3.2 0a1.6 1.6 0 1 0 -3.2 0zM217.98 93.26a1.6 1.6 0 1 0 3.2 0a1.6 1.6 0 1 0 -3.2 0zM237.6 88.82a1.6 1.6 0 1 0 3.2 0a1.6 1.6 0 1 0 -3.2 0zM236 80.02a1.6 1.6 0 1 0 3.2 0a1.6 1.6 0 1 0 -3.2 0zM206.94 92.04a1.6 1.6 0 1 0 3.2 0a1.6 1.6 0 1 0 -3.2 0zM236.59 88.78a1.6 1.6 0 1 0 3.2 0a1.6 1.6 0 1 0 -3.2 0zM227.06 85.93a1.6 1.6 0 1 0 3.2 0a1.6 1.6 0 1 0 -3.2 0zM210.23 92.26a1.6 1.6 0 1 0 3.2 0a1.6 1.6 0 1 0 -3.2 0zM226.43 87.94a1.6 1.6 0 1 0 3.2 0a1.6 1.6 0 1 0 -3.2 0zM247.07 90.69a1.6 1.6 0 1 0 3.2 0a1.6 1.6 0 1 0 -3.2 0zM218.2 86.4a1.6 1.6 0 1 0 3.2 0a1.6 1.6 0 1 0 -3.2 0zM257.19 90.85a1.6 1.6 0 1 0 3.2 0a1.6 1.6 0 1 0 -3.2 0zM213.78 88.78a1.6 1.6 0 1 0 3.2 0a1.6 1.6 0 1 0 -3.2 0zM220.39 91.69a1.6 1.6 0 1 0 3.2 0a1.6 1.6 0 1 0 -3.2 0zM231.24 93.01a1.6 1.6 0 1 0 3.2 0a1.6 1.6 0 1 0 -3.2 0zM254.45 91.77a1.6 1.6 0 1 0 3.2 0a1.6 1.6 0 1 0 -3.2 0zM231.26 89.29a1.6 1.6 0 1 0 3.2 0a1.6 1.6 0 1 0 -3.2 0zM231.69 92.03a1.6 1.6 0 1 0 3.2 0a1.6 1.6 0 1 0 -3.2 0zM246.69 91.62a1.6 1.6 0 1 0 3.2 0a1.6 1.6 0 1 0 -3.2 0zM237.75 87.79a1.6 1.6 0 1 0 3.2 0a1.6 1.6 0 1 0 -3.2 0zM241.48 89.68a1.6 1.6 0 1 0 3.2 0a1.6 1.6 0 1 0 -3.2 0zM218.17 79.12a1.6 1.6 0 1 0 3.2 0a1.6 1.6 0 1 0 -3.2 0zM213.28 88.08a1.6 1.6 0 1 0 3.2 0a1.6 1.6 0 1 0 -3.2 0zM221.07 82.87a1.6 1.6 0 1 0 3.2 0a1.6 1.6 0 1 0 -3.2 0zM244.14 90.05a1.6 1.6 0 1 0 3.2 0a1.6 1.6 0 1 0 -3.2 0zM235.01 89.18a1.6 1.6 0 1 0 3.2 0a1.6 1.6 0 1 0 -3.2 0zM235.81 88.59a1.6 1.6 0 1 0 3.2 0a1.6 1.6 0 1 0 -3.2 0zM234.17 90.18a1.6 1.6 0 1 0 3.2 0a1.6 1.6 0 1 0 -3.2 0zM229.13 90.26a1.6 1.6 0 1 0 3.2 0a1.6 1.6 0 1 0 -3.2 0zM208.39 89.26a1.6 1.6 0 1 0 3.2 0a1.6 1.6 0 1 0 -3.2 0zM217.03 79.67a1.6 1.6 0 1 0 3.2 0a1.6 1.6 0 1 0 -3.2 0zM227.99 93.36a1.6 1.6 0 1 0 3.2 0a1.6 1.6 0 1 0 -3.2 0zM206.41 90.2a1.6 1.6 0 1 0 3.2 0a1.6 1.6 0 1 0 -3.2 0zM231.21 88.16a1.6 1.6 0 1 0 3.2 0a1.6 1.6 0 1 0 -3.2 0zM219.72 87.83a1.6 1.6 0 1 0 3.2 0a1.6 1.6 0 1 0 -3.2 0zM230.27 92.12a1.6 1.6 0 1 0 3.2 0a1.6 1.6 0 1 0 -3.2 0zM259.19 91.73a1.6 1.6 0 1 0 3.2 0a1.6 1.6 0 1 0 -3.2 0zM241.35 88.32a1.6 1.6 0 1 0 3.2 0a1.6 1.6 0 1 0 -3.2 0zM240.93 83.02a1.6 1.6 0 1 0 3.2 0a1.6 1.6 0 1 0 -3.2 0zM256.01 87.14a1.6 1.6 0 1 0 3.2 0a1.6 1.6 0 1 0 -3.2 0zM214.5 90.6a1.6 1.6 0 1 0 3.2 0a1.6 1.6 0 1 0 -3.2 0zM249.54 85.36a1.6 1.6 0 1 0 3.2 0a1.6 1.6 0 1 0 -3.2 0zM242.27 81.19a1.6 1.6 0 1 0 3.2 0a1.6 1.6 0 1 0 -3.2 0zM237.07 91.38a1.6 1.6 0 1 0 3.2 0a1.6 1.6 0 1 0 -3.2 0zM246.75 86.43a1.6 1.6 0 1 0 3.2 0a1.6 1.6 0 1 0 -3.2 0zM237.05 86.04a1.6 1.6 0 1 0 3.2 0a1.6 1.6 0 1 0 -3.2 0zM254.31 89.92a1.6 1.6 0 1 0 3.2 0a1.6 1.6 0 1 0 -3.2 0zM234.59 89.32a1.6 1.6 0 1 0 3.2 0a1.6 1.6 0 1 0 -3.2 0zM244.02 90.44a1.6 1.6 0 1 0 3.2 0a1.6 1.6 0 1 0 -3.2 0zM236.22 94.34a1.6 1.6 0 1 0 3.2 0a1.6 1.6 0 1 0 -3.2 0zM262.46 89.57a1.6 1.6 0 1 0 3.2 0a1.6 1.6 0 1 0 -3.2 0zM235.98 86.84a1.6 1.6 0 1 0 3.2 0a1.6 1.6 0 1 0 -3.2 0zM253.13 86.22a1.6 1.6 0 1 0 3.2 0a1.6 1.6 0 1 0 -3.2 0zM247.71 89.81a1.6 1.6 0 1 0 3.2 0a1.6 1.6 0 1 0 -3.2 0zM206 92.46a1.6 1.6 0 1 0 3.2 0a1.6 1.6 0 1 0 -3.2 0zM231.74 86.69a1.6 1.6 0 1 0 3.2 0a1.6 1.6 0 1 0 -3.2 0zM205.21 91.62a1.6 1.6 0 1 0 3.2 0a1.6 1.6 0 1 0 -3.2 0zM227.93 87.77a1.6 1.6 0 1 0 3.2 0a1.6 1.6 0 1 0 -3.2 0zM240.67 86.08a1.6 1.6 0 1 0 3.2 0a1.6 1.6 0 1 0 -3.2 0zM229.42 80.21a1.6 1.6 0 1 0 3.2 0a1.6 1.6 0 1 0 -3.2 0zM231.09 91.41a1.6 1.6 0 1 0 3.2 0a1.6 1.6 0 1 0 -3.2 0zM219.62 90.75a1.6 1.6 0 1 0 3.2 0a1.6 1.6 0 1 0 -3.2 0zM226.19 93.74a1.6 1.6 0 1 0 3.2 0a1.6 1.6 0 1 0 -3.2 0zM209.02 92.35a1.6 1.6 0 1 0 3.2 0a1.6 1.6 0 1 0 -3.2 0zM228.6 92.76a1.6 1.6 0 1 0 3.2 0a1.6 1.6 0 1 0 -3.2 0zM238.17 90.77a1.6 1.6 0 1 0 3.2 0a1.6 1.6 0 1 0 -3.2 0zM242.54 88.83a1.6 1.6 0 1 0 3.2 0a1.6 1.6 0 1 0 -3.2 0zM240.74 88.43a1.6 1.6 0 1 0 3.2 0a1.6 1.6 0 1 0 -3.2 0zM264.15 91.36a1.6 1.6 0 1 0 3.2 0a1.6 1.6 0 1 0 -3.2 0zM219.67 88.03a1.6 1.6 0 1 0 3.2 0a1.6 1.6 0 1 0 -3.2 0zM221.47 91.61a1.6 1.6 0 1 0 3.2 0a1.6 1.6 0 1 0 -3.2 0zM223.75 91.25a1.6 1.6 0 1 0 3.2 0a1.6 1.6 0 1 0 -3.2 0zM239.45 90.9a1.6 1.6 0 1 0 3.2 0a1.6 1.6 0 1 0 -3.2 0zM224.09 81.77a1.6 1.6 0 1 0 3.2 0a1.6 1.6 0 1 0 -3.2 0zM231.75 87.15a1.6 1.6 0 1 0 3.2 0a1.6 1.6 0 1 0 -3.2 0zM206.97 93.31a1.6 1.6 0 1 0 3.2 0a1.6 1.6 0 1 0 -3.2 0zM226.91 91.39a1.6 1.6 0 1 0 3.2 0a1.6 1.6 0 1 0 -3.2 0zM225.85 93.51a1.6 1.6 0 1 0 3.2 0a1.6 1.6 0 1 0 -3.2 0zM246.75 81.22a1.6 1.6 0 1 0 3.2 0a1.6 1.6 0 1 0 -3.2 0zM208.01 88.24a1.6 1.6 0 1 0 3.2 0a1.6 1.6 0 1 0 -3.2 0zM220.67 89.47a1.6 1.6 0 1 0 3.2 0a1.6 1.6 0 1 0 -3.2 0zM212.64 93.61a1.6 1.6 0 1 0 3.2 0a1.6 1.6 0 1 0 -3.2 0zM227.84 87.99a1.6 1.6 0 1 0 3.2 0a1.6 1.6 0 1 0 -3.2 0zM205.95 88.17a1.6 1.6 0 1 0 3.2 0a1.6 1.6 0 1 0 -3.2 0zM225.47 95.14a1.6 1.6 0 1 0 3.2 0a1.6 1.6 0 1 0 -3.2 0zM230.14 91.15a1.6 1.6 0 1 0 3.2 0a1.6 1.6 0 1 0 -3.2 0zM234.99 82.54a1.6 1.6 0 1 0 3.2 0a1.6 1.6 0 1 0 -3.2 0zM247.36 81.17a1.6 1.6 0 1 0 3.2 0a1.6 1.6 0 1 0 -3.2 0zM224.04 93.56a1.6 1.6 0 1 0 3.2 0a1.6 1.6 0 1 0 -3.2 0zM242.94 93.85a1.6 1.6 0 1 0 3.2 0a1.6 1.6 0 1 0 -3.2 0zM250.9 85.09a1.6 1.6 0 1 0 3.2 0a1.6 1.6 0 1 0 -3.2 0zM220.6 94.73a1.6 1.6 0 1 0 3.2 0a1.6 1.6 0 1 0 -3.2 0zM213.21 95.27a1.6 1.6 0 1 0 3.2 0a1.6 1.6 0 1 0 -3.2 0zM209.68 94.84a1.6 1.6 0 1 0 3.2 0a1.6 1.6 0 1 0 -3.2 0zM222.88 82.69a1.6 1.6 0 1 0 3.2 0a1.6 1.6 0 1 0 -3.2 0zM239.54 90.34a1.6 1.6 0 1 0 3.2 0a1.6 1.6 0 1 0 -3.2 0zM246.45 88.63a1.6 1.6 0 1 0 3.2 0a1.6 1.6 0 1 0 -3.2 0zM246.33 89.87a1.6 1.6 0 1 0 3.2 0a1.6 1.6 0 1 0 -3.2 0zM238.36 90.39a1.6 1.6 0 1 0 3.2 0a1.6 1.6 0 1 0 -3.2 0zM249.42 90.53a1.6 1.6 0 1 0 3.2 0a1.6 1.6 0 1 0 -3.2 0zM220.74 86.66a1.6 1.6 0 1 0 3.2 0a1.6 1.6 0 1 0 -3.2 0zM230.51 89.73a1.6 1.6 0 1 0 3.2 0a1.6 1.6 0 1 0 -3.2 0zM242.4 82.34a1.6 1.6 0 1 0 3.2 0a1.6 1.6 0 1 0 -3.2 0zM208.98 93.83a1.6 1.6 0 1 0 3.2 0a1.6 1.6 0 1 0 -3.2 0zM231.88 92.3a1.6 1.6 0 1 0 3.2 0a1.6 1.6 0 1 0 -3.2 0zM217.93 92.62a1.6 1.6 0 1 0 3.2 0a1.6 1.6 0 1 0 -3.2 0zM218.05 87.13a1.6 1.6 0 1 0 3.2 0a1.6 1.6 0 1 0 -3.2 0z" fill="#000"/>
<text x="398" y="7.5" font-size="7.9" text-anchor="middle" font-weight="bold">Null mutations</text>
<line x1="337.9" y1="16.8" x2="337.9" y2="100" stroke="#000" stroke-width="1.3"/>
<line x1="337.3" y1="99.4" x2="461.9" y2="99.4" stroke="#000" stroke-width="1.3"/>
<line x1="334.3" y1="99.4" x2="337.9" y2="99.4" stroke="#000" stroke-width="1.1"/>
<text x="334" y="101.35" font-size="5.4" text-anchor="end" font-weight="bold">0</text>
<line x1="334.3" y1="78.9" x2="337.9" y2="78.9" stroke="#000" stroke-width="1.1"/>
<text x="334" y="80.85" font-size="5.4" text-anchor="end" font-weight="bold">5</text>
<line x1="334.3" y1="58.4" x2="337.9" y2="58.4" stroke="#000" stroke-width="1.1"/>
<text x="334" y="60.35" font-size="5.4" text-anchor="end" font-weight="bold">10</text>
<line x1="334.3" y1="37.9" x2="337.9" y2="37.9" stroke="#000" stroke-width="1.1"/>
<text x="334" y="39.85" font-size="5.4" text-anchor="end" font-weight="bold">15</text>
<line x1="334.3" y1="17.4" x2="337.9" y2="17.4" stroke="#000" stroke-width="1.1"/>
<text x="334" y="19.35" font-size="5.4" text-anchor="end" font-weight="bold">20</text>
<line x1="337.9" y1="99.4" x2="337.9" y2="102.2" stroke="#000" stroke-width="1.1"/>
<text x="337.9" y="108.5" font-size="5.5" text-anchor="middle" font-weight="bold">0</text>
<line x1="362.58" y1="99.4" x2="362.58" y2="102.2" stroke="#000" stroke-width="1.1"/>
<text x="362.58" y="108.5" font-size="5.5" text-anchor="middle" font-weight="bold">1</text>
<line x1="387.26" y1="99.4" x2="387.26" y2="102.2" stroke="#000" stroke-width="1.1"/>
<text x="387.26" y="108.5" font-size="5.5" text-anchor="middle" font-weight="bold">2</text>
<line x1="411.94" y1="99.4" x2="411.94" y2="102.2" stroke="#000" stroke-width="1.1"/>
<text x="411.94" y="108.5" font-size="5.5" text-anchor="middle" font-weight="bold">3</text>
<line x1="436.62" y1="99.4" x2="436.62" y2="102.2" stroke="#000" stroke-width="1.1"/>
<text x="436.62" y="108.5" font-size="5.5" text-anchor="middle" font-weight="bold">4</text>
<line x1="461.3" y1="99.4" x2="461.3" y2="102.2" stroke="#000" stroke-width="1.1"/>
<text x="461.3" y="108.5" font-size="5.5" text-anchor="middle" font-weight="bold">5</text>
<path d="M368.88 90.13a1.6 1.6 0 1 0 3.2 0a1.6 1.6 0 1 0 -3.2 0zM373.07 92.84a1.6 1.6 0 1 0 3.2 0a1.6 1.6 0 1 0 -3.2 0zM377.27 92.84a1.6 1.6 0 1 0 3.2 0a1.6 1.6 0 1 0 -3.2 0zM385.66 89.56a1.6 1.6 0 1 0 3.2 0a1.6 1.6 0 1 0 -3.2 0zM390.35 93.66a1.6 1.6 0 1 0 3.2 0a1.6 1.6 0 1 0 -3.2 0zM392.08 92.23a1.6 1.6 0 1 0 3.2 0a1.6 1.6 0 1 0 -3.2 0zM395.53 92.02a1.6 1.6 0 1 0 3.2 0a1.6 1.6 0 1 0 -3.2 0zM396.77 89.56a1.6 1.6 0 1 0 3.2 0a1.6 1.6 0 1 0 -3.2 0zM400.71 85.67a1.6 1.6 0 1 0 3.2 0a1.6 1.6 0 1 0 -3.2 0zM404.17 93.66a1.6 1.6 0 1 0 3.2 0a1.6 1.6 0 1 0 -3.2 0zM406.64 90.18a1.6 1.6 0 1 0 3.2 0a1.6 1.6 0 1 0 -3.2 0zM410.34 91.82a1.6 1.6 0 1 0 3.2 0a1.6 1.6 0 1 0 -3.2 0zM412.31 92.84a1.6 1.6 0 1 0 3.2 0a1.6 1.6 0 1 0 -3.2 0zM443.16 89.56a1.6 1.6 0 1 0 3.2 0a1.6 1.6 0 1 0 -3.2 0z" fill="#000"/>
<text x="256.2" y="126.1" font-size="7.9" text-anchor="middle" font-weight="bold">Other mutations</text>
<line x1="195.6" y1="135.4" x2="195.6" y2="218.6" stroke="#000" stroke-width="1.3"/>
<line x1="195" y1="218" x2="319.6" y2="218" stroke="#000" stroke-width="1.3"/>
<line x1="192" y1="218" x2="195.6" y2="218" stroke="#000" stroke-width="1.1"/>
<text x="191.7" y="219.95" font-size="5.4" text-anchor="end" font-weight="bold">0</text>
<line x1="192" y1="197.5" x2="195.6" y2="197.5" stroke="#000" stroke-width="1.1"/>
<text x="191.7" y="199.45" font-size="5.4" text-anchor="end" font-weight="bold">5</text>
<line x1="192" y1="177" x2="195.6" y2="177" stroke="#000" stroke-width="1.1"/>
<text x="191.7" y="178.95" font-size="5.4" text-anchor="end" font-weight="bold">10</text>
<line x1="192" y1="156.5" x2="195.6" y2="156.5" stroke="#000" stroke-width="1.1"/>
<text x="191.7" y="158.45" font-size="5.4" text-anchor="end" font-weight="bold">15</text>
<line x1="192" y1="136" x2="195.6" y2="136" stroke="#000" stroke-width="1.1"/>
<text x="191.7" y="137.95" font-size="5.4" text-anchor="end" font-weight="bold">20</text>
<line x1="195.6" y1="218" x2="195.6" y2="220.8" stroke="#000" stroke-width="1.1"/>
<text x="195.6" y="227.1" font-size="5.5" text-anchor="middle" font-weight="bold">0</text>
<line x1="220.28" y1="218" x2="220.28" y2="220.8" stroke="#000" stroke-width="1.1"/>
<text x="220.28" y="227.1" font-size="5.5" text-anchor="middle" font-weight="bold">1</text>
<line x1="244.96" y1="218" x2="244.96" y2="220.8" stroke="#000" stroke-width="1.1"/>
<text x="244.96" y="227.1" font-size="5.5" text-anchor="middle" font-weight="bold">2</text>
<line x1="269.64" y1="218" x2="269.64" y2="220.8" stroke="#000" stroke-width="1.1"/>
<text x="269.64" y="227.1" font-size="5.5" text-anchor="middle" font-weight="bold">3</text>
<line x1="294.32" y1="218" x2="294.32" y2="220.8" stroke="#000" stroke-width="1.1"/>
<text x="294.32" y="227.1" font-size="5.5" text-anchor="middle" font-weight="bold">4</text>
<line x1="319" y1="218" x2="319" y2="220.8" stroke="#000" stroke-width="1.1"/>
<text x="319" y="227.1" font-size="5.5" text-anchor="middle" font-weight="bold">5</text>
<text x="181.2" y="176.6" font-size="6.9" text-anchor="middle" font-weight="bold" transform="rotate(-90 181.2 176.6)">VWFpp/VWF:Ag</text>
<text x="257.3" y="235.6" font-size="6.5" text-anchor="middle" font-weight="bold">FVIII:C/VWF:Ag</text>
<path d="M222.38 211.15a1.6 1.6 0 1 0 3.2 0a1.6 1.6 0 1 0 -3.2 0zM225.1 212.26a1.6 1.6 0 1 0 3.2 0a1.6 1.6 0 1 0 -3.2 0zM224.85 202.58a1.6 1.6 0 1 0 3.2 0a1.6 1.6 0 1 0 -3.2 0zM227.94 195.86a1.6 1.6 0 1 0 3.2 0a1.6 1.6 0 1 0 -3.2 0zM229.29 198.12a1.6 1.6 0 1 0 3.2 0a1.6 1.6 0 1 0 -3.2 0zM230.03 213.49a1.6 1.6 0 1 0 3.2 0a1.6 1.6 0 1 0 -3.2 0zM234.48 212.47a1.6 1.6 0 1 0 3.2 0a1.6 1.6 0 1 0 -3.2 0zM237.93 208.37a1.6 1.6 0 1 0 3.2 0a1.6 1.6 0 1 0 -3.2 0zM238.92 210.74a1.6 1.6 0 1 0 3.2 0a1.6 1.6 0 1 0 -3.2 0zM240.4 212.26a1.6 1.6 0 1 0 3.2 0a1.6 1.6 0 1 0 -3.2 0zM237.19 204.88a1.6 1.6 0 1 0 3.2 0a1.6 1.6 0 1 0 -3.2 0zM238.92 202.22a1.6 1.6 0 1 0 3.2 0a1.6 1.6 0 1 0 -3.2 0zM241.39 212.26a1.6 1.6 0 1 0 3.2 0a1.6 1.6 0 1 0 -3.2 0zM249.28 210.21a1.6 1.6 0 1 0 3.2 0a1.6 1.6 0 1 0 -3.2 0zM251.75 211.85a1.6 1.6 0 1 0 3.2 0a1.6 1.6 0 1 0 -3.2 0zM252.74 203.24a1.6 1.6 0 1 0 3.2 0a1.6 1.6 0 1 0 -3.2 0zM254.47 212.83a1.6 1.6 0 1 0 3.2 0a1.6 1.6 0 1 0 -3.2 0zM256.19 213.49a1.6 1.6 0 1 0 3.2 0a1.6 1.6 0 1 0 -3.2 0zM258.66 211.85a1.6 1.6 0 1 0 3.2 0a1.6 1.6 0 1 0 -3.2 0zM260.39 210.21a1.6 1.6 0 1 0 3.2 0a1.6 1.6 0 1 0 -3.2 0zM263.84 210.21a1.6 1.6 0 1 0 3.2 0a1.6 1.6 0 1 0 -3.2 0zM268.04 208.98a1.6 1.6 0 1 0 3.2 0a1.6 1.6 0 1 0 -3.2 0zM271.5 211.11a1.6 1.6 0 1 0 3.2 0a1.6 1.6 0 1 0 -3.2 0zM275.94 210.74a1.6 1.6 0 1 0 3.2 0a1.6 1.6 0 1 0 -3.2 0zM281.86 210.21a1.6 1.6 0 1 0 3.2 0a1.6 1.6 0 1 0 -3.2 0zM283.84 211.85a1.6 1.6 0 1 0 3.2 0a1.6 1.6 0 1 0 -3.2 0zM286.3 211.44a1.6 1.6 0 1 0 3.2 0a1.6 1.6 0 1 0 -3.2 0zM289.76 208.98a1.6 1.6 0 1 0 3.2 0a1.6 1.6 0 1 0 -3.2 0zM294.94 208.57a1.6 1.6 0 1 0 3.2 0a1.6 1.6 0 1 0 -3.2 0zM298.4 210.41a1.6 1.6 0 1 0 3.2 0a1.6 1.6 0 1 0 -3.2 0z" fill="#000"/>
<text x="398" y="126.1" font-size="7.9" text-anchor="middle" font-weight="bold">No mutation</text>
<line x1="337.9" y1="135.4" x2="337.9" y2="218.6" stroke="#000" stroke-width="1.3"/>
<line x1="337.3" y1="218" x2="461.9" y2="218" stroke="#000" stroke-width="1.3"/>
<line x1="334.3" y1="218" x2="337.9" y2="218" stroke="#000" stroke-width="1.1"/>
<text x="334" y="219.95" font-size="5.4" text-anchor="end" font-weight="bold">0</text>
<line x1="334.3" y1="197.5" x2="337.9" y2="197.5" stroke="#000" stroke-width="1.1"/>
<text x="334" y="199.45" font-size="5.4" text-anchor="end" font-weight="bold">5</text>
<line x1="334.3" y1="177" x2="337.9" y2="177" stroke="#000" stroke-width="1.1"/>
<text x="334" y="178.95" font-size="5.4" text-anchor="end" font-weight="bold">10</text>
<line x1="334.3" y1="156.5" x2="337.9" y2="156.5" stroke="#000" stroke-width="1.1"/>
<text x="334" y="158.45" font-size="5.4" text-anchor="end" font-weight="bold">15</text>
<line x1="334.3" y1="136" x2="337.9" y2="136" stroke="#000" stroke-width="1.1"/>
<text x="334" y="137.95" font-size="5.4" text-anchor="end" font-weight="bold">20</text>
<line x1="337.9" y1="218" x2="337.9" y2="220.8" stroke="#000" stroke-width="1.1"/>
<text x="337.9" y="227.1" font-size="5.5" text-anchor="middle" font-weight="bold">0</text>
<line x1="362.58" y1="218" x2="362.58" y2="220.8" stroke="#000" stroke-width="1.1"/>
<text x="362.58" y="227.1" font-size="5.5" text-anchor="middle" font-weight="bold">1</text>
<line x1="387.26" y1="218" x2="387.26" y2="220.8" stroke="#000" stroke-width="1.1"/>
<text x="387.26" y="227.1" font-size="5.5" text-anchor="middle" font-weight="bold">2</text>
<line x1="411.94" y1="218" x2="411.94" y2="220.8" stroke="#000" stroke-width="1.1"/>
<text x="411.94" y="227.1" font-size="5.5" text-anchor="middle" font-weight="bold">3</text>
<line x1="436.62" y1="218" x2="436.62" y2="220.8" stroke="#000" stroke-width="1.1"/>
<text x="436.62" y="227.1" font-size="5.5" text-anchor="middle" font-weight="bold">4</text>
<line x1="461.3" y1="218" x2="461.3" y2="220.8" stroke="#000" stroke-width="1.1"/>
<text x="461.3" y="227.1" font-size="5.5" text-anchor="middle" font-weight="bold">5</text>
<text x="399.6" y="235.6" font-size="6.5" text-anchor="middle" font-weight="bold">FVIII:C/VWF:Ag</text>
<path d="M374.8 189.3a1.6 1.6 0 1 0 3.2 0a1.6 1.6 0 1 0 -3.2 0zM398.74 206.52a1.6 1.6 0 1 0 3.2 0a1.6 1.6 0 1 0 -3.2 0zM408.37 208.82a1.6 1.6 0 1 0 3.2 0a1.6 1.6 0 1 0 -3.2 0zM401.46 210.21a1.6 1.6 0 1 0 3.2 0a1.6 1.6 0 1 0 -3.2 0zM397.26 210.78a1.6 1.6 0 1 0 3.2 0a1.6 1.6 0 1 0 -3.2 0zM397.26 212.67a1.6 1.6 0 1 0 3.2 0a1.6 1.6 0 1 0 -3.2 0zM393.06 209.39a1.6 1.6 0 1 0 3.2 0a1.6 1.6 0 1 0 -3.2 0zM357.77 208.57a1.6 1.6 0 1 0 3.2 0a1.6 1.6 0 1 0 -3.2 0zM380.72 206.93a1.6 1.6 0 1 0 3.2 0a1.6 1.6 0 1 0 -3.2 0zM344.94 211.85a1.6 1.6 0 1 0 3.2 0a1.6 1.6 0 1 0 -3.2 0zM347.41 212.67a1.6 1.6 0 1 0 3.2 0a1.6 1.6 0 1 0 -3.2 0zM349.87 211.85a1.6 1.6 0 1 0 3.2 0a1.6 1.6 0 1 0 -3.2 0zM388.13 212.26a1.6 1.6 0 1 0 3.2 0a1.6 1.6 0 1 0 -3.2 0zM366.27 211.9a1.6 1.6 0 1 0 3.2 0a1.6 1.6 0 1 0 -3.2 0zM368.07 211.4a1.6 1.6 0 1 0 3.2 0a1.6 1.6 0 1 0 -3.2 0zM372.09 212.87a1.6 1.6 0 1 0 3.2 0a1.6 1.6 0 1 0 -3.2 0zM378.29 209.86a1.6 1.6 0 1 0 3.2 0a1.6 1.6 0 1 0 -3.2 0zM367.49 212.22a1.6 1.6 0 1 0 3.2 0a1.6 1.6 0 1 0 -3.2 0zM371.21 210.11a1.6 1.6 0 1 0 3.2 0a1.6 1.6 0 1 0 -3.2 0zM354.53 211.63a1.6 1.6 0 1 0 3.2 0a1.6 1.6 0 1 0 -3.2 0zM367.16 212.23a1.6 1.6 0 1 0 3.2 0a1.6 1.6 0 1 0 -3.2 0zM368.32 210.03a1.6 1.6 0 1 0 3.2 0a1.6 1.6 0 1 0 -3.2 0zM374.14 213.38a1.6 1.6 0 1 0 3.2 0a1.6 1.6 0 1 0 -3.2 0zM375.29 212.15a1.6 1.6 0 1 0 3.2 0a1.6 1.6 0 1 0 -3.2 0zM369.29 210.69a1.6 1.6 0 1 0 3.2 0a1.6 1.6 0 1 0 -3.2 0zM376.02 212.93a1.6 1.6 0 1 0 3.2 0a1.6 1.6 0 1 0 -3.2 0zM362.31 210.51a1.6 1.6 0 1 0 3.2 0a1.6 1.6 0 1 0 -3.2 0zM365.4 213.06a1.6 1.6 0 1 0 3.2 0a1.6 1.6 0 1 0 -3.2 0zM381.82 212.32a1.6 1.6 0 1 0 3.2 0a1.6 1.6 0 1 0 -3.2 0zM377.75 212.66a1.6 1.6 0 1 0 3.2 0a1.6 1.6 0 1 0 -3.2 0zM384.4 211.64a1.6 1.6 0 1 0 3.2 0a1.6 1.6 0 1 0 -3.2 0zM378.19 212.35a1.6 1.6 0 1 0 3.2 0a1.6 1.6 0 1 0 -3.2 0zM356.75 210.73a1.6 1.6 0 1 0 3.2 0a1.6 1.6 0 1 0 -3.2 0zM371.49 211.29a1.6 1.6 0 1 0 3.2 0a1.6 1.6 0 1 0 -3.2 0zM358.75 212.43a1.6 1.6 0 1 0 3.2 0a1.6 1.6 0 1 0 -3.2 0zM352.1 213.33a1.6 1.6 0 1 0 3.2 0a1.6 1.6 0 1 0 -3.2 0zM383.97 212.13a1.6 1.6 0 1 0 3.2 0a1.6 1.6 0 1 0 -3.2 0zM379.69 212.68a1.6 1.6 0 1 0 3.2 0a1.6 1.6 0 1 0 -3.2 0zM372.16 212.28a1.6 1.6 0 1 0 3.2 0a1.6 1.6 0 1 0 -3.2 0zM379.34 211.64a1.6 1.6 0 1 0 3.2 0a1.6 1.6 0 1 0 -3.2 0zM374.85 211.29a1.6 1.6 0 1 0 3.2 0a1.6 1.6 0 1 0 -3.2 0zM356.5 213.72a1.6 1.6 0 1 0 3.2 0a1.6 1.6 0 1 0 -3.2 0zM382.87 213.45a1.6 1.6 0 1 0 3.2 0a1.6 1.6 0 1 0 -3.2 0zM352.88 213.83a1.6 1.6 0 1 0 3.2 0a1.6 1.6 0 1 0 -3.2 0zM361.31 210.39a1.6 1.6 0 1 0 3.2 0a1.6 1.6 0 1 0 -3.2 0zM381.53 212.46a1.6 1.6 0 1 0 3.2 0a1.6 1.6 0 1 0 -3.2 0zM358.15 211.81a1.6 1.6 0 1 0 3.2 0a1.6 1.6 0 1 0 -3.2 0zM372.4 212.45a1.6 1.6 0 1 0 3.2 0a1.6 1.6 0 1 0 -3.2 0zM353.05 212.6a1.6 1.6 0 1 0 3.2 0a1.6 1.6 0 1 0 -3.2 0zM379.02 212.34a1.6 1.6 0 1 0 3.2 0a1.6 1.6 0 1 0 -3.2 0zM364.7 210.13a1.6 1.6 0 1 0 3.2 0a1.6 1.6 0 1 0 -3.2 0zM377.79 212.15a1.6 1.6 0 1 0 3.2 0a1.6 1.6 0 1 0 -3.2 0zM375.81 210.56a1.6 1.6 0 1 0 3.2 0a1.6 1.6 0 1 0 -3.2 0zM357.99 212.73a1.6 1.6 0 1 0 3.2 0a1.6 1.6 0 1 0 -3.2 0zM360.83 212.63a1.6 1.6 0 1 0 3.2 0a1.6 1.6 0 1 0 -3.2 0zM367.33 212.48a1.6 1.6 0 1 0 3.2 0a1.6 1.6 0 1 0 -3.2 0zM383.42 212a1.6 1.6 0 1 0 3.2 0a1.6 1.6 0 1 0 -3.2 0zM373.78 212.93a1.6 1.6 0 1 0 3.2 0a1.6 1.6 0 1 0 -3.2 0zM374.12 210.62a1.6 1.6 0 1 0 3.2 0a1.6 1.6 0 1 0 -3.2 0zM368.56 212.08a1.6 1.6 0 1 0 3.2 0a1.6 1.6 0 1 0 -3.2 0zM354 211.68a1.6 1.6 0 1 0 3.2 0a1.6 1.6 0 1 0 -3.2 0zM355.07 213.6a1.6 1.6 0 1 0 3.2 0a1.6 1.6 0 1 0 -3.2 0zM370.97 211.73a1.6 1.6 0 1 0 3.2 0a1.6 1.6 0 1 0 -3.2 0zM373.34 211.53a1.6 1.6 0 1 0 3.2 0a1.6 1.6 0 1 0 -3.2 0zM361.61 214.15a1.6 1.6 0 1 0 3.2 0a1.6 1.6 0 1 0 -3.2 0zM368.08 209.99a1.6 1.6 0 1 0 3.2 0a1.6 1.6 0 1 0 -3.2 0zM371.02 211.72a1.6 1.6 0 1 0 3.2 0a1.6 1.6 0 1 0 -3.2 0zM360.38 211.12a1.6 1.6 0 1 0 3.2 0a1.6 1.6 0 1 0 -3.2 0zM356.4 211.96a1.6 1.6 0 1 0 3.2 0a1.6 1.6 0 1 0 -3.2 0zM377.52 211.18a1.6 1.6 0 1 0 3.2 0a1.6 1.6 0 1 0 -3.2 0zM385.19 212.47a1.6 1.6 0 1 0 3.2 0a1.6 1.6 0 1 0 -3.2 0zM376.01 210.35a1.6 1.6 0 1 0 3.2 0a1.6 1.6 0 1 0 -3.2 0zM365.96 211.4a1.6 1.6 0 1 0 3.2 0a1.6 1.6 0 1 0 -3.2 0zM365.66 210.65a1.6 1.6 0 1 0 3.2 0a1.6 1.6 0 1 0 -3.2 0zM372.71 212.8a1.6 1.6 0 1 0 3.2 0a1.6 1.6 0 1 0 -3.2 0zM353.37 212.2a1.6 1.6 0 1 0 3.2 0a1.6 1.6 0 1 0 -3.2 0zM353.88 213.95a1.6 1.6 0 1 0 3.2 0a1.6 1.6 0 1 0 -3.2 0zM375.16 211.44a1.6 1.6 0 1 0 3.2 0a1.6 1.6 0 1 0 -3.2 0zM353.01 213.15a1.6 1.6 0 1 0 3.2 0a1.6 1.6 0 1 0 -3.2 0zM361.52 212.66a1.6 1.6 0 1 0 3.2 0a1.6 1.6 0 1 0 -3.2 0zM366.95 211.66a1.6 1.6 0 1 0 3.2 0a1.6 1.6 0 1 0 -3.2 0zM365.79 211.96a1.6 1.6 0 1 0 3.2 0a1.6 1.6 0 1 0 -3.2 0zM379.69 213.89a1.6 1.6 0 1 0 3.2 0a1.6 1.6 0 1 0 -3.2 0zM356.62 213.59a1.6 1.6 0 1 0 3.2 0a1.6 1.6 0 1 0 -3.2 0zM380.12 213.55a1.6 1.6 0 1 0 3.2 0a1.6 1.6 0 1 0 -3.2 0zM362.96 211.47a1.6 1.6 0 1 0 3.2 0a1.6 1.6 0 1 0 -3.2 0zM380.28 211.96a1.6 1.6 0 1 0 3.2 0a1.6 1.6 0 1 0 -3.2 0zM363.56 212.64a1.6 1.6 0 1 0 3.2 0a1.6 1.6 0 1 0 -3.2 0zM370.42 214.33a1.6 1.6 0 1 0 3.2 0a1.6 1.6 0 1 0 -3.2 0zM358.18 210.8a1.6 1.6 0 1 0 3.2 0a1.6 1.6 0 1 0 -3.2 0zM352.1 211.39a1.6 1.6 0 1 0 3.2 0a1.6 1.6 0 1 0 -3.2 0zM351.64 214.27a1.6 1.6 0 1 0 3.2 0a1.6 1.6 0 1 0 -3.2 0zM359.62 214.01a1.6 1.6 0 1 0 3.2 0a1.6 1.6 0 1 0 -3.2 0zM357.63 212.46a1.6 1.6 0 1 0 3.2 0a1.6 1.6 0 1 0 -3.2 0zM377.35 210.69a1.6 1.6 0 1 0 3.2 0a1.6 1.6 0 1 0 -3.2 0zM381.15 213.19a1.6 1.6 0 1 0 3.2 0a1.6 1.6 0 1 0 -3.2 0zM384.08 214.28a1.6 1.6 0 1 0 3.2 0a1.6 1.6 0 1 0 -3.2 0zM360 212.75a1.6 1.6 0 1 0 3.2 0a1.6 1.6 0 1 0 -3.2 0zM352.48 212.94a1.6 1.6 0 1 0 3.2 0a1.6 1.6 0 1 0 -3.2 0zM368.56 211.67a1.6 1.6 0 1 0 3.2 0a1.6 1.6 0 1 0 -3.2 0zM376.18 210.73a1.6 1.6 0 1 0 3.2 0a1.6 1.6 0 1 0 -3.2 0zM363.66 210.28a1.6 1.6 0 1 0 3.2 0a1.6 1.6 0 1 0 -3.2 0zM362.66 210.68a1.6 1.6 0 1 0 3.2 0a1.6 1.6 0 1 0 -3.2 0zM367.14 213.23a1.6 1.6 0 1 0 3.2 0a1.6 1.6 0 1 0 -3.2 0zM364.21 213.2a1.6 1.6 0 1 0 3.2 0a1.6 1.6 0 1 0 -3.2 0zM359.65 213.57a1.6 1.6 0 1 0 3.2 0a1.6 1.6 0 1 0 -3.2 0zM356.87 212.14a1.6 1.6 0 1 0 3.2 0a1.6 1.6 0 1 0 -3.2 0zM366.11 211.92a1.6 1.6 0 1 0 3.2 0a1.6 1.6 0 1 0 -3.2 0zM359.83 212.57a1.6 1.6 0 1 0 3.2 0a1.6 1.6 0 1 0 -3.2 0zM357.85 212.72a1.6 1.6 0 1 0 3.2 0a1.6 1.6 0 1 0 -3.2 0zM370.2 212.13a1.6 1.6 0 1 0 3.2 0a1.6 1.6 0 1 0 -3.2 0zM381.74 211.61a1.6 1.6 0 1 0 3.2 0a1.6 1.6 0 1 0 -3.2 0zM365.79 210.78a1.6 1.6 0 1 0 3.2 0a1.6 1.6 0 1 0 -3.2 0z" fill="#000"/>
<text x="171.5" y="9.1" font-size="10.8" text-anchor="start" font-weight="bold">B</text>
<text x="172.2" y="247.7" font-size="11" text-anchor="start" font-weight="bold">C</text>
<line x1="194.9" y1="274.7" x2="194.9" y2="369.8" stroke="#000" stroke-width="1.4"/>
<line x1="191.7" y1="369" x2="194.9" y2="369" stroke="#000" stroke-width="1.1"/>
<text x="191.2" y="370.8" font-size="5.0" text-anchor="end" font-weight="bold">0.0</text>
<line x1="191.7" y1="355.6" x2="194.9" y2="355.6" stroke="#000" stroke-width="1.1"/>
<text x="191.2" y="357.4" font-size="5.0" text-anchor="end" font-weight="bold">2.5</text>
<line x1="191.7" y1="342.2" x2="194.9" y2="342.2" stroke="#000" stroke-width="1.1"/>
<text x="191.2" y="344" font-size="5.0" text-anchor="end" font-weight="bold">5.0</text>
<line x1="191.7" y1="328.8" x2="194.9" y2="328.8" stroke="#000" stroke-width="1.1"/>
<text x="191.2" y="330.6" font-size="5.0" text-anchor="end" font-weight="bold">7.5</text>
<line x1="191.7" y1="315.4" x2="194.9" y2="315.4" stroke="#000" stroke-width="1.1"/>
<text x="191.2" y="317.2" font-size="5.0" text-anchor="end" font-weight="bold">10.0</text>
<line x1="191.7" y1="302" x2="194.9" y2="302" stroke="#000" stroke-width="1.1"/>
<text x="191.2" y="303.8" font-size="5.0" text-anchor="end" font-weight="bold">12.5</text>
<line x1="191.7" y1="288.6" x2="194.9" y2="288.6" stroke="#000" stroke-width="1.1"/>
<text x="191.2" y="290.4" font-size="5.0" text-anchor="end" font-weight="bold">15.0</text>
<line x1="191.7" y1="275.2" x2="194.9" y2="275.2" stroke="#000" stroke-width="1.1"/>
<text x="191.2" y="277" font-size="5.0" text-anchor="end" font-weight="bold">17.5</text>
<line x1="194.9" y1="251.5" x2="194.9" y2="270.4" stroke="#000" stroke-width="1.4"/>
<line x1="191.7" y1="252" x2="194.9" y2="252" stroke="#000" stroke-width="1.1"/>
<text x="191.2" y="253.8" font-size="5.0" text-anchor="end" font-weight="bold">27.5</text>
<line x1="191.7" y1="261" x2="194.9" y2="261" stroke="#000" stroke-width="1.1"/>
<text x="191.2" y="262.8" font-size="5.0" text-anchor="end" font-weight="bold">22.5</text>
<line x1="191.7" y1="269.9" x2="194.9" y2="269.9" stroke="#000" stroke-width="1.1"/>
<text x="191.2" y="271.7" font-size="5.0" text-anchor="end" font-weight="bold">17.5</text>
<line x1="191.7" y1="269.9" x2="196.5" y2="269.9" stroke="#000" stroke-width="1.1"/>
<line x1="191.7" y1="275.2" x2="196.5" y2="275.2" stroke="#000" stroke-width="1.1"/>
<line x1="194.2" y1="369" x2="517.2" y2="369" stroke="#000" stroke-width="1.7"/>
<text x="177.2" y="314" font-size="5.6" text-anchor="middle" font-weight="bold" transform="rotate(-90 177.2 314)">VWFpp/VWF:Ag</text>
<rect x="194.55" y="361.12" width="4.9" height="7.88" fill="#000"/>
<line x1="197" y1="369" x2="197" y2="372" stroke="#000" stroke-width="1.1"/>
<line x1="197" y1="359.73" x2="197" y2="361.12" stroke="#000" stroke-width="0.8"/>
<line x1="195.4" y1="359.73" x2="198.6" y2="359.73" stroke="#000" stroke-width="0.8"/>
<text x="197.8" y="376.6" font-size="4.4" font-weight="bold" text-anchor="end" transform="rotate(-45 197.8 376.6)">G19R</text>
<rect x="200.78" y="362.89" width="4.9" height="6.11" fill="#000"/>
<line x1="203.23" y1="369" x2="203.23" y2="372" stroke="#000" stroke-width="1.1"/>
<text x="204.03" y="376.6" font-size="4.4" font-weight="bold" text-anchor="end" transform="rotate(-45 204.03 376.6)">G160W</text>
<rect x="207.01" y="361.12" width="4.9" height="7.88" fill="#000"/>
<line x1="209.46" y1="369" x2="209.46" y2="372" stroke="#000" stroke-width="1.1"/>
<text x="210.26" y="376.6" font-size="4.4" font-weight="bold" text-anchor="end" transform="rotate(-45 210.26 376.6)">R76W</text>
<rect x="213.25" y="359.73" width="4.9" height="9.27" fill="#000"/>
<line x1="215.7" y1="369" x2="215.7" y2="372" stroke="#000" stroke-width="1.1"/>
<line x1="215.7" y1="357.21" x2="215.7" y2="359.73" stroke="#000" stroke-width="0.8"/>
<line x1="214.1" y1="357.21" x2="217.3" y2="357.21" stroke="#000" stroke-width="0.8"/>
<text x="216.5" y="376.6" font-size="4.4" font-weight="bold" text-anchor="end" transform="rotate(-45 216.5 376.6)">C221Y</text>
<rect x="219.48" y="362.03" width="4.9" height="6.97" fill="#000"/>
<line x1="221.93" y1="369" x2="221.93" y2="372" stroke="#000" stroke-width="1.1"/>
<text x="222.73" y="376.6" font-size="4.4" font-weight="bold" text-anchor="end" transform="rotate(-45 222.73 376.6)">A641V</text>
<rect x="225.71" y="358.28" width="4.9" height="10.72" fill="#000"/>
<line x1="228.16" y1="369" x2="228.16" y2="372" stroke="#000" stroke-width="1.1"/>
<line x1="228.16" y1="354.53" x2="228.16" y2="358.28" stroke="#000" stroke-width="0.8"/>
<line x1="226.56" y1="354.53" x2="229.76" y2="354.53" stroke="#000" stroke-width="0.8"/>
<text x="228.96" y="376.6" font-size="4.4" font-weight="bold" text-anchor="end" transform="rotate(-45 228.96 376.6)">M771I</text>
<rect x="231.94" y="362.35" width="4.9" height="6.65" fill="#000"/>
<line x1="234.39" y1="369" x2="234.39" y2="372" stroke="#000" stroke-width="1.1"/>
<text x="235.19" y="376.6" font-size="4.4" font-weight="bold" text-anchor="end" transform="rotate(-45 235.19 376.6)">R816W</text>
<rect x="238.17" y="360.96" width="4.9" height="8.04" fill="#000"/>
<line x1="240.62" y1="369" x2="240.62" y2="372" stroke="#000" stroke-width="1.1"/>
<line x1="240.62" y1="358.55" x2="240.62" y2="360.96" stroke="#000" stroke-width="0.8"/>
<line x1="239.02" y1="358.55" x2="242.22" y2="358.55" stroke="#000" stroke-width="0.8"/>
<text x="241.42" y="376.6" font-size="4.4" font-weight="bold" text-anchor="end" transform="rotate(-45 241.42 376.6)">R854Q</text>
<rect x="244.41" y="360.58" width="4.9" height="8.42" fill="#000"/>
<line x1="246.86" y1="369" x2="246.86" y2="372" stroke="#000" stroke-width="1.1"/>
<line x1="246.86" y1="357.21" x2="246.86" y2="360.58" stroke="#000" stroke-width="0.8"/>
<line x1="245.26" y1="357.21" x2="248.46" y2="357.21" stroke="#000" stroke-width="0.8"/>
<text x="247.66" y="376.6" font-size="4.4" font-weight="bold" text-anchor="end" transform="rotate(-45 247.66 376.6)">R924Q</text>
<rect x="250.64" y="355.87" width="4.9" height="13.13" fill="#000"/>
<line x1="253.09" y1="369" x2="253.09" y2="372" stroke="#000" stroke-width="1.1"/>
<line x1="253.09" y1="355.06" x2="253.09" y2="355.87" stroke="#000" stroke-width="0.8"/>
<line x1="251.49" y1="355.06" x2="254.69" y2="355.06" stroke="#000" stroke-width="0.8"/>
<text x="253.89" y="376.6" font-size="4.4" font-weight="bold" text-anchor="end" transform="rotate(-45 253.89 376.6)">C1060Y</text>
<rect x="256.87" y="361.23" width="4.9" height="7.77" fill="#000"/>
<line x1="259.32" y1="369" x2="259.32" y2="372" stroke="#000" stroke-width="1.1"/>
<text x="260.12" y="376.6" font-size="4.4" font-weight="bold" text-anchor="end" transform="rotate(-45 260.12 376.6)">T1156M</text>
<rect x="263.1" y="322.9" width="4.9" height="46.1" fill="#000"/>
<line x1="265.55" y1="369" x2="265.55" y2="372" stroke="#000" stroke-width="1.1"/>
<line x1="265.55" y1="314.33" x2="265.55" y2="322.9" stroke="#000" stroke-width="0.8"/>
<line x1="263.95" y1="314.33" x2="267.15" y2="314.33" stroke="#000" stroke-width="0.8"/>
<text x="266.35" y="376.6" font-size="4.4" font-weight="bold" text-anchor="end" transform="rotate(-45 266.35 376.6)">C1130F</text>
<rect x="269.33" y="340.81" width="4.9" height="28.19" fill="#000"/>
<line x1="271.78" y1="369" x2="271.78" y2="372" stroke="#000" stroke-width="1.1"/>
<line x1="271.78" y1="333.62" x2="271.78" y2="340.81" stroke="#000" stroke-width="0.8"/>
<line x1="270.18" y1="333.62" x2="273.38" y2="333.62" stroke="#000" stroke-width="0.8"/>
<text x="272.58" y="376.6" font-size="4.4" font-weight="bold" text-anchor="end" transform="rotate(-45 272.58 376.6)">C1130R</text>
<rect x="275.57" y="331.48" width="4.9" height="37.52" fill="#000"/>
<line x1="278.02" y1="369" x2="278.02" y2="372" stroke="#000" stroke-width="1.1"/>
<line x1="278.02" y1="326.66" x2="278.02" y2="331.48" stroke="#000" stroke-width="0.8"/>
<line x1="276.42" y1="326.66" x2="279.62" y2="326.66" stroke="#000" stroke-width="0.8"/>
<text x="278.82" y="376.6" font-size="4.4" font-weight="bold" text-anchor="end" transform="rotate(-45 278.82 376.6)">C1130G</text>
<rect x="281.8" y="347.02" width="4.9" height="21.98" fill="#000"/>
<line x1="284.25" y1="369" x2="284.25" y2="372" stroke="#000" stroke-width="1.1"/>
<line x1="284.25" y1="342.74" x2="284.25" y2="347.02" stroke="#000" stroke-width="0.8"/>
<line x1="282.65" y1="342.74" x2="285.85" y2="342.74" stroke="#000" stroke-width="0.8"/>
<text x="285.05" y="376.6" font-size="4.4" font-weight="bold" text-anchor="end" transform="rotate(-45 285.05 376.6)">W1144G</text>
<rect x="288.03" y="284.31" width="4.9" height="84.69" fill="#000"/>
<line x1="290.48" y1="369" x2="290.48" y2="372" stroke="#000" stroke-width="1.1"/>
<text x="291.28" y="376.6" font-size="4.4" font-weight="bold" text-anchor="end" transform="rotate(-45 291.28 376.6)">S1285P</text>
<rect x="294.26" y="315.94" width="4.9" height="53.06" fill="#000"/>
<line x1="296.71" y1="369" x2="296.71" y2="372" stroke="#000" stroke-width="1.1"/>
<text x="297.51" y="376.6" font-size="4.4" font-weight="bold" text-anchor="end" transform="rotate(-45 297.51 376.6)">L1307P</text>
<rect x="300.49" y="344.88" width="4.9" height="24.12" fill="#000"/>
<line x1="302.94" y1="369" x2="302.94" y2="372" stroke="#000" stroke-width="1.1"/>
<line x1="302.94" y1="344.08" x2="302.94" y2="344.88" stroke="#000" stroke-width="0.8"/>
<line x1="301.34" y1="344.08" x2="304.54" y2="344.08" stroke="#000" stroke-width="0.8"/>
<text x="303.74" y="376.6" font-size="4.4" font-weight="bold" text-anchor="end" transform="rotate(-45 303.74 376.6)">R1315C</text>
<rect x="306.73" y="348.1" width="4.9" height="20.9" fill="#000"/>
<line x1="309.18" y1="369" x2="309.18" y2="372" stroke="#000" stroke-width="1.1"/>
<line x1="309.18" y1="344.34" x2="309.18" y2="348.1" stroke="#000" stroke-width="0.8"/>
<line x1="307.58" y1="344.34" x2="310.78" y2="344.34" stroke="#000" stroke-width="0.8"/>
<text x="309.98" y="376.6" font-size="4.4" font-weight="bold" text-anchor="end" transform="rotate(-45 309.98 376.6)">R1315L</text>
<rect x="312.96" y="352.92" width="4.9" height="16.08" fill="#000"/>
<line x1="315.41" y1="369" x2="315.41" y2="372" stroke="#000" stroke-width="1.1"/>
<text x="316.21" y="376.6" font-size="4.4" font-weight="bold" text-anchor="end" transform="rotate(-45 316.21 376.6)">L1361S</text>
<rect x="319.19" y="342.74" width="4.9" height="26.26" fill="#000"/>
<line x1="321.64" y1="369" x2="321.64" y2="372" stroke="#000" stroke-width="1.1"/>
<line x1="321.64" y1="340.06" x2="321.64" y2="342.74" stroke="#000" stroke-width="0.8"/>
<line x1="320.04" y1="340.06" x2="323.24" y2="340.06" stroke="#000" stroke-width="0.8"/>
<text x="322.44" y="376.6" font-size="4.4" font-weight="bold" text-anchor="end" transform="rotate(-45 322.44 376.6)">R1374C</text>
<rect x="325.42" y="349.97" width="4.9" height="19.03" fill="#000"/>
<line x1="327.87" y1="369" x2="327.87" y2="372" stroke="#000" stroke-width="1.1"/>
<line x1="327.87" y1="345.95" x2="327.87" y2="349.97" stroke="#000" stroke-width="0.8"/>
<line x1="326.27" y1="345.95" x2="329.47" y2="345.95" stroke="#000" stroke-width="0.8"/>
<text x="328.67" y="376.6" font-size="4.4" font-weight="bold" text-anchor="end" transform="rotate(-45 328.67 376.6)">R1374H</text>
<rect x="331.65" y="334.16" width="4.9" height="34.84" fill="#000"/>
<line x1="334.1" y1="369" x2="334.1" y2="372" stroke="#000" stroke-width="1.1"/>
<line x1="334.1" y1="320.22" x2="334.1" y2="334.16" stroke="#000" stroke-width="0.8"/>
<line x1="332.5" y1="320.22" x2="335.7" y2="320.22" stroke="#000" stroke-width="0.8"/>
<text x="334.9" y="376.6" font-size="4.4" font-weight="bold" text-anchor="end" transform="rotate(-45 334.9 376.6)">Y1584C</text>
<rect x="337.89" y="358.28" width="4.9" height="10.72" fill="#000"/>
<line x1="340.34" y1="369" x2="340.34" y2="372" stroke="#000" stroke-width="1.1"/>
<line x1="340.34" y1="357.74" x2="340.34" y2="358.28" stroke="#000" stroke-width="0.8"/>
<line x1="338.74" y1="357.74" x2="341.94" y2="357.74" stroke="#000" stroke-width="0.8"/>
<text x="341.14" y="376.6" font-size="4.4" font-weight="bold" text-anchor="end" transform="rotate(-45 341.14 376.6)">G1609R</text>
<rect x="344.12" y="361.23" width="4.9" height="7.77" fill="#000"/>
<line x1="346.57" y1="369" x2="346.57" y2="372" stroke="#000" stroke-width="1.1"/>
<line x1="346.57" y1="357.74" x2="346.57" y2="361.23" stroke="#000" stroke-width="0.8"/>
<line x1="344.97" y1="357.74" x2="348.17" y2="357.74" stroke="#000" stroke-width="0.8"/>
<text x="347.37" y="376.6" font-size="4.4" font-weight="bold" text-anchor="end" transform="rotate(-45 347.37 376.6)">S1731T</text>
<rect x="350.35" y="343.27" width="4.9" height="25.73" fill="#000"/>
<line x1="352.8" y1="369" x2="352.8" y2="372" stroke="#000" stroke-width="1.1"/>
<line x1="352.8" y1="336.3" x2="352.8" y2="343.27" stroke="#000" stroke-width="0.8"/>
<line x1="351.2" y1="336.3" x2="354.4" y2="336.3" stroke="#000" stroke-width="0.8"/>
<text x="353.6" y="376.6" font-size="4.4" font-weight="bold" text-anchor="end" transform="rotate(-45 353.6 376.6)">V1760I</text>
<rect x="356.58" y="336.57" width="4.9" height="32.43" fill="#000"/>
<line x1="359.03" y1="369" x2="359.03" y2="372" stroke="#000" stroke-width="1.1"/>
<line x1="359.03" y1="330.41" x2="359.03" y2="336.57" stroke="#000" stroke-width="0.8"/>
<line x1="357.43" y1="330.41" x2="360.63" y2="330.41" stroke="#000" stroke-width="0.8"/>
<text x="359.83" y="376.6" font-size="4.4" font-weight="bold" text-anchor="end" transform="rotate(-45 359.83 376.6)">R1779X</text>
<rect x="362.81" y="352.49" width="4.9" height="16.51" fill="#000"/>
<line x1="365.26" y1="369" x2="365.26" y2="372" stroke="#000" stroke-width="1.1"/>
<line x1="365.26" y1="351.85" x2="365.26" y2="352.49" stroke="#000" stroke-width="0.8"/>
<line x1="363.66" y1="351.85" x2="366.86" y2="351.85" stroke="#000" stroke-width="0.8"/>
<text x="366.06" y="376.6" font-size="4.4" font-weight="bold" text-anchor="end" transform="rotate(-45 366.06 376.6)">P1824H</text>
<rect x="369.05" y="357.96" width="4.9" height="11.04" fill="#000"/>
<line x1="371.5" y1="369" x2="371.5" y2="372" stroke="#000" stroke-width="1.1"/>
<text x="372.3" y="376.6" font-size="4.4" font-weight="bold" text-anchor="end" transform="rotate(-45 372.3 376.6)">L1774S</text>
<rect x="375.28" y="356.99" width="4.9" height="12.01" fill="#000"/>
<line x1="377.73" y1="369" x2="377.73" y2="372" stroke="#000" stroke-width="1.1"/>
<line x1="377.73" y1="353.46" x2="377.73" y2="356.99" stroke="#000" stroke-width="0.8"/>
<line x1="376.13" y1="353.46" x2="379.33" y2="353.46" stroke="#000" stroke-width="0.8"/>
<text x="378.53" y="376.6" font-size="4.4" font-weight="bold" text-anchor="end" transform="rotate(-45 378.53 376.6)">K1794E</text>
<rect x="381.51" y="355.6" width="4.9" height="13.4" fill="#000"/>
<line x1="383.96" y1="369" x2="383.96" y2="372" stroke="#000" stroke-width="1.1"/>
<line x1="383.96" y1="351.58" x2="383.96" y2="355.6" stroke="#000" stroke-width="0.8"/>
<line x1="382.36" y1="351.58" x2="385.56" y2="351.58" stroke="#000" stroke-width="0.8"/>
<text x="384.76" y="376.6" font-size="4.4" font-weight="bold" text-anchor="end" transform="rotate(-45 384.76 376.6)">V1822G</text>
<rect x="387.74" y="359.89" width="4.9" height="9.11" fill="#000"/>
<line x1="390.19" y1="369" x2="390.19" y2="372" stroke="#000" stroke-width="1.1"/>
<line x1="390.19" y1="358.01" x2="390.19" y2="359.89" stroke="#000" stroke-width="0.8"/>
<line x1="388.59" y1="358.01" x2="391.79" y2="358.01" stroke="#000" stroke-width="0.8"/>
<text x="390.99" y="376.6" font-size="4.4" font-weight="bold" text-anchor="end" transform="rotate(-45 390.99 376.6)">L1882R</text>
<rect x="393.97" y="353.99" width="4.9" height="15.01" fill="#000"/>
<line x1="396.42" y1="369" x2="396.42" y2="372" stroke="#000" stroke-width="1.1"/>
<line x1="396.42" y1="350.78" x2="396.42" y2="353.99" stroke="#000" stroke-width="0.8"/>
<line x1="394.82" y1="350.78" x2="398.02" y2="350.78" stroke="#000" stroke-width="0.8"/>
<text x="397.22" y="376.6" font-size="4.4" font-weight="bold" text-anchor="end" transform="rotate(-45 397.22 376.6)">C2085Y</text>
<rect x="400.21" y="346.65" width="4.9" height="22.35" fill="#000"/>
<line x1="402.66" y1="369" x2="402.66" y2="372" stroke="#000" stroke-width="1.1"/>
<line x1="402.66" y1="344.88" x2="402.66" y2="346.65" stroke="#000" stroke-width="0.8"/>
<line x1="401.06" y1="344.88" x2="404.26" y2="344.88" stroke="#000" stroke-width="0.8"/>
<text x="403.46" y="376.6" font-size="4.4" font-weight="bold" text-anchor="end" transform="rotate(-45 403.46 376.6)">R2185Q</text>
<rect x="406.44" y="362.57" width="4.9" height="6.43" fill="#000"/>
<line x1="408.89" y1="369" x2="408.89" y2="372" stroke="#000" stroke-width="1.1"/>
<text x="409.69" y="376.6" font-size="4.4" font-weight="bold" text-anchor="end" transform="rotate(-45 409.69 376.6)">G2238C</text>
<rect x="412.67" y="356.35" width="4.9" height="12.65" fill="#000"/>
<line x1="415.12" y1="369" x2="415.12" y2="372" stroke="#000" stroke-width="1.1"/>
<text x="415.92" y="376.6" font-size="4.4" font-weight="bold" text-anchor="end" transform="rotate(-45 415.92 376.6)">C2257S</text>
<rect x="418.9" y="358.71" width="4.9" height="10.29" fill="#000"/>
<line x1="421.35" y1="369" x2="421.35" y2="372" stroke="#000" stroke-width="1.1"/>
<line x1="421.35" y1="356.14" x2="421.35" y2="358.71" stroke="#000" stroke-width="0.8"/>
<line x1="419.75" y1="356.14" x2="422.95" y2="356.14" stroke="#000" stroke-width="0.8"/>
<text x="422.15" y="376.6" font-size="4.4" font-weight="bold" text-anchor="end" transform="rotate(-45 422.15 376.6)">C2304Y</text>
<rect x="425.13" y="359.35" width="4.9" height="9.65" fill="#000"/>
<line x1="427.58" y1="369" x2="427.58" y2="372" stroke="#000" stroke-width="1.1"/>
<text x="428.38" y="376.6" font-size="4.4" font-weight="bold" text-anchor="end" transform="rotate(-45 428.38 376.6)">R2313H</text>
<rect x="431.37" y="358.28" width="4.9" height="10.72" fill="#000"/>
<line x1="433.82" y1="369" x2="433.82" y2="372" stroke="#000" stroke-width="1.1"/>
<text x="434.62" y="376.6" font-size="4.4" font-weight="bold" text-anchor="end" transform="rotate(-45 434.62 376.6)">R2342C</text>
<rect x="437.6" y="360.26" width="4.9" height="8.74" fill="#000"/>
<line x1="440.05" y1="369" x2="440.05" y2="372" stroke="#000" stroke-width="1.1"/>
<line x1="440.05" y1="359.08" x2="440.05" y2="360.26" stroke="#000" stroke-width="0.8"/>
<line x1="438.45" y1="359.08" x2="441.65" y2="359.08" stroke="#000" stroke-width="0.8"/>
<text x="440.85" y="376.6" font-size="4.4" font-weight="bold" text-anchor="end" transform="rotate(-45 440.85 376.6)">C2362F</text>
<rect x="443.83" y="356.99" width="4.9" height="12.01" fill="#000"/>
<line x1="446.28" y1="369" x2="446.28" y2="372" stroke="#000" stroke-width="1.1"/>
<line x1="446.28" y1="352.65" x2="446.28" y2="356.99" stroke="#000" stroke-width="0.8"/>
<line x1="444.68" y1="352.65" x2="447.88" y2="352.65" stroke="#000" stroke-width="0.8"/>
<text x="447.08" y="376.6" font-size="4.4" font-weight="bold" text-anchor="end" transform="rotate(-45 447.08 376.6)">G2441C</text>
<rect x="450.06" y="348.2" width="4.9" height="20.8" fill="#000"/>
<line x1="452.51" y1="369" x2="452.51" y2="372" stroke="#000" stroke-width="1.1"/>
<line x1="452.51" y1="343.81" x2="452.51" y2="348.2" stroke="#000" stroke-width="0.8"/>
<line x1="450.91" y1="343.81" x2="454.11" y2="343.81" stroke="#000" stroke-width="0.8"/>
<text x="453.31" y="376.6" font-size="4.4" font-weight="bold" text-anchor="end" transform="rotate(-45 453.31 376.6)">C2477Y</text>
<rect x="456.29" y="350.94" width="4.9" height="18.06" fill="#000"/>
<line x1="458.74" y1="369" x2="458.74" y2="372" stroke="#000" stroke-width="1.1"/>
<line x1="458.74" y1="346.49" x2="458.74" y2="350.94" stroke="#000" stroke-width="0.8"/>
<line x1="457.14" y1="346.49" x2="460.34" y2="346.49" stroke="#000" stroke-width="0.8"/>
<text x="459.54" y="376.6" font-size="4.4" font-weight="bold" text-anchor="end" transform="rotate(-45 459.54 376.6)">R2464C</text>
<rect x="462.53" y="362.57" width="4.9" height="6.43" fill="#000"/>
<line x1="464.98" y1="369" x2="464.98" y2="372" stroke="#000" stroke-width="1.1"/>
<line x1="464.98" y1="360.69" x2="464.98" y2="362.57" stroke="#000" stroke-width="0.8"/>
<line x1="463.38" y1="360.69" x2="466.58" y2="360.69" stroke="#000" stroke-width="0.8"/>
<text x="465.78" y="376.6" font-size="4.4" font-weight="bold" text-anchor="end" transform="rotate(-45 465.78 376.6)">C2671Y</text>
<rect x="468.76" y="355.98" width="4.9" height="13.02" fill="#000"/>
<line x1="471.21" y1="369" x2="471.21" y2="372" stroke="#000" stroke-width="1.1"/>
<text x="472.01" y="376.6" font-size="4.4" font-weight="bold" text-anchor="end" transform="rotate(-45 472.01 376.6)">C2693Y</text>
<rect x="474.99" y="356.78" width="4.9" height="12.22" fill="#000"/>
<line x1="477.44" y1="369" x2="477.44" y2="372" stroke="#000" stroke-width="1.1"/>
<line x1="477.44" y1="352.92" x2="477.44" y2="356.78" stroke="#000" stroke-width="0.8"/>
<line x1="475.84" y1="352.92" x2="479.04" y2="352.92" stroke="#000" stroke-width="0.8"/>
<text x="478.24" y="376.6" font-size="4.4" font-weight="bold" text-anchor="end" transform="rotate(-45 478.24 376.6)">P2722A</text>
<rect x="481.22" y="355.81" width="4.9" height="13.19" fill="#000"/>
<line x1="483.67" y1="369" x2="483.67" y2="372" stroke="#000" stroke-width="1.1"/>
<line x1="483.67" y1="352.12" x2="483.67" y2="355.81" stroke="#000" stroke-width="0.8"/>
<line x1="482.07" y1="352.12" x2="485.27" y2="352.12" stroke="#000" stroke-width="0.8"/>
<text x="484.47" y="376.6" font-size="4.4" font-weight="bold" text-anchor="end" transform="rotate(-45 484.47 376.6)">C2754W</text>
<rect x="487.45" y="349.54" width="4.9" height="19.46" fill="#000"/>
<line x1="489.9" y1="369" x2="489.9" y2="372" stroke="#000" stroke-width="1.1"/>
<line x1="489.9" y1="344.61" x2="489.9" y2="349.54" stroke="#000" stroke-width="0.8"/>
<line x1="488.3" y1="344.61" x2="491.5" y2="344.61" stroke="#000" stroke-width="0.8"/>
<text x="490.7" y="376.6" font-size="4.4" font-weight="bold" text-anchor="end" transform="rotate(-45 490.7 376.6)">R2663C</text>
<rect x="493.69" y="362.57" width="4.9" height="6.43" fill="#000"/>
<line x1="496.14" y1="369" x2="496.14" y2="372" stroke="#000" stroke-width="1.1"/>
<line x1="496.14" y1="361.23" x2="496.14" y2="362.57" stroke="#000" stroke-width="0.8"/>
<line x1="494.54" y1="361.23" x2="497.74" y2="361.23" stroke="#000" stroke-width="0.8"/>
<text x="496.94" y="376.6" font-size="4.4" font-weight="bold" text-anchor="end" transform="rotate(-45 496.94 376.6)">C2739Y</text>
<rect x="499.92" y="355.81" width="4.9" height="13.19" fill="#000"/>
<line x1="502.37" y1="369" x2="502.37" y2="372" stroke="#000" stroke-width="1.1"/>
<line x1="502.37" y1="352.92" x2="502.37" y2="355.81" stroke="#000" stroke-width="0.8"/>
<line x1="500.77" y1="352.92" x2="503.97" y2="352.92" stroke="#000" stroke-width="0.8"/>
<text x="503.17" y="376.6" font-size="4.4" font-weight="bold" text-anchor="end" transform="rotate(-45 503.17 376.6)">P2801S</text>
<rect x="506.15" y="360.85" width="4.9" height="8.15" fill="#000"/>
<line x1="508.6" y1="369" x2="508.6" y2="372" stroke="#000" stroke-width="1.1"/>
<text x="509.4" y="376.6" font-size="4.4" font-weight="bold" text-anchor="end" transform="rotate(-45 509.4 376.6)">P2373A</text>
<line x1="290.48" y1="284.31" x2="290.48" y2="275.6" stroke="#000" stroke-width="0.8"/>
<line x1="290.48" y1="270" x2="290.48" y2="252.6" stroke="#000" stroke-width="0.8"/>
<line x1="288.88" y1="252.6" x2="292.08" y2="252.6" stroke="#000" stroke-width="0.8"/>
<line x1="296.71" y1="315.94" x2="296.71" y2="275.6" stroke="#000" stroke-width="0.8"/>
<line x1="296.71" y1="270" x2="296.71" y2="266.8" stroke="#000" stroke-width="0.8"/>
<line x1="295.11" y1="266.8" x2="298.31" y2="266.8" stroke="#000" stroke-width="0.8"/>
<line x1="194.2" y1="400.3" x2="224.4" y2="400.3" stroke="#000" stroke-width="1.2"/>
<text x="208.5" y="411" font-size="7" text-anchor="middle">D1-D2</text>
<line x1="228.4" y1="400.3" x2="292.9" y2="400.3" stroke="#000" stroke-width="1.2"/>
<text x="252" y="411" font-size="7" text-anchor="middle">D'-D3</text>
<line x1="297" y1="400.3" x2="408.8" y2="400.3" stroke="#000" stroke-width="1.2"/>
<text x="341.6" y="411" font-size="7" text-anchor="middle">A1-A3</text>
<line x1="412.1" y1="400.3" x2="520" y2="400.3" stroke="#000" stroke-width="1.2"/>
<text x="460.3" y="411" font-size="7" text-anchor="middle">D4-CK</text>
</svg>
</body></html>
